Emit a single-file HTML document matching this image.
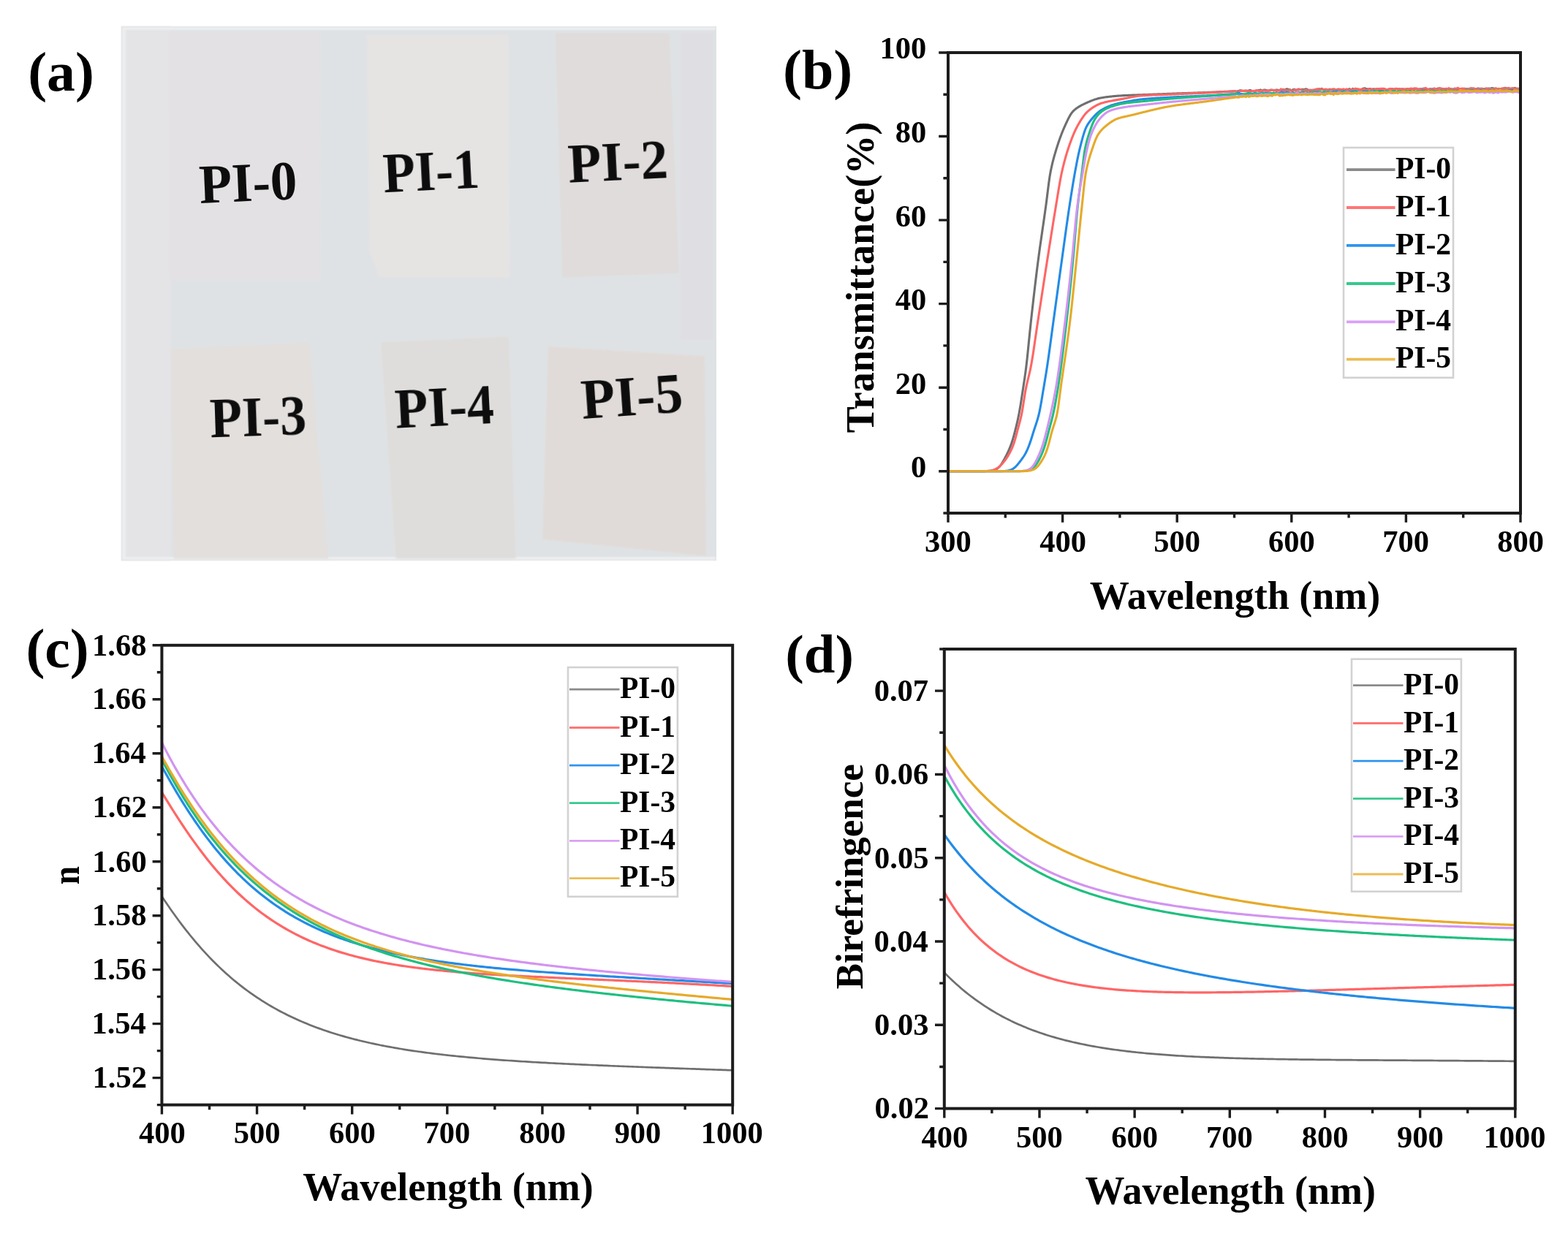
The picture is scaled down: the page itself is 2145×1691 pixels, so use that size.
<!DOCTYPE html><html><head><meta charset="utf-8"><title>PI films figure</title><style>html,body{margin:0;padding:0;background:#fff;}svg{display:block;}</style></head><body>
<svg width="2145" height="1691" viewBox="0 0 2145 1691">
<rect width="2145" height="1691" fill="#fff"/>
<defs><filter id="blur1" x="-5%" y="-5%" width="110%" height="110%"><feGaussianBlur stdDeviation="1.2"/></filter><filter id="blurT" x="-5%" y="-5%" width="110%" height="110%"><feGaussianBlur stdDeviation="0.6"/></filter></defs>
<rect x="166" y="36" width="814" height="731" fill="#dfe2e4"/>
<g filter="url(#blur1)">
<rect x="166" y="36" width="68" height="731" fill="#e4e3e6"/>
<rect x="167" y="37" width="812" height="4" fill="#eceef0"/>
<rect x="167" y="37" width="5" height="729" fill="#eceef0"/>
<rect x="167" y="762" width="812" height="4" fill="#eceef0"/>
<rect x="930" y="45" width="46" height="420" fill="#dfdfe3"/>
<polygon points="230.5,43.6 437.3,43.6 438,383 231,383" fill="#e3e1e3"/>
<polygon points="501.9,47.4 695.4,47.4 697,379.5 519,379.5 506,345" fill="#e6e3e3"/>
<polygon points="760,45.5 915.5,45.5 928.8,373.8 769.4,379.5" fill="#dfdcdb"/>
<polygon points="233.5,477.8 423,468.3 449,764.3 238,764.3" fill="#e2dfdd"/>
<polygon points="520.8,468.3 696,460.7 705.5,764.3 541.7,764.3" fill="#dfdddb"/>
<polygon points="750,474 964,487.3 966,760.5 742,737.8" fill="#e0dbd8"/>
</g>
<g filter="url(#blurT)" fill="#0b0b0b">
<text transform="translate(274.5,277.9) rotate(-2.5) scale(0.965,1)" x="-1.14" y="0" font-size="75.8" font-family="'Liberation Serif','Times New Roman',serif" font-weight="bold">PI-0</text>
<text transform="translate(526.3,263.2) rotate(-2.9) scale(0.93,1)" x="-1.16" y="0" font-size="77.5" font-family="'Liberation Serif','Times New Roman',serif" font-weight="bold">PI-1</text>
<text transform="translate(779.3,249.7) rotate(-2.8) scale(0.97,1)" x="-1.16" y="0" font-size="77.0" font-family="'Liberation Serif','Times New Roman',serif" font-weight="bold">PI-2</text>
<text transform="translate(289,598.3) rotate(-1.9) scale(0.93,1)" x="-1.16" y="0" font-size="77.4" font-family="'Liberation Serif','Times New Roman',serif" font-weight="bold">PI-3</text>
<text transform="translate(542.7,585.6) rotate(-2.9) scale(0.955,1)" x="-1.16" y="0" font-size="77.4" font-family="'Liberation Serif','Times New Roman',serif" font-weight="bold">PI-4</text>
<text transform="translate(797.9,572.9) rotate(-4.0) scale(0.98,1)" x="-1.16" y="0" font-size="77.4" font-family="'Liberation Serif','Times New Roman',serif" font-weight="bold">PI-5</text>
</g>
<text transform="translate(38.2,123.61) scale(1.0085,1)" x="0" y="0" font-size="77.11" font-family="'Liberation Serif','Times New Roman',serif" font-weight="bold">(a)</text>
<path d="M1297,644.73 L1300.6,644.73 L1301.54,644.73 L1302.6,644.73 L1303.76,644.73 L1305.01,644.73 L1306.33,644.73 L1307.7,644.73 L1309.12,644.73 L1310.57,644.73 L1312.04,644.73 L1313.52,644.73 L1315.01,644.73 L1316.51,644.73 L1318,644.73 L1319.5,644.73 L1321,644.73 L1322.5,644.73 L1324,644.73 L1325.5,644.73 L1327,644.73 L1328.5,644.73 L1330,644.73 L1331.5,644.73 L1333,644.72 L1334.5,644.72 L1336,644.72 L1337.5,644.71 L1339,644.71 L1340.5,644.7 L1342,644.69 L1343.5,644.67 L1345,644.65 L1346.49,644.63 L1347.99,644.59 L1349.48,644.55 L1350.97,644.48 L1352.45,644.39 L1353.91,644.27 L1355.36,644.11 L1356.78,643.89 L1358.18,643.61 L1359.54,643.25 L1360.85,642.81 L1362.11,642.26 L1363.32,641.62 L1364.46,640.88 L1365.55,640.03 L1366.57,639.09 L1367.54,638.07 L1368.45,636.98 L1369.32,635.83 L1370.15,634.63 L1370.95,633.4 L1371.72,632.13 L1372.47,630.85 L1373.2,629.55 L1373.92,628.24 L1374.63,626.92 L1375.33,625.6 L1376.03,624.27 L1376.71,622.93 L1377.38,621.59 L1378.03,620.25 L1378.68,618.9 L1379.31,617.54 L1379.93,616.17 L1380.53,614.8 L1381.11,613.42 L1381.67,612.03 L1382.22,610.64 L1382.75,609.24 L1383.27,607.83 L1383.77,606.42 L1384.25,605 L1384.71,603.58 L1385.16,602.15 L1385.59,600.71 L1386.02,599.28 L1386.43,597.84 L1386.83,596.39 L1387.23,594.94 L1387.61,593.5 L1387.99,592.05 L1388.37,590.59 L1388.74,589.14 L1389.11,587.69 L1389.48,586.23 L1389.84,584.78 L1390.2,583.32 L1390.55,581.86 L1390.9,580.41 L1391.25,578.95 L1391.59,577.48 L1391.92,576.02 L1392.24,574.56 L1392.56,573.09 L1392.87,571.63 L1393.17,570.16 L1393.47,568.69 L1393.76,567.22 L1394.04,565.74 L1394.32,564.27 L1394.59,562.79 L1394.85,561.32 L1395.11,559.84 L1395.36,558.36 L1395.61,556.88 L1395.86,555.4 L1396.1,553.92 L1396.34,552.44 L1396.57,550.96 L1396.81,549.48 L1397.04,548 L1397.27,546.52 L1397.5,545.03 L1397.73,543.55 L1397.96,542.07 L1398.19,540.59 L1398.41,539.1 L1398.64,537.62 L1398.87,536.14 L1399.09,534.65 L1399.32,533.17 L1399.55,531.69 L1399.77,530.21 L1400,528.72 L1400.23,527.24 L1400.45,525.76 L1400.68,524.27 L1400.9,522.79 L1401.13,521.31 L1401.35,519.82 L1401.57,518.34 L1401.79,516.86 L1402,515.37 L1402.21,513.89 L1402.42,512.4 L1402.63,510.92 L1402.83,509.43 L1403.03,507.94 L1403.23,506.46 L1403.42,504.97 L1403.61,503.48 L1403.8,501.99 L1403.98,500.5 L1404.16,499.02 L1404.33,497.53 L1404.5,496.04 L1404.67,494.55 L1404.84,493.05 L1405.01,491.56 L1405.17,490.07 L1405.33,488.58 L1405.49,487.09 L1405.65,485.6 L1405.8,484.11 L1405.96,482.61 L1406.11,481.12 L1406.26,479.63 L1406.41,478.14 L1406.56,476.65 L1406.72,475.15 L1406.86,473.66 L1407.01,472.17 L1407.16,470.68 L1407.31,469.18 L1407.46,467.69 L1407.61,466.2 L1407.76,464.7 L1407.91,463.21 L1408.06,461.72 L1408.21,460.23 L1408.36,458.73 L1408.51,457.24 L1408.66,455.75 L1408.81,454.26 L1408.96,452.77 L1409.11,451.27 L1409.27,449.78 L1409.43,448.29 L1409.58,446.8 L1409.74,445.31 L1409.9,443.81 L1410.06,442.32 L1410.22,440.83 L1410.38,439.34 L1410.55,437.85 L1410.71,436.36 L1410.88,434.87 L1411.04,433.38 L1411.21,431.89 L1411.37,430.39 L1411.54,428.9 L1411.71,427.41 L1411.87,425.92 L1412.04,424.43 L1412.21,422.94 L1412.38,421.45 L1412.55,419.96 L1412.71,418.47 L1412.88,416.98 L1413.05,415.49 L1413.22,414 L1413.39,412.51 L1413.56,411.02 L1413.73,409.53 L1413.9,408.04 L1414.07,406.55 L1414.25,405.06 L1414.42,403.57 L1414.59,402.08 L1414.76,400.59 L1414.94,399.1 L1415.11,397.61 L1415.29,396.12 L1415.46,394.63 L1415.64,393.14 L1415.81,391.65 L1415.99,390.16 L1416.17,388.67 L1416.34,387.18 L1416.52,385.69 L1416.7,384.2 L1416.88,382.71 L1417.06,381.22 L1417.24,379.73 L1417.42,378.24 L1417.6,376.76 L1417.79,375.27 L1417.97,373.78 L1418.16,372.29 L1418.34,370.8 L1418.53,369.31 L1418.71,367.82 L1418.9,366.34 L1419.09,364.85 L1419.28,363.36 L1419.47,361.87 L1419.66,360.38 L1419.86,358.9 L1420.05,357.41 L1420.24,355.92 L1420.44,354.44 L1420.64,352.95 L1420.84,351.46 L1421.04,349.98 L1421.24,348.49 L1421.44,347 L1421.64,345.52 L1421.85,344.03 L1422.05,342.54 L1422.26,341.06 L1422.46,339.57 L1422.67,338.09 L1422.88,336.6 L1423.09,335.12 L1423.3,333.63 L1423.51,332.15 L1423.72,330.66 L1423.94,329.18 L1424.15,327.69 L1424.36,326.21 L1424.58,324.72 L1424.79,323.24 L1425.01,321.75 L1425.23,320.27 L1425.44,318.79 L1425.66,317.3 L1425.87,315.82 L1426.09,314.33 L1426.31,312.85 L1426.52,311.36 L1426.74,309.88 L1426.96,308.39 L1427.17,306.91 L1427.39,305.43 L1427.6,303.94 L1427.82,302.46 L1428.03,300.97 L1428.25,299.49 L1428.46,298 L1428.67,296.52 L1428.89,295.03 L1429.1,293.55 L1429.31,292.06 L1429.52,290.58 L1429.73,289.09 L1429.93,287.61 L1430.14,286.12 L1430.35,284.64 L1430.55,283.15 L1430.75,281.66 L1430.95,280.18 L1431.15,278.69 L1431.35,277.2 L1431.54,275.72 L1431.73,274.23 L1431.92,272.74 L1432.11,271.25 L1432.3,269.76 L1432.48,268.28 L1432.67,266.79 L1432.85,265.3 L1433.04,263.81 L1433.22,262.32 L1433.4,260.83 L1433.59,259.34 L1433.77,257.85 L1433.96,256.37 L1434.15,254.88 L1434.34,253.39 L1434.53,251.9 L1434.73,250.42 L1434.93,248.93 L1435.14,247.44 L1435.35,245.96 L1435.56,244.48 L1435.79,242.99 L1436.02,241.51 L1436.26,240.03 L1436.51,238.55 L1436.78,237.08 L1437.05,235.6 L1437.33,234.13 L1437.62,232.66 L1437.92,231.19 L1438.23,229.72 L1438.55,228.26 L1438.88,226.79 L1439.21,225.33 L1439.56,223.87 L1439.91,222.41 L1440.27,220.96 L1440.64,219.5 L1441.02,218.05 L1441.4,216.6 L1441.8,215.16 L1442.2,213.71 L1442.61,212.27 L1443.03,210.83 L1443.45,209.39 L1443.88,207.95 L1444.31,206.51 L1444.75,205.08 L1445.19,203.65 L1445.63,202.21 L1446.08,200.78 L1446.54,199.35 L1447,197.93 L1447.47,196.5 L1447.94,195.08 L1448.42,193.66 L1448.91,192.24 L1449.41,190.82 L1449.91,189.41 L1450.42,188 L1450.94,186.59 L1451.46,185.19 L1452,183.78 L1452.54,182.39 L1453.09,180.99 L1453.66,179.6 L1454.23,178.22 L1454.81,176.84 L1455.41,175.46 L1456.01,174.09 L1456.63,172.72 L1457.24,171.35 L1457.86,169.98 L1458.49,168.62 L1459.12,167.26 L1459.75,165.9 L1460.39,164.54 L1461.05,163.19 L1461.71,161.85 L1462.4,160.52 L1463.11,159.2 L1463.84,157.89 L1464.62,156.61 L1465.44,155.36 L1466.32,154.15 L1467.27,153 L1468.28,151.9 L1469.35,150.87 L1470.48,149.88 L1471.64,148.94 L1472.84,148.04 L1474.06,147.18 L1475.32,146.36 L1476.59,145.57 L1477.89,144.83 L1479.21,144.11 L1480.55,143.43 L1481.89,142.77 L1483.24,142.12 L1484.61,141.49 L1485.97,140.87 L1487.34,140.26 L1488.71,139.66 L1490.09,139.06 L1491.47,138.48 L1492.86,137.91 L1494.26,137.37 L1495.66,136.84 L1497.07,136.33 L1498.49,135.86 L1499.92,135.41 L1501.37,135 L1502.82,134.62 L1504.28,134.28 L1505.74,133.98 L1507.22,133.72 L1508.7,133.47 L1510.18,133.25 L1511.67,133.03 L1513.15,132.83 L1514.64,132.63 L1516.13,132.45 L1517.62,132.27 L1519.11,132.1 L1520.6,131.94 L1522.09,131.79 L1523.58,131.65 L1525.08,131.51 L1526.57,131.38 L1528.07,131.26 L1529.56,131.14 L1531.06,131.03 L1532.56,130.93 L1534.05,130.83 L1535.55,130.74 L1537.05,130.66 L1538.54,130.58 L1540.04,130.51 L1541.54,130.44 L1543.04,130.38 L1544.54,130.32 L1546.04,130.26 L1547.54,130.21 L1549.04,130.16 L1550.54,130.11 L1552.03,130.06 L1553.53,130.01 L1555.03,129.97 L1556.53,129.92 L1558.03,129.87 L1559.53,129.81 L1561.03,129.76 L1562.53,129.71 L1564.03,129.65 L1565.53,129.59 L1567.03,129.54 L1568.52,129.48 L1570.02,129.43 L1571.52,129.37 L1573.02,129.31 L1574.52,129.26 L1576.02,129.2 L1577.52,129.14 L1579.02,129.09 L1580.52,129.03 L1582.01,128.97 L1583.51,128.92 L1585.01,128.86 L1586.51,128.8 L1588.01,128.75 L1589.51,128.69 L1591.01,128.63 L1592.51,128.58 L1594.01,128.52 L1595.51,128.47 L1597,128.41 L1598.5,128.36 L1600,128.3 L1601.5,128.25 L1603,128.19 L1604.5,128.14 L1606,128.08 L1607.5,128.03 L1609,127.98 L1610.5,127.92 L1611.99,127.87 L1613.49,127.82 L1614.99,127.76 L1616.49,127.71 L1617.99,127.66 L1619.49,127.61 L1620.99,127.55 L1622.49,127.5 L1623.99,127.45 L1625.49,127.4 L1626.99,127.34 L1628.48,127.29 L1629.98,127.24 L1631.48,127.18 L1632.98,127.13 L1634.48,127.08 L1635.98,127.02 L1637.48,126.97 L1638.98,126.91 L1640.48,126.86 L1641.98,126.8 L1643.47,126.75 L1644.97,126.69 L1646.47,126.63 L1647.97,126.58 L1649.47,126.52 L1650.97,126.46 L1652.47,126.4 L1653.97,126.34 L1655.46,126.27 L1656.96,126.21 L1658.46,126.14 L1659.96,126.08 L1661.46,126.01 L1662.96,125.94 L1664.46,125.87 L1665.95,125.8 L1667.45,125.73 L1668.95,125.66 L1670.45,125.59 L1671.95,125.52 L1673.45,125.45 L1674.94,125.38 L1676.44,125.31 L1677.94,125.24 L1679.44,125.18 L1680.94,125.11 L1682.44,125.04 L1683.94,124.98 L1685.43,124.92 L1686.93,124.86 L1688.43,124.8 L1689.93,124.74 L1691.43,125.35 L1692.93,124.84 L1694.43,124.63 L1695.93,123.7 L1697.43,123.84 L1698.93,124.26 L1700.42,124.18 L1701.92,124.26 L1703.42,124.1 L1704.92,123.98 L1706.42,124.21 L1707.92,123.97 L1709.42,123.62 L1710.92,123.66 L1712.42,124.62 L1713.92,124.58 L1715.42,124.8 L1716.92,124.76 L1718.42,123.98 L1719.92,123.74 L1721.42,123.6 L1722.92,123.38 L1724.42,122.9 L1725.92,124.01 L1727.42,123.73 L1728.92,123.06 L1730.42,123 L1731.92,123.41 L1733.42,124.03 L1734.92,124.33 L1736.42,123.74 L1737.92,123.14 L1739.42,123.02 L1740.92,123.29 L1742.41,123.87 L1743.91,123.49 L1745.41,123.16 L1746.91,123.03 L1748.41,123.25 L1749.91,123.66 L1751.41,124.16 L1752.91,124.02 L1754.41,122.54 L1755.91,122.8 L1757.41,122.81 L1758.91,122.49 L1760.41,121.74 L1761.91,122.39 L1763.41,122.56 L1764.91,122.83 L1766.41,123.77 L1767.91,123.18 L1769.41,122.52 L1770.91,122.39 L1772.41,123.39 L1773.91,122.91 L1775.41,122.32 L1776.91,122.06 L1778.41,122.55 L1779.91,122.53 L1781.41,122.42 L1782.91,122.45 L1784.41,122.84 L1785.91,121.79 L1787.41,122.02 L1788.91,122.78 L1790.41,123.34 L1791.91,123.25 L1793.41,123.28 L1794.91,123.34 L1796.41,123.32 L1797.91,123.47 L1799.41,122.72 L1800.91,122.22 L1802.41,123.08 L1803.91,121.85 L1805.41,121.8 L1806.91,121.96 L1808.41,121.36 L1809.91,122.67 L1811.41,123.19 L1812.91,123.03 L1814.41,122.33 L1815.91,123.2 L1817.41,122.75 L1818.91,122.13 L1820.41,122.49 L1821.91,122.48 L1823.41,122.1 L1824.91,121.95 L1826.41,122.62 L1827.91,123.28 L1829.41,122.61 L1830.91,122 L1832.41,122.86 L1833.91,122.37 L1835.41,122.78 L1836.91,123.16 L1838.41,122.57 L1839.91,122.65 L1841.41,122.66 L1842.91,122.58 L1844.41,122.4 L1845.91,121.65 L1847.41,122.23 L1848.91,122.64 L1850.41,121.39 L1851.91,122.11 L1853.41,122.46 L1854.91,122.34 L1856.41,121.68 L1857.91,122.12 L1859.41,122.57 L1860.91,122.69 L1862.41,122.15 L1863.91,121.75 L1865.41,121.01 L1866.91,120.68 L1868.41,121.55 L1869.91,121.72 L1871.41,121.79 L1872.91,121.74 L1874.41,121.53 L1875.91,122.13 L1877.41,122.04 L1878.91,121.81 L1880.41,122.02 L1881.91,122.37 L1883.41,122.02 L1884.91,121.63 L1886.41,121.88 L1887.91,122.98 L1889.41,122.96 L1890.91,122.24 L1892.41,121.26 L1893.91,121.8 L1895.41,122.17 L1896.91,122.45 L1898.41,122.75 L1899.91,122.25 L1901.41,121.88 L1902.91,121.64 L1904.41,121.54 L1905.91,122.15 L1907.41,122.25 L1908.91,122.02 L1910.41,121.64 L1911.91,121.79 L1913.41,121.76 L1914.91,121.86 L1916.41,122.36 L1917.91,121.72 L1919.41,121.86 L1920.91,122.26 L1922.41,122.41 L1923.91,122.24 L1925.41,121.79 L1926.91,121.71 L1928.41,122.69 L1929.91,121.77 L1931.41,121.79 L1932.91,121.94 L1934.41,121.4 L1935.91,120.95 L1937.41,121.39 L1938.91,121.98 L1940.41,122 L1941.91,121.83 L1943.41,121.88 L1944.91,121.84 L1946.41,121.42 L1947.91,121.37 L1949.41,121.52 L1950.91,122 L1952.41,122.93 L1953.91,122.43 L1955.41,121.86 L1956.91,121.62 L1958.41,122.1 L1959.91,121.62 L1961.41,121.47 L1962.91,121.67 L1964.41,122.25 L1965.91,121.62 L1967.41,121.06 L1968.91,120.83 L1970.41,121.17 L1971.91,121.61 L1973.41,121.77 L1974.91,121.94 L1976.41,122.44 L1977.91,121.55 L1979.41,121.68 L1980.91,122.07 L1982.41,121.92 L1983.91,121.66 L1985.41,121.86 L1986.91,122.1 L1988.41,121.94 L1989.91,121.32 L1991.41,121.7 L1992.91,121.93 L1994.41,120.89 L1995.91,121.46 L1997.41,121.63 L1998.91,121.67 L2000.41,121.85 L2001.91,121.33 L2003.41,121.36 L2004.91,121.54 L2006.41,121.49 L2007.91,122 L2009.41,121.62 L2010.91,121.21 L2012.41,121.6 L2013.91,121.44 L2015.41,121.07 L2016.91,121.35 L2018.41,123.14 L2019.9,121.89 L2021.4,121.05 L2022.9,121.05 L2024.4,122.35 L2025.9,121.23 L2027.4,121.29 L2028.9,121.79 L2030.4,122 L2031.9,121.32 L2033.4,121.15 L2034.9,121.19 L2036.4,121.14 L2037.9,121.32 L2039.4,120.92 L2040.9,120.53 L2042.4,120.7 L2043.9,121.18 L2045.4,121.7 L2046.9,121.98 L2048.4,121.8 L2049.9,122.28 L2051.4,122.13 L2052.9,121.64 L2054.4,121.09 L2055.9,121.26 L2057.4,120.74 L2058.9,120.32 L2060.4,120.8 L2061.9,120.76 L2063.4,121.14 L2064.9,121.57 L2066.4,121.74 L2067.9,121.19 L2069.4,120.99 L2070.9,120.84 L2072.4,120.4 L2073.9,121.03 L2075.37,121.35 L2076.77,121.49 L2077.99,121.57 L2078.91,121.57" fill="none" stroke="#6f6f6f" stroke-width="3.1" stroke-linejoin="round"/>
<path d="M1297,644.73 L1300.6,644.73 L1301.54,644.73 L1302.6,644.73 L1303.76,644.73 L1305.01,644.73 L1306.33,644.73 L1307.7,644.73 L1309.12,644.73 L1310.57,644.73 L1312.04,644.73 L1313.52,644.73 L1315.01,644.73 L1316.51,644.73 L1318,644.73 L1319.5,644.73 L1321,644.73 L1322.5,644.73 L1324,644.73 L1325.5,644.73 L1327,644.73 L1328.5,644.73 L1330,644.73 L1331.5,644.73 L1333,644.72 L1334.5,644.72 L1336,644.72 L1337.5,644.72 L1339,644.71 L1340.5,644.7 L1342,644.68 L1343.5,644.66 L1344.99,644.62 L1346.49,644.58 L1347.98,644.52 L1349.47,644.44 L1350.95,644.34 L1352.43,644.2 L1353.89,644.02 L1355.33,643.8 L1356.76,643.51 L1358.15,643.16 L1359.52,642.74 L1360.85,642.24 L1362.14,641.65 L1363.39,640.98 L1364.59,640.22 L1365.76,639.39 L1366.89,638.5 L1367.98,637.54 L1369.04,636.53 L1370.07,635.47 L1371.07,634.39 L1372.05,633.27 L1373,632.12 L1373.93,630.96 L1374.83,629.77 L1375.72,628.57 L1376.58,627.34 L1377.41,626.11 L1378.22,624.85 L1379.01,623.58 L1379.77,622.3 L1380.51,621 L1381.23,619.69 L1381.93,618.36 L1382.6,617.03 L1383.24,615.68 L1383.87,614.32 L1384.47,612.95 L1385.05,611.57 L1385.61,610.19 L1386.14,608.79 L1386.65,607.38 L1387.14,605.97 L1387.6,604.55 L1388.05,603.12 L1388.48,601.68 L1388.9,600.25 L1389.3,598.8 L1389.69,597.36 L1390.08,595.91 L1390.46,594.46 L1390.84,593.01 L1391.21,591.56 L1391.59,590.1 L1391.98,588.65 L1392.36,587.21 L1392.75,585.76 L1393.15,584.31 L1393.54,582.86 L1393.94,581.42 L1394.33,579.97 L1394.72,578.52 L1395.1,577.07 L1395.47,575.62 L1395.84,574.17 L1396.19,572.71 L1396.54,571.25 L1396.87,569.79 L1397.18,568.32 L1397.49,566.86 L1397.78,565.39 L1398.06,563.91 L1398.33,562.44 L1398.59,560.96 L1398.84,559.49 L1399.09,558.01 L1399.33,556.53 L1399.56,555.04 L1399.8,553.56 L1400.03,552.08 L1400.25,550.6 L1400.48,549.12 L1400.71,547.63 L1400.94,546.15 L1401.17,544.67 L1401.4,543.19 L1401.64,541.71 L1401.88,540.23 L1402.12,538.75 L1402.38,537.27 L1402.64,535.79 L1402.9,534.32 L1403.18,532.84 L1403.47,531.37 L1403.76,529.9 L1404.07,528.43 L1404.38,526.97 L1404.71,525.5 L1405.04,524.04 L1405.39,522.58 L1405.74,521.13 L1406.09,519.67 L1406.45,518.21 L1406.8,516.76 L1407.16,515.3 L1407.52,513.84 L1407.87,512.38 L1408.21,510.92 L1408.55,509.46 L1408.88,508 L1409.2,506.54 L1409.51,505.07 L1409.81,503.6 L1410.11,502.13 L1410.39,500.66 L1410.67,499.18 L1410.94,497.71 L1411.21,496.23 L1411.47,494.76 L1411.72,493.28 L1411.97,491.8 L1412.21,490.32 L1412.45,488.84 L1412.69,487.36 L1412.93,485.88 L1413.16,484.39 L1413.39,482.91 L1413.61,481.43 L1413.84,479.95 L1414.06,478.46 L1414.28,476.98 L1414.5,475.5 L1414.72,474.01 L1414.94,472.53 L1415.16,471.04 L1415.37,469.56 L1415.59,468.08 L1415.8,466.59 L1416.02,465.11 L1416.23,463.62 L1416.45,462.14 L1416.66,460.65 L1416.88,459.17 L1417.09,457.68 L1417.31,456.2 L1417.52,454.71 L1417.74,453.23 L1417.96,451.75 L1418.17,450.26 L1418.39,448.78 L1418.61,447.29 L1418.83,445.81 L1419.06,444.33 L1419.28,442.84 L1419.5,441.36 L1419.73,439.88 L1419.95,438.39 L1420.18,436.91 L1420.41,435.43 L1420.63,433.95 L1420.86,432.46 L1421.09,430.98 L1421.31,429.5 L1421.54,428.02 L1421.77,426.53 L1421.99,425.05 L1422.22,423.57 L1422.45,422.08 L1422.68,420.6 L1422.9,419.12 L1423.13,417.64 L1423.36,416.15 L1423.58,414.67 L1423.81,413.19 L1424.04,411.7 L1424.26,410.22 L1424.49,408.74 L1424.72,407.26 L1424.94,405.77 L1425.17,404.29 L1425.4,402.81 L1425.62,401.33 L1425.85,399.84 L1426.08,398.36 L1426.3,396.88 L1426.53,395.39 L1426.76,393.91 L1426.98,392.43 L1427.21,390.95 L1427.44,389.46 L1427.67,387.98 L1427.89,386.5 L1428.12,385.02 L1428.35,383.53 L1428.58,382.05 L1428.81,380.57 L1429.04,379.09 L1429.26,377.6 L1429.49,376.12 L1429.72,374.64 L1429.95,373.16 L1430.18,371.67 L1430.41,370.19 L1430.64,368.71 L1430.87,367.23 L1431.1,365.75 L1431.34,364.26 L1431.57,362.78 L1431.8,361.3 L1432.03,359.82 L1432.26,358.34 L1432.49,356.85 L1432.73,355.37 L1432.96,353.89 L1433.19,352.41 L1433.42,350.93 L1433.66,349.44 L1433.89,347.96 L1434.12,346.48 L1434.36,345 L1434.59,343.52 L1434.82,342.04 L1435.05,340.55 L1435.29,339.07 L1435.52,337.59 L1435.75,336.11 L1435.99,334.63 L1436.22,333.14 L1436.46,331.66 L1436.69,330.18 L1436.93,328.7 L1437.16,327.22 L1437.39,325.74 L1437.63,324.26 L1437.86,322.77 L1438.1,321.29 L1438.34,319.81 L1438.57,318.33 L1438.81,316.85 L1439.04,315.37 L1439.28,313.89 L1439.52,312.41 L1439.76,310.92 L1439.99,309.44 L1440.23,307.96 L1440.47,306.48 L1440.71,305 L1440.95,303.52 L1441.19,302.04 L1441.43,300.56 L1441.67,299.08 L1441.91,297.6 L1442.15,296.12 L1442.39,294.64 L1442.63,293.16 L1442.88,291.68 L1443.12,290.19 L1443.36,288.71 L1443.6,287.23 L1443.85,285.75 L1444.09,284.27 L1444.34,282.79 L1444.58,281.31 L1444.82,279.83 L1445.07,278.35 L1445.31,276.87 L1445.55,275.39 L1445.79,273.91 L1446.03,272.43 L1446.27,270.95 L1446.51,269.47 L1446.76,267.99 L1447,266.51 L1447.24,265.03 L1447.48,263.55 L1447.72,262.07 L1447.96,260.59 L1448.21,259.11 L1448.45,257.63 L1448.7,256.15 L1448.95,254.67 L1449.2,253.19 L1449.46,251.71 L1449.72,250.24 L1449.98,248.76 L1450.25,247.28 L1450.52,245.81 L1450.79,244.33 L1451.08,242.86 L1451.37,241.39 L1451.66,239.92 L1451.96,238.45 L1452.27,236.98 L1452.59,235.52 L1452.92,234.05 L1453.25,232.59 L1453.58,231.13 L1453.92,229.67 L1454.27,228.21 L1454.63,226.75 L1454.99,225.3 L1455.35,223.84 L1455.72,222.39 L1456.1,220.94 L1456.49,219.49 L1456.88,218.04 L1457.28,216.59 L1457.69,215.15 L1458.1,213.71 L1458.52,212.27 L1458.95,210.83 L1459.39,209.4 L1459.83,207.96 L1460.28,206.53 L1460.75,205.11 L1461.21,203.68 L1461.69,202.26 L1462.17,200.84 L1462.65,199.42 L1463.14,198 L1463.64,196.59 L1464.14,195.17 L1464.65,193.76 L1465.17,192.35 L1465.69,190.95 L1466.22,189.55 L1466.77,188.15 L1467.32,186.75 L1467.88,185.36 L1468.45,183.97 L1469.03,182.59 L1469.63,181.22 L1470.24,179.85 L1470.87,178.49 L1471.52,177.13 L1472.18,175.79 L1472.87,174.45 L1473.57,173.13 L1474.28,171.81 L1475.02,170.5 L1475.76,169.2 L1476.51,167.9 L1477.27,166.61 L1478.05,165.33 L1478.84,164.05 L1479.65,162.79 L1480.48,161.54 L1481.32,160.3 L1482.19,159.08 L1483.09,157.88 L1484.02,156.71 L1484.98,155.56 L1485.99,154.45 L1487.03,153.38 L1488.12,152.35 L1489.25,151.37 L1490.41,150.41 L1491.59,149.49 L1492.79,148.6 L1494.01,147.73 L1495.25,146.89 L1496.52,146.08 L1497.8,145.31 L1499.11,144.58 L1500.43,143.88 L1501.78,143.23 L1503.15,142.62 L1504.54,142.06 L1505.95,141.55 L1507.37,141.08 L1508.8,140.64 L1510.25,140.24 L1511.7,139.85 L1513.15,139.49 L1514.61,139.15 L1516.07,138.82 L1517.54,138.51 L1519.01,138.22 L1520.49,137.93 L1521.96,137.66 L1523.44,137.4 L1524.91,137.14 L1526.39,136.89 L1527.87,136.64 L1529.35,136.4 L1530.83,136.15 L1532.31,135.9 L1533.79,135.65 L1535.27,135.39 L1536.74,135.12 L1538.22,134.84 L1539.69,134.56 L1541.16,134.26 L1542.63,133.96 L1544.1,133.66 L1545.57,133.35 L1547.04,133.05 L1548.51,132.75 L1549.98,132.47 L1551.45,132.19 L1552.93,131.94 L1554.41,131.7 L1555.9,131.48 L1557.38,131.3 L1558.87,131.14 L1560.37,131 L1561.86,130.88 L1563.36,130.77 L1564.85,130.67 L1566.35,130.58 L1567.85,130.49 L1569.35,130.41 L1570.84,130.34 L1572.34,130.26 L1573.84,130.2 L1575.34,130.13 L1576.84,130.07 L1578.34,130.01 L1579.84,129.95 L1581.34,129.89 L1582.83,129.84 L1584.33,129.79 L1585.83,129.73 L1587.33,129.68 L1588.83,129.63 L1590.33,129.58 L1591.83,129.52 L1593.33,129.47 L1594.83,129.41 L1596.33,129.35 L1597.82,129.29 L1599.32,129.23 L1600.82,129.16 L1602.32,129.1 L1603.82,129.03 L1605.32,128.97 L1606.82,128.9 L1608.31,128.83 L1609.81,128.77 L1611.31,128.7 L1612.81,128.64 L1614.31,128.57 L1615.81,128.51 L1617.31,128.44 L1618.8,128.38 L1620.3,128.31 L1621.8,128.25 L1623.3,128.18 L1624.8,128.12 L1626.3,128.05 L1627.8,127.99 L1629.29,127.92 L1630.79,127.86 L1632.29,127.79 L1633.79,127.73 L1635.29,127.66 L1636.79,127.59 L1638.29,127.53 L1639.78,127.46 L1641.28,127.39 L1642.78,127.33 L1644.28,127.26 L1645.78,127.19 L1647.28,127.12 L1648.78,127.06 L1650.27,126.99 L1651.77,126.92 L1653.27,126.84 L1654.77,126.77 L1656.27,126.7 L1657.76,126.62 L1659.26,126.54 L1660.76,126.46 L1662.26,126.38 L1663.76,126.31 L1665.25,126.23 L1666.75,126.14 L1668.25,126.06 L1669.75,125.98 L1671.25,125.9 L1672.74,125.82 L1674.24,125.74 L1675.74,125.66 L1677.24,125.59 L1678.74,125.51 L1680.23,125.43 L1681.73,125.36 L1683.23,125.28 L1684.73,125.21 L1686.23,125.14 L1687.72,125.07 L1689.22,125.01 L1690.72,124.89 L1692.22,126.07 L1693.72,125.66 L1695.22,125.09 L1696.72,124.59 L1698.22,124.34 L1699.72,124.39 L1701.21,124.51 L1702.71,124.59 L1704.21,124.47 L1705.71,124.65 L1707.21,124.77 L1708.71,124.9 L1710.21,125.13 L1711.71,124.99 L1713.21,124.55 L1714.71,124.21 L1716.21,124.39 L1717.71,124.01 L1719.21,123.8 L1720.71,124.07 L1722.21,125.16 L1723.71,124.06 L1725.21,124.41 L1726.71,124.76 L1728.21,123.68 L1729.71,123.92 L1731.21,124.23 L1732.71,124.29 L1734.21,123.78 L1735.7,123.91 L1737.2,123.75 L1738.7,123.49 L1740.2,123.36 L1741.7,123.47 L1743.2,123.35 L1744.7,123.52 L1746.2,124.52 L1747.7,123.68 L1749.2,123.95 L1750.7,123.83 L1752.2,121.82 L1753.7,123.01 L1755.2,123.55 L1756.7,123.56 L1758.2,123.15 L1759.7,123.75 L1761.2,123.8 L1762.7,123.5 L1764.2,123.07 L1765.7,123.36 L1767.2,124.16 L1768.7,124.46 L1770.2,123.28 L1771.7,123.28 L1773.2,123.04 L1774.7,122.88 L1776.2,123.12 L1777.7,122.45 L1779.2,122.55 L1780.7,123.25 L1782.2,124.42 L1783.7,123.77 L1785.2,123.41 L1786.7,123.33 L1788.2,123.52 L1789.7,123.85 L1791.2,123.56 L1792.7,123.37 L1794.2,124.02 L1795.7,123.55 L1797.2,123.11 L1798.7,123.05 L1800.2,123.73 L1801.7,121.88 L1803.2,121.78 L1804.7,122.43 L1806.2,122.79 L1807.7,122.24 L1809.2,122.28 L1810.7,122.42 L1812.2,122.18 L1813.7,122.16 L1815.2,123.16 L1816.7,123.84 L1818.2,122.89 L1819.7,122.57 L1821.2,122.87 L1822.7,123.04 L1824.2,122.33 L1825.7,122.82 L1827.2,122.82 L1828.7,122.84 L1830.2,123.41 L1831.7,122.03 L1833.2,122.22 L1834.69,122.77 L1836.19,122.47 L1837.69,121.88 L1839.19,122.35 L1840.69,122.72 L1842.19,121.84 L1843.69,122.95 L1845.19,122.99 L1846.69,122.67 L1848.19,122.75 L1849.69,122.46 L1851.19,122.61 L1852.69,122.44 L1854.19,121.18 L1855.69,122.05 L1857.19,122.12 L1858.69,122.04 L1860.19,122.44 L1861.69,122.29 L1863.19,122.43 L1864.69,122.41 L1866.19,121.75 L1867.69,122.94 L1869.19,123.48 L1870.69,123.24 L1872.19,122.1 L1873.69,122.18 L1875.19,122.29 L1876.69,122.52 L1878.19,122.96 L1879.69,123.24 L1881.19,122.39 L1882.69,121.54 L1884.19,121.8 L1885.69,121.6 L1887.19,121.51 L1888.69,121.41 L1890.19,121.16 L1891.69,122.06 L1893.19,121.89 L1894.69,121.83 L1896.19,123.02 L1897.69,122.75 L1899.19,122.07 L1900.69,121.48 L1902.19,121.47 L1903.69,121.65 L1905.19,122.31 L1906.69,122.57 L1908.19,121.55 L1909.69,121.25 L1911.19,121.58 L1912.69,122.07 L1914.19,122.25 L1915.69,121.78 L1917.19,122.3 L1918.69,122.76 L1920.19,122.13 L1921.69,122.22 L1923.19,121.85 L1924.69,121.57 L1926.19,121.93 L1927.69,121.87 L1929.19,121.21 L1930.69,120.95 L1932.19,122.09 L1933.69,121.14 L1935.19,121.35 L1936.69,121.66 L1938.19,121 L1939.69,122.56 L1941.19,122.57 L1942.69,122.13 L1944.19,122.36 L1945.69,122.38 L1947.19,121.71 L1948.69,120.88 L1950.19,120.44 L1951.69,121.31 L1953.19,121.96 L1954.69,122.2 L1956.19,121.83 L1957.69,122.14 L1959.19,122.28 L1960.69,121.95 L1962.19,120.85 L1963.69,121.64 L1965.19,122.41 L1966.69,122.52 L1968.19,121.37 L1969.69,120.71 L1971.19,121.02 L1972.69,121.52 L1974.19,121.41 L1975.69,121.8 L1977.19,121.53 L1978.69,121.28 L1980.19,121.71 L1981.69,120.67 L1983.19,121.24 L1984.69,122.27 L1986.19,122.59 L1987.69,122.46 L1989.19,121.56 L1990.69,120.99 L1992.19,121.81 L1993.69,120.32 L1995.19,120.8 L1996.69,121.73 L1998.19,121.57 L1999.69,121.14 L2001.19,121.4 L2002.69,121.77 L2004.19,121.67 L2005.69,122.03 L2007.19,121.91 L2008.69,121.68 L2010.19,121.72 L2011.69,120.74 L2013.19,120.64 L2014.69,120.98 L2016.19,121.28 L2017.69,121.63 L2019.19,121.65 L2020.69,121.78 L2022.19,122.46 L2023.69,121.39 L2025.19,121.22 L2026.69,121.48 L2028.19,121.7 L2029.69,121.48 L2031.19,121.62 L2032.69,121.68 L2034.19,121.2 L2035.69,122.09 L2037.19,121.86 L2038.69,121.56 L2040.19,122.2 L2041.69,121.68 L2043.19,121.96 L2044.69,121.99 L2046.19,120.68 L2047.69,121.54 L2049.19,121.54 L2050.69,121.36 L2052.19,121.65 L2053.69,122.09 L2055.19,121.53 L2056.69,120.8 L2058.19,120.72 L2059.69,120.86 L2061.19,121.28 L2062.69,121.34 L2064.19,120.37 L2065.69,121.26 L2067.19,121.15 L2068.69,120.75 L2070.19,120.82 L2071.69,121.16 L2073.19,121.5 L2074.67,121.58 L2076.1,121.12 L2077.39,121.18 L2078.43,121.2 L2078.7,121.2" fill="none" stroke="#ff6666" stroke-width="3.1" stroke-linejoin="round"/>
<path d="M1297,644.73 L1300.6,644.73 L1301.54,644.73 L1302.6,644.73 L1303.76,644.73 L1305.01,644.73 L1306.33,644.73 L1307.7,644.73 L1309.12,644.73 L1310.57,644.73 L1312.04,644.73 L1313.52,644.73 L1315.01,644.73 L1316.51,644.73 L1318,644.73 L1319.5,644.73 L1321,644.73 L1322.5,644.73 L1324,644.73 L1325.5,644.73 L1327,644.73 L1328.5,644.73 L1330,644.73 L1331.5,644.73 L1333,644.73 L1334.5,644.73 L1336,644.73 L1337.5,644.73 L1339,644.73 L1340.5,644.73 L1342,644.73 L1343.5,644.73 L1345,644.73 L1346.5,644.73 L1348,644.73 L1349.5,644.73 L1351,644.73 L1352.5,644.73 L1354,644.73 L1355.5,644.73 L1357,644.73 L1358.5,644.72 L1360,644.72 L1361.5,644.72 L1363,644.71 L1364.5,644.7 L1366,644.69 L1367.5,644.67 L1368.99,644.64 L1370.49,644.6 L1371.98,644.54 L1373.46,644.46 L1374.94,644.36 L1376.4,644.21 L1377.84,644.02 L1379.25,643.77 L1380.64,643.46 L1381.98,643.07 L1383.28,642.59 L1384.53,642.01 L1385.72,641.34 L1386.87,640.58 L1387.96,639.72 L1389,638.79 L1390.01,637.79 L1390.99,636.74 L1391.94,635.64 L1392.88,634.52 L1393.81,633.37 L1394.73,632.21 L1395.65,631.04 L1396.56,629.86 L1397.45,628.67 L1398.33,627.46 L1399.19,626.25 L1400.02,625.01 L1400.83,623.76 L1401.61,622.49 L1402.35,621.21 L1403.07,619.9 L1403.75,618.57 L1404.41,617.23 L1405.04,615.88 L1405.65,614.52 L1406.23,613.14 L1406.8,611.75 L1407.35,610.36 L1407.88,608.96 L1408.4,607.56 L1408.91,606.15 L1409.4,604.73 L1409.88,603.31 L1410.35,601.89 L1410.8,600.46 L1411.26,599.03 L1411.7,597.6 L1412.14,596.17 L1412.59,594.73 L1413.03,593.3 L1413.47,591.87 L1413.92,590.44 L1414.38,589.01 L1414.84,587.58 L1415.3,586.16 L1415.77,584.73 L1416.25,583.31 L1416.72,581.89 L1417.19,580.47 L1417.66,579.04 L1418.13,577.62 L1418.58,576.19 L1419.02,574.76 L1419.45,573.32 L1419.86,571.88 L1420.25,570.44 L1420.63,568.99 L1421,567.53 L1421.35,566.08 L1421.68,564.62 L1422,563.15 L1422.31,561.69 L1422.61,560.22 L1422.89,558.75 L1423.17,557.27 L1423.45,555.8 L1423.71,554.32 L1423.97,552.85 L1424.23,551.37 L1424.49,549.89 L1424.74,548.41 L1424.99,546.93 L1425.23,545.45 L1425.48,543.97 L1425.73,542.49 L1425.97,541.01 L1426.22,539.53 L1426.46,538.05 L1426.71,536.57 L1426.96,535.09 L1427.2,533.62 L1427.45,532.14 L1427.7,530.66 L1427.95,529.18 L1428.2,527.7 L1428.45,526.22 L1428.7,524.74 L1428.95,523.26 L1429.2,521.78 L1429.45,520.3 L1429.7,518.82 L1429.94,517.34 L1430.19,515.86 L1430.43,514.38 L1430.67,512.9 L1430.91,511.42 L1431.15,509.94 L1431.39,508.46 L1431.62,506.98 L1431.85,505.5 L1432.08,504.02 L1432.31,502.53 L1432.53,501.05 L1432.76,499.57 L1432.98,498.08 L1433.2,496.6 L1433.42,495.11 L1433.63,493.63 L1433.85,492.15 L1434.06,490.66 L1434.27,489.18 L1434.48,487.69 L1434.69,486.21 L1434.9,484.72 L1435.11,483.24 L1435.32,481.75 L1435.52,480.26 L1435.73,478.78 L1435.93,477.29 L1436.14,475.81 L1436.34,474.32 L1436.54,472.83 L1436.75,471.35 L1436.95,469.86 L1437.15,468.37 L1437.35,466.89 L1437.55,465.4 L1437.75,463.92 L1437.95,462.43 L1438.15,460.94 L1438.36,459.46 L1438.56,457.97 L1438.76,456.48 L1438.96,455 L1439.16,453.51 L1439.36,452.02 L1439.56,450.54 L1439.76,449.05 L1439.97,447.56 L1440.17,446.08 L1440.37,444.59 L1440.58,443.11 L1440.78,441.62 L1440.98,440.13 L1441.19,438.65 L1441.39,437.16 L1441.6,435.68 L1441.8,434.19 L1442.01,432.7 L1442.21,431.22 L1442.41,429.73 L1442.62,428.25 L1442.82,426.76 L1443.03,425.27 L1443.23,423.79 L1443.44,422.3 L1443.64,420.82 L1443.84,419.33 L1444.05,417.84 L1444.25,416.36 L1444.45,414.87 L1444.66,413.38 L1444.86,411.9 L1445.06,410.41 L1445.27,408.93 L1445.47,407.44 L1445.68,405.95 L1445.88,404.47 L1446.08,402.98 L1446.29,401.5 L1446.49,400.01 L1446.69,398.52 L1446.9,397.04 L1447.1,395.55 L1447.3,394.07 L1447.51,392.58 L1447.71,391.09 L1447.91,389.61 L1448.12,388.12 L1448.32,386.63 L1448.53,385.15 L1448.73,383.66 L1448.93,382.18 L1449.14,380.69 L1449.34,379.2 L1449.55,377.72 L1449.75,376.23 L1449.96,374.75 L1450.16,373.26 L1450.37,371.77 L1450.57,370.29 L1450.78,368.8 L1450.99,367.32 L1451.19,365.83 L1451.4,364.35 L1451.6,362.86 L1451.81,361.37 L1452.02,359.89 L1452.22,358.4 L1452.43,356.92 L1452.63,355.43 L1452.84,353.95 L1453.04,352.46 L1453.25,350.97 L1453.46,349.49 L1453.66,348 L1453.87,346.52 L1454.07,345.03 L1454.28,343.54 L1454.48,342.06 L1454.69,340.57 L1454.89,339.09 L1455.09,337.6 L1455.3,336.11 L1455.5,334.63 L1455.71,333.14 L1455.91,331.66 L1456.12,330.17 L1456.32,328.68 L1456.53,327.2 L1456.73,325.71 L1456.94,324.23 L1457.15,322.74 L1457.35,321.26 L1457.56,319.77 L1457.77,318.28 L1457.97,316.8 L1458.18,315.31 L1458.39,313.83 L1458.6,312.34 L1458.81,310.86 L1459.02,309.37 L1459.23,307.89 L1459.44,306.4 L1459.65,304.92 L1459.86,303.43 L1460.07,301.95 L1460.28,300.46 L1460.5,298.98 L1460.71,297.49 L1460.93,296.01 L1461.14,294.52 L1461.36,293.04 L1461.58,291.55 L1461.8,290.07 L1462.02,288.59 L1462.24,287.1 L1462.46,285.62 L1462.68,284.14 L1462.91,282.65 L1463.13,281.17 L1463.36,279.69 L1463.58,278.2 L1463.81,276.72 L1464.04,275.24 L1464.27,273.76 L1464.5,272.27 L1464.73,270.79 L1464.96,269.31 L1465.19,267.83 L1465.42,266.35 L1465.66,264.86 L1465.89,263.38 L1466.13,261.9 L1466.36,260.42 L1466.6,258.94 L1466.84,257.46 L1467.08,255.98 L1467.32,254.5 L1467.57,253.02 L1467.81,251.54 L1468.06,250.06 L1468.31,248.58 L1468.56,247.1 L1468.81,245.62 L1469.07,244.14 L1469.32,242.67 L1469.58,241.19 L1469.84,239.71 L1470.11,238.23 L1470.37,236.76 L1470.64,235.28 L1470.91,233.81 L1471.18,232.33 L1471.45,230.86 L1471.73,229.38 L1472,227.91 L1472.28,226.43 L1472.56,224.96 L1472.84,223.49 L1473.12,222.01 L1473.41,220.54 L1473.7,219.07 L1473.99,217.6 L1474.29,216.13 L1474.6,214.66 L1474.9,213.19 L1475.22,211.73 L1475.54,210.26 L1475.87,208.8 L1476.21,207.34 L1476.55,205.88 L1476.9,204.42 L1477.26,202.96 L1477.62,201.5 L1477.98,200.05 L1478.35,198.59 L1478.72,197.14 L1479.09,195.69 L1479.46,194.23 L1479.85,192.78 L1480.23,191.33 L1480.62,189.89 L1481.02,188.44 L1481.43,187 L1481.85,185.56 L1482.28,184.12 L1482.72,182.69 L1483.18,181.26 L1483.66,179.84 L1484.16,178.43 L1484.69,177.02 L1485.26,175.64 L1485.87,174.27 L1486.53,172.93 L1487.23,171.61 L1487.99,170.31 L1488.79,169.04 L1489.63,167.81 L1490.51,166.59 L1491.42,165.4 L1492.36,164.24 L1493.31,163.08 L1494.28,161.93 L1495.26,160.8 L1496.25,159.67 L1497.26,158.56 L1498.28,157.47 L1499.33,156.4 L1500.41,155.36 L1501.52,154.35 L1502.67,153.4 L1503.86,152.49 L1505.09,151.63 L1506.34,150.82 L1507.62,150.03 L1508.92,149.28 L1510.23,148.56 L1511.56,147.87 L1512.91,147.2 L1514.26,146.57 L1515.64,145.96 L1517.02,145.39 L1518.42,144.84 L1519.82,144.33 L1521.24,143.84 L1522.67,143.39 L1524.11,142.95 L1525.55,142.55 L1527,142.16 L1528.45,141.79 L1529.91,141.43 L1531.37,141.09 L1532.83,140.77 L1534.3,140.46 L1535.77,140.15 L1537.24,139.86 L1538.71,139.57 L1540.19,139.29 L1541.66,139.02 L1543.13,138.74 L1544.61,138.47 L1546.09,138.2 L1547.56,137.93 L1549.04,137.66 L1550.51,137.4 L1551.99,137.15 L1553.47,136.91 L1554.95,136.68 L1556.44,136.46 L1557.93,136.27 L1559.41,136.09 L1560.91,135.92 L1562.4,135.77 L1563.89,135.62 L1565.38,135.49 L1566.88,135.35 L1568.37,135.23 L1569.87,135.1 L1571.36,134.98 L1572.86,134.87 L1574.35,134.76 L1575.85,134.65 L1577.35,134.54 L1578.84,134.44 L1580.34,134.34 L1581.84,134.25 L1583.33,134.15 L1584.83,134.06 L1586.33,133.97 L1587.83,133.88 L1589.32,133.8 L1590.82,133.71 L1592.32,133.63 L1593.82,133.54 L1595.31,133.46 L1596.81,133.38 L1598.31,133.29 L1599.81,133.21 L1601.3,133.13 L1602.8,133.05 L1604.3,132.97 L1605.8,132.89 L1607.3,132.82 L1608.79,132.74 L1610.29,132.67 L1611.79,132.6 L1613.29,132.53 L1614.79,132.46 L1616.29,132.39 L1617.78,132.32 L1619.28,132.26 L1620.78,132.19 L1622.28,132.13 L1623.78,132.06 L1625.28,132 L1626.78,131.94 L1628.27,131.87 L1629.77,131.81 L1631.27,131.74 L1632.77,131.68 L1634.27,131.62 L1635.77,131.55 L1637.27,131.49 L1638.77,131.42 L1640.26,131.35 L1641.76,131.29 L1643.26,131.22 L1644.76,131.15 L1646.26,131.08 L1647.76,131.01 L1649.25,130.93 L1650.75,130.86 L1652.25,130.78 L1653.75,130.7 L1655.25,130.62 L1656.74,130.54 L1658.24,130.45 L1659.74,130.36 L1661.24,130.27 L1662.73,130.18 L1664.23,130.09 L1665.73,130 L1667.22,129.91 L1668.72,129.81 L1670.22,129.72 L1671.72,129.63 L1673.21,129.54 L1674.71,129.44 L1676.21,129.35 L1677.7,129.26 L1679.2,129.17 L1680.7,129.09 L1682.2,129 L1683.69,128.92 L1685.19,128.84 L1686.69,128.76 L1688.19,128.68 L1689.69,128.61 L1691.19,128.45 L1692.68,127.95 L1694.18,126.81 L1695.68,127.76 L1697.18,128.19 L1698.68,128.45 L1700.18,128.86 L1701.68,129.24 L1703.18,128.92 L1704.68,128.38 L1706.18,128.08 L1707.68,127.57 L1709.17,127.69 L1710.67,128.07 L1712.17,128.35 L1713.67,128.53 L1715.17,127.93 L1716.67,127.42 L1718.17,127.89 L1719.67,128.12 L1721.17,128.49 L1722.67,128.53 L1724.17,127.78 L1725.67,127.39 L1727.17,127.2 L1728.67,127.18 L1730.17,127.3 L1731.67,127.14 L1733.17,127.51 L1734.67,127.96 L1736.17,128.05 L1737.67,127.87 L1739.17,127.93 L1740.67,127.8 L1742.17,127.03 L1743.67,127.38 L1745.17,127.25 L1746.67,127.06 L1748.17,127.23 L1749.67,127.74 L1751.17,127.51 L1752.67,126.84 L1754.17,125.98 L1755.67,126.68 L1757.17,126.76 L1758.67,126.48 L1760.17,126.09 L1761.67,126.39 L1763.17,126.99 L1764.67,127.6 L1766.16,127.9 L1767.66,126.89 L1769.16,126.99 L1770.66,127.43 L1772.16,127.48 L1773.66,126.41 L1775.16,126.36 L1776.66,126.67 L1778.16,126.64 L1779.66,126.71 L1781.16,126.19 L1782.66,125.82 L1784.16,126.35 L1785.66,126.96 L1787.16,127.2 L1788.66,127.32 L1790.16,127.55 L1791.66,126.55 L1793.16,126.86 L1794.66,127.32 L1796.16,126.75 L1797.66,125.82 L1799.16,126.13 L1800.66,126.57 L1802.16,126.05 L1803.66,126.41 L1805.16,126.33 L1806.66,126.32 L1808.16,126.89 L1809.66,126.44 L1811.16,126.11 L1812.66,126.12 L1814.16,126.66 L1815.66,126.32 L1817.16,125.99 L1818.66,126.02 L1820.16,126.76 L1821.66,125.99 L1823.16,125.65 L1824.66,125.57 L1826.16,125.6 L1827.66,125.17 L1829.16,125.28 L1830.66,125.9 L1832.16,126.97 L1833.66,125.71 L1835.16,125.55 L1836.66,125.64 L1838.16,125.12 L1839.66,125.33 L1841.16,126.03 L1842.66,126.56 L1844.16,126.26 L1845.66,125.57 L1847.16,125.51 L1848.66,125.55 L1850.16,125.16 L1851.66,125.17 L1853.16,125.12 L1854.66,125.07 L1856.16,125.06 L1857.66,125.6 L1859.16,125.85 L1860.66,125.9 L1862.15,125.84 L1863.65,125.53 L1865.15,125.06 L1866.65,124.88 L1868.15,125.45 L1869.65,125.05 L1871.15,125.45 L1872.65,125.92 L1874.15,125.76 L1875.65,125.84 L1877.15,125.52 L1878.65,124.96 L1880.15,124.29 L1881.65,125.52 L1883.15,126.01 L1884.65,125.67 L1886.15,124.43 L1887.65,125.15 L1889.15,125.7 L1890.65,125.66 L1892.15,124.62 L1893.65,125.89 L1895.15,125.67 L1896.65,124.91 L1898.15,124.57 L1899.65,125.66 L1901.15,125.69 L1902.65,125.21 L1904.15,124.77 L1905.65,125.45 L1907.15,124.81 L1908.65,124.52 L1910.15,126.2 L1911.65,125 L1913.15,124.93 L1914.65,125.14 L1916.15,124.82 L1917.65,125.18 L1919.15,125.43 L1920.65,125.3 L1922.15,124.52 L1923.65,125.23 L1925.15,125.13 L1926.65,124.74 L1928.15,124.55 L1929.65,124.74 L1931.15,124.57 L1932.65,124.35 L1934.15,124.43 L1935.65,125.21 L1937.15,125.13 L1938.65,124.98 L1940.15,125.55 L1941.65,125.22 L1943.15,124.66 L1944.65,124.08 L1946.15,123.68 L1947.65,124.21 L1949.15,124.66 L1950.65,124.9 L1952.15,124.77 L1953.65,124.38 L1955.15,124.8 L1956.65,124.93 L1958.15,123.67 L1959.65,123.88 L1961.15,124.36 L1962.65,125.07 L1964.15,125.99 L1965.65,125.18 L1967.15,124.47 L1968.65,124.28 L1970.15,124.98 L1971.65,125.01 L1973.15,125.09 L1974.65,124.96 L1976.15,124.34 L1977.65,124.15 L1979.15,124.36 L1980.65,124.66 L1982.15,124.79 L1983.65,125.31 L1985.15,125.62 L1986.65,125.33 L1988.15,124.05 L1989.65,124.13 L1991.15,124.29 L1992.65,124.39 L1994.15,124.3 L1995.65,124.61 L1997.15,124.71 L1998.65,124.67 L2000.15,124.55 L2001.65,125.03 L2003.15,124.73 L2004.65,124.14 L2006.15,123.72 L2007.65,123.48 L2009.15,123.55 L2010.65,123.7 L2012.15,123.68 L2013.65,123.29 L2015.15,123.92 L2016.65,124.6 L2018.15,124.37 L2019.65,124.09 L2021.15,123.84 L2022.65,123.59 L2024.15,123.27 L2025.65,123.55 L2027.15,124.47 L2028.65,124.68 L2030.15,122.84 L2031.65,123.89 L2033.15,124.41 L2034.65,124.49 L2036.15,124.21 L2037.65,123.99 L2039.15,124.24 L2040.65,124.27 L2042.15,123.42 L2043.65,124.15 L2045.15,124.65 L2046.65,124.53 L2048.15,123.41 L2049.65,123.5 L2051.15,123.81 L2052.65,124.21 L2054.15,124.58 L2055.65,124.73 L2057.15,124.57 L2058.65,124.16 L2060.15,123.54 L2061.65,123.33 L2063.15,123.66 L2064.65,124.08 L2066.15,124.14 L2067.65,123.45 L2069.15,123.57 L2070.65,123.95 L2072.15,124.06 L2073.64,124.37 L2075.11,123.85 L2076.51,123.46 L2077.73,124.15 L2078.65,124.14" fill="none" stroke="#238be6" stroke-width="3.1" stroke-linejoin="round"/>
<path d="M1297,644.73 L1300.6,644.73 L1301.54,644.73 L1302.6,644.73 L1303.76,644.73 L1305.01,644.73 L1306.33,644.73 L1307.7,644.73 L1309.12,644.73 L1310.57,644.73 L1312.04,644.73 L1313.52,644.73 L1315.01,644.73 L1316.51,644.73 L1318,644.73 L1319.5,644.73 L1321,644.73 L1322.5,644.73 L1324,644.73 L1325.5,644.73 L1327,644.73 L1328.5,644.73 L1330,644.73 L1331.5,644.73 L1333,644.73 L1334.5,644.73 L1336,644.73 L1337.5,644.73 L1339,644.73 L1340.5,644.73 L1342,644.73 L1343.5,644.73 L1345,644.73 L1346.5,644.73 L1348,644.73 L1349.5,644.73 L1351,644.73 L1352.5,644.73 L1354,644.73 L1355.5,644.73 L1357,644.73 L1358.5,644.73 L1360,644.73 L1361.5,644.73 L1363,644.73 L1364.5,644.73 L1366,644.73 L1367.5,644.73 L1369,644.73 L1370.5,644.73 L1372,644.73 L1373.5,644.73 L1375,644.73 L1376.5,644.73 L1378,644.73 L1379.5,644.73 L1381,644.73 L1382.5,644.73 L1384,644.72 L1385.5,644.72 L1387,644.72 L1388.5,644.71 L1390,644.71 L1391.5,644.69 L1393,644.68 L1394.49,644.65 L1395.99,644.62 L1397.48,644.57 L1398.97,644.5 L1400.45,644.41 L1401.91,644.29 L1403.36,644.12 L1404.78,643.9 L1406.18,643.62 L1407.53,643.27 L1408.83,642.83 L1410.08,642.29 L1411.27,641.65 L1412.4,640.92 L1413.47,640.08 L1414.47,639.15 L1415.42,638.13 L1416.32,637.04 L1417.18,635.9 L1418,634.7 L1418.79,633.47 L1419.56,632.21 L1420.31,630.93 L1421.04,629.63 L1421.75,628.32 L1422.44,626.99 L1423.1,625.65 L1423.75,624.3 L1424.38,622.95 L1424.98,621.58 L1425.56,620.2 L1426.13,618.81 L1426.67,617.42 L1427.19,616.02 L1427.7,614.61 L1428.19,613.19 L1428.67,611.77 L1429.13,610.35 L1429.58,608.92 L1430.02,607.48 L1430.44,606.05 L1430.85,604.61 L1431.25,603.16 L1431.64,601.71 L1432.02,600.26 L1432.4,598.81 L1432.77,597.36 L1433.13,595.9 L1433.5,594.45 L1433.87,593 L1434.23,591.54 L1434.61,590.09 L1434.98,588.64 L1435.36,587.19 L1435.75,585.74 L1436.14,584.29 L1436.53,582.84 L1436.92,581.39 L1437.31,579.95 L1437.7,578.5 L1438.09,577.05 L1438.47,575.6 L1438.85,574.15 L1439.22,572.7 L1439.58,571.24 L1439.93,569.78 L1440.28,568.32 L1440.61,566.86 L1440.94,565.4 L1441.26,563.93 L1441.57,562.47 L1441.88,561 L1442.18,559.53 L1442.47,558.06 L1442.76,556.59 L1443.04,555.11 L1443.32,553.64 L1443.6,552.17 L1443.87,550.69 L1444.14,549.22 L1444.4,547.74 L1444.67,546.26 L1444.92,544.79 L1445.18,543.31 L1445.43,541.83 L1445.68,540.35 L1445.93,538.87 L1446.18,537.39 L1446.42,535.91 L1446.66,534.43 L1446.9,532.95 L1447.14,531.47 L1447.38,529.99 L1447.61,528.51 L1447.84,527.02 L1448.07,525.54 L1448.29,524.06 L1448.52,522.57 L1448.74,521.09 L1448.96,519.61 L1449.17,518.12 L1449.39,516.64 L1449.6,515.15 L1449.81,513.67 L1450.02,512.18 L1450.23,510.7 L1450.44,509.21 L1450.64,507.73 L1450.84,506.24 L1451.04,504.75 L1451.24,503.27 L1451.44,501.78 L1451.64,500.29 L1451.83,498.81 L1452.03,497.32 L1452.22,495.83 L1452.42,494.34 L1452.61,492.86 L1452.8,491.37 L1452.99,489.88 L1453.18,488.39 L1453.36,486.9 L1453.55,485.42 L1453.74,483.93 L1453.92,482.44 L1454.11,480.95 L1454.29,479.46 L1454.47,477.97 L1454.66,476.48 L1454.84,474.99 L1455.02,473.51 L1455.2,472.02 L1455.38,470.53 L1455.56,469.04 L1455.74,467.55 L1455.92,466.06 L1456.1,464.57 L1456.28,463.08 L1456.45,461.59 L1456.63,460.1 L1456.81,458.61 L1456.98,457.12 L1457.16,455.63 L1457.34,454.14 L1457.51,452.65 L1457.69,451.16 L1457.86,449.68 L1458.04,448.19 L1458.21,446.7 L1458.39,445.21 L1458.56,443.72 L1458.74,442.23 L1458.91,440.74 L1459.08,439.25 L1459.26,437.76 L1459.43,436.27 L1459.6,434.78 L1459.77,433.29 L1459.94,431.8 L1460.11,430.31 L1460.28,428.81 L1460.45,427.32 L1460.62,425.83 L1460.79,424.34 L1460.96,422.85 L1461.12,421.36 L1461.29,419.87 L1461.46,418.38 L1461.62,416.89 L1461.78,415.4 L1461.95,413.91 L1462.11,412.42 L1462.27,410.93 L1462.44,409.43 L1462.6,407.94 L1462.76,406.45 L1462.92,404.96 L1463.08,403.47 L1463.24,401.98 L1463.4,400.49 L1463.55,398.99 L1463.71,397.5 L1463.87,396.01 L1464.02,394.52 L1464.18,393.03 L1464.34,391.53 L1464.49,390.04 L1464.64,388.55 L1464.8,387.06 L1464.95,385.57 L1465.1,384.07 L1465.26,382.58 L1465.41,381.09 L1465.56,379.6 L1465.71,378.1 L1465.86,376.61 L1466.01,375.12 L1466.16,373.63 L1466.31,372.13 L1466.45,370.64 L1466.6,369.15 L1466.75,367.66 L1466.89,366.16 L1467.04,364.67 L1467.18,363.18 L1467.33,361.68 L1467.47,360.19 L1467.61,358.7 L1467.75,357.2 L1467.89,355.71 L1468.03,354.22 L1468.16,352.72 L1468.3,351.23 L1468.43,349.74 L1468.56,348.24 L1468.69,346.75 L1468.82,345.25 L1468.95,343.76 L1469.08,342.26 L1469.21,340.77 L1469.33,339.27 L1469.46,337.78 L1469.58,336.28 L1469.71,334.79 L1469.83,333.3 L1469.96,331.8 L1470.08,330.31 L1470.2,328.81 L1470.33,327.32 L1470.45,325.82 L1470.57,324.33 L1470.69,322.83 L1470.82,321.34 L1470.94,319.84 L1471.06,318.35 L1471.19,316.85 L1471.31,315.36 L1471.43,313.86 L1471.56,312.37 L1471.68,310.87 L1471.81,309.38 L1471.93,307.88 L1472.06,306.39 L1472.19,304.89 L1472.32,303.4 L1472.44,301.9 L1472.57,300.41 L1472.71,298.92 L1472.84,297.42 L1472.97,295.93 L1473.11,294.43 L1473.25,292.94 L1473.39,291.45 L1473.53,289.95 L1473.67,288.46 L1473.82,286.97 L1473.97,285.47 L1474.12,283.98 L1474.27,282.49 L1474.43,281 L1474.59,279.51 L1474.75,278.02 L1474.91,276.52 L1475.08,275.03 L1475.25,273.54 L1475.42,272.05 L1475.6,270.56 L1475.77,269.07 L1475.95,267.59 L1476.13,266.1 L1476.32,264.61 L1476.5,263.12 L1476.69,261.63 L1476.88,260.14 L1477.07,258.66 L1477.26,257.17 L1477.46,255.68 L1477.65,254.19 L1477.85,252.71 L1478.04,251.22 L1478.24,249.73 L1478.44,248.24 L1478.63,246.76 L1478.83,245.27 L1479.02,243.78 L1479.22,242.3 L1479.41,240.81 L1479.6,239.32 L1479.79,237.83 L1479.98,236.34 L1480.16,234.86 L1480.35,233.37 L1480.53,231.88 L1480.71,230.39 L1480.88,228.9 L1481.06,227.41 L1481.24,225.92 L1481.41,224.43 L1481.59,222.94 L1481.77,221.45 L1481.94,219.96 L1482.13,218.47 L1482.31,216.98 L1482.5,215.5 L1482.69,214.01 L1482.89,212.52 L1483.1,211.04 L1483.32,209.55 L1483.55,208.07 L1483.79,206.59 L1484.05,205.12 L1484.33,203.64 L1484.62,202.17 L1484.93,200.7 L1485.25,199.24 L1485.59,197.78 L1485.94,196.32 L1486.3,194.86 L1486.68,193.41 L1487.07,191.96 L1487.48,190.52 L1487.9,189.08 L1488.33,187.64 L1488.77,186.21 L1489.23,184.78 L1489.69,183.35 L1490.15,181.93 L1490.62,180.5 L1491.1,179.08 L1491.58,177.66 L1492.07,176.24 L1492.58,174.83 L1493.09,173.42 L1493.62,172.02 L1494.17,170.62 L1494.74,169.24 L1495.33,167.86 L1495.96,166.5 L1496.64,165.16 L1497.35,163.85 L1498.12,162.57 L1498.94,161.31 L1499.8,160.08 L1500.7,158.89 L1501.64,157.72 L1502.62,156.59 L1503.65,155.5 L1504.72,154.46 L1505.84,153.48 L1507.02,152.55 L1508.23,151.68 L1509.49,150.87 L1510.78,150.11 L1512.09,149.39 L1513.43,148.72 L1514.79,148.08 L1516.16,147.49 L1517.55,146.93 L1518.96,146.41 L1520.37,145.9 L1521.79,145.43 L1523.22,144.97 L1524.65,144.52 L1526.09,144.1 L1527.53,143.69 L1528.98,143.3 L1530.44,142.93 L1531.89,142.59 L1533.36,142.26 L1534.83,141.96 L1536.3,141.68 L1537.78,141.43 L1539.26,141.2 L1540.75,140.99 L1542.23,140.79 L1543.72,140.61 L1545.21,140.44 L1546.7,140.27 L1548.19,140.12 L1549.69,139.97 L1551.18,139.83 L1552.67,139.69 L1554.17,139.55 L1555.66,139.41 L1557.15,139.27 L1558.65,139.13 L1560.14,138.98 L1561.63,138.83 L1563.12,138.68 L1564.62,138.53 L1566.11,138.38 L1567.6,138.24 L1569.1,138.09 L1570.59,137.94 L1572.08,137.79 L1573.57,137.64 L1575.07,137.49 L1576.56,137.35 L1578.05,137.2 L1579.54,137.06 L1581.04,136.91 L1582.53,136.77 L1584.02,136.63 L1585.52,136.49 L1587.01,136.35 L1588.5,136.21 L1590,136.08 L1591.49,135.94 L1592.99,135.81 L1594.48,135.68 L1595.98,135.55 L1597.47,135.42 L1598.96,135.29 L1600.46,135.16 L1601.95,135.04 L1603.45,134.92 L1604.94,134.79 L1606.44,134.67 L1607.93,134.55 L1609.43,134.43 L1610.92,134.31 L1612.42,134.19 L1613.91,134.08 L1615.41,133.96 L1616.91,133.85 L1618.4,133.73 L1619.9,133.62 L1621.39,133.5 L1622.89,133.39 L1624.38,133.28 L1625.88,133.17 L1627.38,133.06 L1628.87,132.95 L1630.37,132.84 L1631.86,132.74 L1633.36,132.63 L1634.86,132.53 L1636.35,132.42 L1637.85,132.32 L1639.35,132.21 L1640.84,132.11 L1642.34,132.01 L1643.84,131.91 L1645.33,131.81 L1646.83,131.71 L1648.33,131.61 L1649.82,131.51 L1651.32,131.41 L1652.82,131.31 L1654.31,131.22 L1655.81,131.12 L1657.31,131.02 L1658.8,130.92 L1660.3,130.82 L1661.8,130.72 L1663.29,130.62 L1664.79,130.52 L1666.29,130.42 L1667.78,130.32 L1669.28,130.22 L1670.78,130.12 L1672.27,130.03 L1673.77,129.93 L1675.27,129.84 L1676.77,129.75 L1678.26,129.66 L1679.76,129.57 L1681.26,129.48 L1682.76,129.4 L1684.25,129.31 L1685.75,129.23 L1687.25,129.15 L1688.75,129.08 L1690.24,128.3 L1691.74,128.57 L1693.24,128.72 L1694.74,129 L1696.24,129.65 L1697.74,130.4 L1699.24,129.7 L1700.74,128.77 L1702.24,128.83 L1703.73,129.01 L1705.23,128.33 L1706.73,127.89 L1708.23,128.8 L1709.73,127.85 L1711.23,128.37 L1712.73,129.16 L1714.23,129.04 L1715.73,128.58 L1717.23,128 L1718.73,127.94 L1720.23,129.02 L1721.73,128.35 L1723.23,128.06 L1724.73,128.05 L1726.23,128.23 L1727.73,127.16 L1729.23,127.43 L1730.73,128.12 L1732.22,128.34 L1733.72,128.02 L1735.22,127.83 L1736.72,127.57 L1738.22,127.05 L1739.72,127.74 L1741.22,127.82 L1742.72,127.62 L1744.22,127.51 L1745.72,127.22 L1747.22,127.53 L1748.72,127.99 L1750.22,128.14 L1751.72,127.72 L1753.22,127.72 L1754.72,127.9 L1756.22,128.07 L1757.72,128.16 L1759.22,127.76 L1760.72,127.26 L1762.22,127.03 L1763.72,126.91 L1765.22,126.98 L1766.72,127.16 L1768.22,127.37 L1769.72,127.52 L1771.22,127.14 L1772.72,126.79 L1774.22,127.02 L1775.72,126.48 L1777.22,126.96 L1778.72,127.36 L1780.22,126.59 L1781.72,126.9 L1783.22,126.66 L1784.72,126.37 L1786.21,126.54 L1787.71,126.34 L1789.21,126.97 L1790.71,127.46 L1792.21,126.83 L1793.71,126.57 L1795.21,126.23 L1796.71,126.02 L1798.21,126.15 L1799.71,126.65 L1801.21,127.14 L1802.71,126.98 L1804.21,125.56 L1805.71,125.77 L1807.21,126.05 L1808.71,126.18 L1810.21,125.96 L1811.71,125.47 L1813.21,125.8 L1814.71,126.39 L1816.21,126.7 L1817.71,125.63 L1819.21,125.8 L1820.71,126.43 L1822.21,126.75 L1823.71,126.74 L1825.21,126.3 L1826.71,126.27 L1828.21,127.48 L1829.71,126.68 L1831.21,125.99 L1832.71,125.83 L1834.21,126.62 L1835.71,125.66 L1837.21,125.93 L1838.71,126.19 L1840.21,125.21 L1841.71,126.11 L1843.21,125.99 L1844.71,125.82 L1846.21,126.58 L1847.71,126.39 L1849.21,126.23 L1850.71,126.06 L1852.21,125.87 L1853.71,126.32 L1855.21,125.59 L1856.71,125.05 L1858.21,126.04 L1859.71,126.02 L1861.21,126.04 L1862.71,126.11 L1864.21,126.22 L1865.71,127.5 L1867.21,126.84 L1868.71,125.85 L1870.21,126.15 L1871.71,125.84 L1873.21,126.16 L1874.71,126.03 L1876.21,124.4 L1877.71,126.06 L1879.21,125.89 L1880.71,124.92 L1882.21,124.2 L1883.71,124.72 L1885.21,125.16 L1886.71,125.47 L1888.21,125.62 L1889.71,125.5 L1891.21,125.71 L1892.71,125.83 L1894.21,125.43 L1895.71,125.4 L1897.21,124.76 L1898.71,124.52 L1900.21,125.69 L1901.71,125.91 L1903.21,125.55 L1904.71,124.89 L1906.21,124.22 L1907.71,124.45 L1909.21,125.42 L1910.71,125.97 L1912.21,124.93 L1913.71,124.89 L1915.21,124.82 L1916.71,124.98 L1918.21,125.65 L1919.71,125.06 L1921.21,124.77 L1922.71,124.58 L1924.21,124.28 L1925.71,124.9 L1927.21,125.43 L1928.71,125.57 L1930.21,125.04 L1931.71,125.49 L1933.21,125.42 L1934.71,125.19 L1936.21,125.17 L1937.71,125.17 L1939.21,125.12 L1940.71,125.21 L1942.21,125.65 L1943.71,125.39 L1945.21,124.98 L1946.71,124.75 L1948.21,125.06 L1949.71,124.95 L1951.21,125.08 L1952.7,125.19 L1954.2,125.04 L1955.7,125.13 L1957.2,124.59 L1958.7,124.29 L1960.2,125.11 L1961.7,125.52 L1963.2,124.85 L1964.7,124.48 L1966.2,125.8 L1967.7,125.2 L1969.2,124.84 L1970.7,124.44 L1972.2,123.71 L1973.7,125 L1975.2,124.8 L1976.7,124.24 L1978.2,124.44 L1979.7,124.9 L1981.2,124.58 L1982.7,124.1 L1984.2,124.11 L1985.7,124.03 L1987.2,124.3 L1988.7,124.71 L1990.2,125.02 L1991.7,124.92 L1993.2,124.89 L1994.7,124.76 L1996.2,124.42 L1997.7,124.63 L1999.2,124.44 L2000.7,124.58 L2002.2,125.79 L2003.7,124.96 L2005.2,124.04 L2006.7,123.52 L2008.2,123.91 L2009.7,125.1 L2011.2,124.6 L2012.7,123.84 L2014.2,124.25 L2015.7,124.62 L2017.2,124.29 L2018.7,124.16 L2020.2,125.12 L2021.7,125.39 L2023.2,124.72 L2024.7,124.25 L2026.2,125.13 L2027.7,124.21 L2029.2,123.87 L2030.7,124.01 L2032.2,124.56 L2033.7,124.55 L2035.2,124.29 L2036.7,124.25 L2038.2,124.89 L2039.7,123.84 L2041.2,123.67 L2042.7,123.82 L2044.2,123.71 L2045.7,124.53 L2047.2,124.81 L2048.7,124.79 L2050.2,124.73 L2051.7,123.84 L2053.2,123.96 L2054.7,124.43 L2056.2,124.57 L2057.7,123.63 L2059.2,123.55 L2060.7,124.01 L2062.2,124.66 L2063.7,124.68 L2065.2,124.55 L2066.7,124.45 L2068.2,124.57 L2069.7,124.47 L2071.2,124.38 L2072.7,124.28 L2074.19,124.16 L2075.65,123.81 L2077,123.88 L2078.13,124.06 L2078.71,124.06" fill="none" stroke="#1fbf80" stroke-width="3.1" stroke-linejoin="round"/>
<path d="M1297,644.73 L1300.6,644.73 L1301.54,644.73 L1302.6,644.73 L1303.76,644.73 L1305.01,644.73 L1306.33,644.73 L1307.7,644.73 L1309.12,644.73 L1310.57,644.73 L1312.04,644.73 L1313.52,644.73 L1315.01,644.73 L1316.51,644.73 L1318,644.73 L1319.5,644.73 L1321,644.73 L1322.5,644.73 L1324,644.73 L1325.5,644.73 L1327,644.73 L1328.5,644.73 L1330,644.73 L1331.5,644.73 L1333,644.73 L1334.5,644.73 L1336,644.73 L1337.5,644.73 L1339,644.73 L1340.5,644.73 L1342,644.73 L1343.5,644.73 L1345,644.73 L1346.5,644.73 L1348,644.73 L1349.5,644.73 L1351,644.73 L1352.5,644.73 L1354,644.73 L1355.5,644.73 L1357,644.73 L1358.5,644.73 L1360,644.73 L1361.5,644.73 L1363,644.73 L1364.5,644.73 L1366,644.73 L1367.5,644.73 L1369,644.73 L1370.5,644.73 L1372,644.73 L1373.5,644.73 L1375,644.73 L1376.5,644.73 L1378,644.73 L1379.5,644.73 L1381,644.73 L1382.5,644.73 L1384,644.72 L1385.5,644.72 L1387,644.72 L1388.5,644.71 L1390,644.7 L1391.5,644.68 L1392.99,644.65 L1394.48,644.61 L1395.97,644.56 L1397.45,644.48 L1398.92,644.37 L1400.37,644.22 L1401.8,644.03 L1403.19,643.77 L1404.55,643.43 L1405.86,643.01 L1407.1,642.5 L1408.29,641.88 L1409.41,641.16 L1410.46,640.34 L1411.45,639.41 L1412.37,638.4 L1413.24,637.31 L1414.07,636.15 L1414.85,634.95 L1415.61,633.7 L1416.34,632.42 L1417.05,631.12 L1417.75,629.81 L1418.43,628.48 L1419.09,627.14 L1419.74,625.79 L1420.37,624.44 L1420.99,623.07 L1421.59,621.7 L1422.17,620.32 L1422.74,618.94 L1423.29,617.54 L1423.83,616.15 L1424.35,614.74 L1424.86,613.33 L1425.35,611.92 L1425.83,610.5 L1426.3,609.07 L1426.76,607.65 L1427.2,606.21 L1427.63,604.78 L1428.05,603.34 L1428.46,601.9 L1428.86,600.45 L1429.25,599 L1429.63,597.56 L1430.01,596.1 L1430.38,594.65 L1430.75,593.2 L1431.12,591.74 L1431.48,590.29 L1431.84,588.83 L1432.21,587.38 L1432.56,585.92 L1432.92,584.46 L1433.28,583.01 L1433.64,581.55 L1433.99,580.09 L1434.34,578.63 L1434.69,577.17 L1435.04,575.72 L1435.38,574.26 L1435.72,572.8 L1436.06,571.33 L1436.4,569.87 L1436.73,568.41 L1437.07,566.95 L1437.4,565.48 L1437.72,564.02 L1438.05,562.56 L1438.37,561.09 L1438.7,559.63 L1439.01,558.16 L1439.33,556.7 L1439.65,555.23 L1439.96,553.76 L1440.27,552.29 L1440.58,550.83 L1440.88,549.36 L1441.18,547.89 L1441.48,546.42 L1441.77,544.95 L1442.06,543.48 L1442.35,542 L1442.63,540.53 L1442.92,539.06 L1443.19,537.58 L1443.47,536.11 L1443.74,534.63 L1444,533.16 L1444.27,531.68 L1444.52,530.2 L1444.78,528.72 L1445.03,527.25 L1445.28,525.77 L1445.53,524.29 L1445.77,522.81 L1446.01,521.33 L1446.25,519.85 L1446.48,518.36 L1446.72,516.88 L1446.95,515.4 L1447.17,513.92 L1447.4,512.43 L1447.62,510.95 L1447.84,509.47 L1448.06,507.98 L1448.28,506.5 L1448.49,505.02 L1448.71,503.53 L1448.92,502.05 L1449.13,500.56 L1449.34,499.08 L1449.55,497.59 L1449.75,496.1 L1449.96,494.62 L1450.16,493.13 L1450.37,491.65 L1450.57,490.16 L1450.77,488.67 L1450.97,487.19 L1451.17,485.7 L1451.37,484.21 L1451.56,482.73 L1451.76,481.24 L1451.96,479.75 L1452.15,478.26 L1452.34,476.78 L1452.54,475.29 L1452.73,473.8 L1452.92,472.31 L1453.11,470.83 L1453.31,469.34 L1453.5,467.85 L1453.69,466.36 L1453.88,464.88 L1454.07,463.39 L1454.25,461.9 L1454.44,460.41 L1454.63,458.92 L1454.82,457.43 L1455.01,455.95 L1455.19,454.46 L1455.38,452.97 L1455.57,451.48 L1455.75,449.99 L1455.94,448.5 L1456.12,447.02 L1456.31,445.53 L1456.49,444.04 L1456.68,442.55 L1456.86,441.06 L1457.05,439.57 L1457.23,438.08 L1457.41,436.6 L1457.59,435.11 L1457.78,433.62 L1457.96,432.13 L1458.13,430.64 L1458.31,429.15 L1458.49,427.66 L1458.67,426.17 L1458.85,424.68 L1459.02,423.19 L1459.2,421.7 L1459.37,420.21 L1459.54,418.72 L1459.72,417.23 L1459.89,415.74 L1460.06,414.25 L1460.23,412.76 L1460.4,411.27 L1460.57,409.78 L1460.74,408.29 L1460.91,406.8 L1461.07,405.31 L1461.24,403.82 L1461.41,402.33 L1461.58,400.84 L1461.74,399.35 L1461.91,397.86 L1462.07,396.36 L1462.24,394.87 L1462.4,393.38 L1462.56,391.89 L1462.73,390.4 L1462.89,388.91 L1463.05,387.42 L1463.22,385.93 L1463.38,384.44 L1463.54,382.94 L1463.7,381.45 L1463.86,379.96 L1464.02,378.47 L1464.18,376.98 L1464.34,375.49 L1464.5,374 L1464.66,372.51 L1464.82,371.01 L1464.98,369.52 L1465.14,368.03 L1465.3,366.54 L1465.46,365.05 L1465.62,363.56 L1465.77,362.06 L1465.93,360.57 L1466.08,359.08 L1466.24,357.59 L1466.39,356.1 L1466.54,354.6 L1466.69,353.11 L1466.84,351.62 L1466.99,350.13 L1467.14,348.63 L1467.28,347.14 L1467.43,345.65 L1467.57,344.15 L1467.72,342.66 L1467.86,341.17 L1468,339.67 L1468.14,338.18 L1468.28,336.69 L1468.42,335.19 L1468.56,333.7 L1468.7,332.21 L1468.84,330.71 L1468.97,329.22 L1469.11,327.73 L1469.25,326.23 L1469.39,324.74 L1469.53,323.25 L1469.67,321.75 L1469.81,320.26 L1469.95,318.77 L1470.09,317.27 L1470.23,315.78 L1470.37,314.28 L1470.51,312.79 L1470.65,311.3 L1470.79,309.81 L1470.94,308.31 L1471.08,306.82 L1471.23,305.33 L1471.38,303.83 L1471.53,302.34 L1471.68,300.85 L1471.83,299.36 L1471.98,297.86 L1472.14,296.37 L1472.3,294.88 L1472.46,293.39 L1472.62,291.9 L1472.79,290.41 L1472.96,288.92 L1473.13,287.43 L1473.31,285.94 L1473.49,284.45 L1473.67,282.96 L1473.86,281.47 L1474.05,279.99 L1474.25,278.5 L1474.45,277.01 L1474.65,275.53 L1474.86,274.04 L1475.08,272.56 L1475.29,271.07 L1475.51,269.59 L1475.74,268.11 L1475.96,266.62 L1476.2,265.14 L1476.43,263.66 L1476.67,262.18 L1476.91,260.7 L1477.15,259.22 L1477.4,257.74 L1477.65,256.26 L1477.9,254.78 L1478.16,253.3 L1478.41,251.82 L1478.67,250.35 L1478.93,248.87 L1479.19,247.39 L1479.45,245.91 L1479.71,244.44 L1479.97,242.96 L1480.23,241.48 L1480.49,240.01 L1480.74,238.53 L1481,237.05 L1481.26,235.57 L1481.51,234.09 L1481.76,232.61 L1482.02,231.14 L1482.27,229.66 L1482.52,228.18 L1482.77,226.7 L1483.03,225.22 L1483.28,223.74 L1483.54,222.27 L1483.79,220.79 L1484.06,219.31 L1484.32,217.83 L1484.59,216.36 L1484.86,214.88 L1485.13,213.41 L1485.42,211.94 L1485.71,210.46 L1486.01,208.99 L1486.31,207.53 L1486.63,206.06 L1486.96,204.6 L1487.29,203.13 L1487.63,201.67 L1487.98,200.21 L1488.33,198.76 L1488.69,197.3 L1489.06,195.85 L1489.44,194.4 L1489.83,192.95 L1490.24,191.5 L1490.66,190.06 L1491.1,188.63 L1491.56,187.2 L1492.05,185.79 L1492.56,184.38 L1493.1,182.98 L1493.67,181.59 L1494.25,180.21 L1494.85,178.84 L1495.47,177.47 L1496.11,176.11 L1496.77,174.76 L1497.44,173.43 L1498.14,172.1 L1498.87,170.79 L1499.62,169.49 L1500.4,168.21 L1501.21,166.95 L1502.06,165.72 L1502.95,164.51 L1503.87,163.33 L1504.83,162.18 L1505.82,161.06 L1506.84,159.95 L1507.88,158.88 L1508.95,157.83 L1510.04,156.81 L1511.18,155.83 L1512.35,154.91 L1513.57,154.04 L1514.84,153.25 L1516.15,152.54 L1517.5,151.9 L1518.88,151.33 L1520.28,150.81 L1521.7,150.32 L1523.13,149.87 L1524.57,149.45 L1526.02,149.06 L1527.47,148.69 L1528.93,148.34 L1530.39,148.02 L1531.86,147.72 L1533.33,147.43 L1534.81,147.16 L1536.29,146.9 L1537.77,146.66 L1539.25,146.42 L1540.73,146.2 L1542.22,145.99 L1543.7,145.8 L1545.19,145.61 L1546.68,145.44 L1548.17,145.27 L1549.66,145.1 L1551.15,144.94 L1552.65,144.79 L1554.14,144.63 L1555.63,144.47 L1557.12,144.31 L1558.61,144.15 L1560.1,143.98 L1561.59,143.82 L1563.08,143.65 L1564.57,143.48 L1566.06,143.3 L1567.55,143.13 L1569.04,142.96 L1570.53,142.79 L1572.02,142.62 L1573.52,142.45 L1575.01,142.28 L1576.5,142.11 L1577.99,141.95 L1579.48,141.78 L1580.97,141.61 L1582.46,141.45 L1583.95,141.28 L1585.44,141.12 L1586.93,140.96 L1588.42,140.8 L1589.91,140.64 L1591.41,140.48 L1592.9,140.32 L1594.39,140.17 L1595.88,140.01 L1597.37,139.86 L1598.87,139.71 L1600.36,139.57 L1601.85,139.42 L1603.35,139.28 L1604.84,139.13 L1606.33,138.99 L1607.83,138.85 L1609.32,138.71 L1610.81,138.57 L1612.31,138.44 L1613.8,138.3 L1615.29,138.17 L1616.79,138.03 L1618.28,137.9 L1619.78,137.77 L1621.27,137.64 L1622.77,137.51 L1624.26,137.38 L1625.75,137.25 L1627.25,137.12 L1628.74,136.99 L1630.24,136.86 L1631.73,136.73 L1633.23,136.61 L1634.72,136.48 L1636.22,136.36 L1637.71,136.23 L1639.21,136.1 L1640.7,135.98 L1642.2,135.85 L1643.69,135.73 L1645.18,135.6 L1646.68,135.48 L1648.17,135.35 L1649.67,135.23 L1651.16,135.1 L1652.66,134.97 L1654.15,134.84 L1655.65,134.72 L1657.14,134.58 L1658.64,134.45 L1660.13,134.32 L1661.62,134.19 L1663.12,134.06 L1664.61,133.92 L1666.11,133.79 L1667.6,133.66 L1669.09,133.53 L1670.59,133.4 L1672.08,133.27 L1673.58,133.14 L1675.07,133.01 L1676.57,132.88 L1678.06,132.76 L1679.56,132.63 L1681.05,132.51 L1682.55,132.39 L1684.04,132.27 L1685.54,132.16 L1687.03,132.05 L1688.53,131.94 L1690.03,131.59 L1691.52,132.71 L1693.02,132.4 L1694.52,131.64 L1696.01,131.43 L1697.51,131.24 L1699.01,131.15 L1700.51,131.08 L1702,130.93 L1703.5,131.22 L1705,131.09 L1706.5,130.97 L1708,131.27 L1709.49,130.52 L1710.99,130.54 L1712.49,130.86 L1713.99,131.02 L1715.49,130.04 L1716.99,130.06 L1718.48,130.41 L1719.98,130.37 L1721.48,130.05 L1722.98,129.85 L1724.48,129.54 L1725.98,128.86 L1727.48,130.15 L1728.97,129.91 L1730.47,129.18 L1731.97,128.99 L1733.47,129.78 L1734.97,129.26 L1736.47,128.88 L1737.97,130.08 L1739.47,129.79 L1740.97,129.71 L1742.46,129.59 L1743.96,129.2 L1745.46,128.67 L1746.96,128.27 L1748.46,128.52 L1749.96,129.97 L1751.46,129.06 L1752.96,128.71 L1754.46,128.97 L1755.96,129.87 L1757.46,128.83 L1758.96,128.57 L1760.46,128.65 L1761.96,128.6 L1763.45,128.61 L1764.95,128.31 L1766.45,128.07 L1767.95,128.25 L1769.45,129.04 L1770.95,129.12 L1772.45,128.36 L1773.95,126.64 L1775.45,127.06 L1776.95,127.86 L1778.45,128.44 L1779.95,128.2 L1781.45,128.05 L1782.95,128.4 L1784.45,128.36 L1785.95,127.06 L1787.45,128.37 L1788.95,128.46 L1790.45,128.17 L1791.95,128.32 L1793.45,128.16 L1794.95,128.26 L1796.44,128.24 L1797.94,127.72 L1799.44,127.56 L1800.94,127.88 L1802.44,128.16 L1803.94,127.86 L1805.44,127.19 L1806.94,127.73 L1808.44,128.46 L1809.94,128.37 L1811.44,128.45 L1812.94,128.06 L1814.44,127.67 L1815.94,127.77 L1817.44,127.42 L1818.94,127.11 L1820.44,127.07 L1821.94,127.52 L1823.44,127.55 L1824.94,127.29 L1826.44,127.4 L1827.94,128.5 L1829.44,126.93 L1830.94,126.64 L1832.44,126.89 L1833.94,126.93 L1835.44,127.8 L1836.94,127.62 L1838.44,127.13 L1839.94,127.08 L1841.44,126.81 L1842.94,126.75 L1844.44,126.69 L1845.94,126.43 L1847.44,127.46 L1848.94,127.68 L1850.44,127.6 L1851.94,127.76 L1853.44,127 L1854.94,127.69 L1856.44,128.11 L1857.94,126.52 L1859.44,126.03 L1860.94,126.38 L1862.44,126.96 L1863.94,127.15 L1865.44,127.41 L1866.94,126.96 L1868.44,126.66 L1869.94,127.37 L1871.44,127.86 L1872.94,127.25 L1874.44,126.49 L1875.94,126.53 L1877.44,126.08 L1878.94,126.51 L1880.44,127.18 L1881.94,127.44 L1883.44,127.39 L1884.94,127.39 L1886.44,127.48 L1887.94,127.74 L1889.44,127.14 L1890.94,127.19 L1892.44,127.14 L1893.94,126.27 L1895.44,126.33 L1896.94,126.66 L1898.44,126.8 L1899.94,126.31 L1901.44,126.92 L1902.94,127.36 L1904.44,127.45 L1905.94,127 L1907.44,126.48 L1908.94,126.29 L1910.44,126.6 L1911.94,127.54 L1913.44,126.55 L1914.94,126.48 L1916.44,126.69 L1917.94,126.52 L1919.44,126.65 L1920.94,127 L1922.44,127.06 L1923.94,126.31 L1925.44,125.91 L1926.94,126.63 L1928.44,127.3 L1929.94,126.73 L1931.44,126.95 L1932.94,126.79 L1934.44,126.68 L1935.94,127.03 L1937.44,127.24 L1938.94,127.33 L1940.44,127.11 L1941.94,126.36 L1943.44,126.32 L1944.94,126.52 L1946.44,126.71 L1947.94,126.61 L1949.44,126.77 L1950.94,126.43 L1952.44,125.8 L1953.94,125.06 L1955.44,126.3 L1956.94,126.81 L1958.44,126.88 L1959.94,126.81 L1961.44,127.26 L1962.94,127.16 L1964.44,126.72 L1965.94,126.15 L1967.44,126.76 L1968.94,126.64 L1970.44,126.51 L1971.94,127.11 L1973.44,126.64 L1974.94,126.54 L1976.44,126.57 L1977.94,126.46 L1979.44,126.37 L1980.94,125.87 L1982.44,125.63 L1983.94,126.32 L1985.44,125.27 L1986.94,125.74 L1988.44,126.64 L1989.94,126.85 L1991.44,127.32 L1992.94,126.97 L1994.44,126.29 L1995.94,125.79 L1997.44,125.39 L1998.94,126.31 L2000.44,126.86 L2001.94,125.33 L2003.44,126.37 L2004.94,125.75 L2006.44,125.12 L2007.94,126.13 L2009.44,126.45 L2010.94,126.44 L2012.44,126.27 L2013.94,126.1 L2015.44,125.74 L2016.94,125.59 L2018.44,125.84 L2019.94,126.7 L2021.44,126.43 L2022.94,126.16 L2024.44,126.03 L2025.94,126.19 L2027.44,125.67 L2028.94,126.08 L2030.44,126.69 L2031.94,126.79 L2033.44,125.86 L2034.94,125.81 L2036.44,126.21 L2037.94,126.63 L2039.44,125.86 L2040.94,126.4 L2042.44,127.12 L2043.94,126.88 L2045.44,126.07 L2046.94,126.17 L2048.44,126.64 L2049.94,126.94 L2051.44,125.62 L2052.94,125.74 L2054.44,126.18 L2055.94,125.83 L2057.44,125.79 L2058.94,126.05 L2060.44,126.14 L2061.94,125.6 L2063.44,125.18 L2064.94,125.02 L2066.44,125.22 L2067.94,125.84 L2069.44,126.13 L2070.94,126.02 L2072.43,125.8 L2073.93,125.74 L2075.4,125.78 L2076.8,126.19 L2078.02,126.47 L2078.94,126.12" fill="none" stroke="#d294f0" stroke-width="3.1" stroke-linejoin="round"/>
<path d="M1297,644.73 L1300.6,644.73 L1301.54,644.73 L1302.6,644.73 L1303.76,644.73 L1305.01,644.73 L1306.33,644.73 L1307.7,644.73 L1309.12,644.73 L1310.57,644.73 L1312.04,644.73 L1313.52,644.73 L1315.01,644.73 L1316.51,644.73 L1318,644.73 L1319.5,644.73 L1321,644.73 L1322.5,644.73 L1324,644.73 L1325.5,644.73 L1327,644.73 L1328.5,644.73 L1330,644.73 L1331.5,644.73 L1333,644.73 L1334.5,644.73 L1336,644.73 L1337.5,644.73 L1339,644.73 L1340.5,644.73 L1342,644.73 L1343.5,644.73 L1345,644.73 L1346.5,644.73 L1348,644.73 L1349.5,644.73 L1351,644.73 L1352.5,644.73 L1354,644.73 L1355.5,644.73 L1357,644.73 L1358.5,644.73 L1360,644.73 L1361.5,644.73 L1363,644.73 L1364.5,644.73 L1366,644.73 L1367.5,644.73 L1369,644.73 L1370.5,644.73 L1372,644.73 L1373.5,644.73 L1375,644.73 L1376.5,644.73 L1378,644.73 L1379.5,644.73 L1381,644.73 L1382.5,644.73 L1384,644.73 L1385.5,644.73 L1387,644.73 L1388.5,644.72 L1390,644.72 L1391.5,644.72 L1393,644.71 L1394.5,644.71 L1396,644.69 L1397.5,644.67 L1398.99,644.65 L1400.49,644.61 L1401.98,644.55 L1403.46,644.48 L1404.93,644.37 L1406.39,644.23 L1407.83,644.05 L1409.25,643.8 L1410.62,643.49 L1411.96,643.1 L1413.25,642.62 L1414.48,642.04 L1415.66,641.37 L1416.77,640.59 L1417.83,639.72 L1418.84,638.77 L1419.8,637.74 L1420.72,636.65 L1421.61,635.51 L1422.47,634.33 L1423.32,633.12 L1424.14,631.89 L1424.94,630.64 L1425.72,629.38 L1426.48,628.1 L1427.21,626.8 L1427.92,625.49 L1428.59,624.16 L1429.23,622.82 L1429.84,621.46 L1430.42,620.08 L1430.97,618.7 L1431.49,617.3 L1431.99,615.89 L1432.47,614.47 L1432.93,613.05 L1433.38,611.62 L1433.8,610.18 L1434.22,608.74 L1434.63,607.3 L1435.02,605.85 L1435.41,604.4 L1435.78,602.95 L1436.15,601.5 L1436.52,600.05 L1436.89,598.59 L1437.25,597.14 L1437.62,595.68 L1437.99,594.23 L1438.37,592.78 L1438.76,591.34 L1439.16,589.89 L1439.58,588.46 L1440.01,587.02 L1440.45,585.59 L1440.9,584.16 L1441.36,582.74 L1441.83,581.31 L1442.3,579.89 L1442.76,578.46 L1443.21,577.04 L1443.65,575.61 L1444.07,574.17 L1444.48,572.73 L1444.86,571.29 L1445.22,569.84 L1445.56,568.38 L1445.88,566.92 L1446.18,565.45 L1446.46,563.98 L1446.72,562.5 L1446.97,561.03 L1447.2,559.55 L1447.43,558.07 L1447.64,556.58 L1447.85,555.1 L1448.06,553.61 L1448.26,552.12 L1448.45,550.64 L1448.65,549.15 L1448.84,547.66 L1449.03,546.17 L1449.21,544.69 L1449.4,543.2 L1449.59,541.71 L1449.78,540.22 L1449.97,538.73 L1450.16,537.25 L1450.36,535.76 L1450.55,534.27 L1450.75,532.79 L1450.95,531.3 L1451.15,529.81 L1451.36,528.33 L1451.56,526.84 L1451.77,525.35 L1451.98,523.87 L1452.19,522.38 L1452.4,520.9 L1452.61,519.41 L1452.83,517.93 L1453.04,516.45 L1453.26,514.96 L1453.47,513.48 L1453.69,511.99 L1453.9,510.51 L1454.12,509.02 L1454.34,507.54 L1454.56,506.06 L1454.77,504.57 L1454.99,503.09 L1455.21,501.6 L1455.43,500.12 L1455.64,498.63 L1455.86,497.15 L1456.08,495.67 L1456.3,494.18 L1456.51,492.7 L1456.73,491.21 L1456.95,489.73 L1457.16,488.24 L1457.38,486.76 L1457.59,485.28 L1457.81,483.79 L1458.02,482.31 L1458.23,480.82 L1458.45,479.34 L1458.66,477.85 L1458.87,476.37 L1459.08,474.88 L1459.29,473.4 L1459.5,471.91 L1459.7,470.43 L1459.91,468.94 L1460.11,467.45 L1460.32,465.97 L1460.52,464.48 L1460.72,462.99 L1460.92,461.51 L1461.12,460.02 L1461.32,458.53 L1461.52,457.05 L1461.71,455.56 L1461.91,454.07 L1462.1,452.59 L1462.29,451.1 L1462.48,449.61 L1462.67,448.12 L1462.86,446.63 L1463.05,445.15 L1463.23,443.66 L1463.42,442.17 L1463.6,440.68 L1463.78,439.19 L1463.96,437.7 L1464.14,436.21 L1464.31,434.72 L1464.49,433.23 L1464.66,431.74 L1464.83,430.25 L1465.01,428.76 L1465.17,427.27 L1465.34,425.78 L1465.51,424.29 L1465.68,422.8 L1465.84,421.31 L1466,419.82 L1466.17,418.33 L1466.33,416.84 L1466.49,415.34 L1466.65,413.85 L1466.81,412.36 L1466.97,410.87 L1467.12,409.38 L1467.28,407.89 L1467.44,406.39 L1467.59,404.9 L1467.75,403.41 L1467.91,401.92 L1468.06,400.43 L1468.21,398.93 L1468.37,397.44 L1468.52,395.95 L1468.68,394.46 L1468.83,392.97 L1468.98,391.47 L1469.13,389.98 L1469.29,388.49 L1469.44,387 L1469.59,385.51 L1469.74,384.01 L1469.9,382.52 L1470.05,381.03 L1470.2,379.54 L1470.35,378.04 L1470.5,376.55 L1470.66,375.06 L1470.81,373.57 L1470.96,372.08 L1471.11,370.58 L1471.27,369.09 L1471.42,367.6 L1471.57,366.11 L1471.73,364.61 L1471.88,363.12 L1472.03,361.63 L1472.18,360.14 L1472.34,358.65 L1472.49,357.15 L1472.64,355.66 L1472.8,354.17 L1472.95,352.68 L1473.1,351.18 L1473.25,349.69 L1473.4,348.2 L1473.55,346.71 L1473.7,345.21 L1473.85,343.72 L1474,342.23 L1474.15,340.74 L1474.3,339.24 L1474.45,337.75 L1474.6,336.26 L1474.75,334.77 L1474.89,333.27 L1475.04,331.78 L1475.19,330.29 L1475.34,328.8 L1475.49,327.3 L1475.63,325.81 L1475.78,324.32 L1475.93,322.83 L1476.08,321.33 L1476.23,319.84 L1476.37,318.35 L1476.52,316.85 L1476.67,315.36 L1476.82,313.87 L1476.97,312.38 L1477.12,310.88 L1477.27,309.39 L1477.42,307.9 L1477.57,306.41 L1477.72,304.91 L1477.87,303.42 L1478.02,301.93 L1478.17,300.44 L1478.32,298.94 L1478.48,297.45 L1478.63,295.96 L1478.78,294.47 L1478.94,292.98 L1479.09,291.48 L1479.25,289.99 L1479.4,288.5 L1479.56,287.01 L1479.72,285.52 L1479.87,284.02 L1480.03,282.53 L1480.19,281.04 L1480.34,279.55 L1480.5,278.06 L1480.65,276.57 L1480.81,275.07 L1480.97,273.58 L1481.12,272.09 L1481.27,270.6 L1481.43,269.11 L1481.58,267.61 L1481.74,266.12 L1481.89,264.63 L1482.04,263.14 L1482.2,261.65 L1482.35,260.15 L1482.51,258.66 L1482.67,257.17 L1482.83,255.68 L1482.99,254.19 L1483.16,252.7 L1483.33,251.21 L1483.51,249.72 L1483.69,248.23 L1483.87,246.74 L1484.06,245.25 L1484.26,243.77 L1484.47,242.28 L1484.69,240.8 L1484.92,239.32 L1485.16,237.84 L1485.42,236.36 L1485.69,234.89 L1485.97,233.41 L1486.27,231.94 L1486.57,230.48 L1486.89,229.01 L1487.22,227.55 L1487.55,226.09 L1487.9,224.63 L1488.27,223.17 L1488.64,221.72 L1489.03,220.27 L1489.42,218.82 L1489.83,217.38 L1490.26,215.94 L1490.69,214.51 L1491.13,213.07 L1491.59,211.64 L1492.05,210.22 L1492.51,208.79 L1492.98,207.37 L1493.46,205.94 L1493.93,204.52 L1494.41,203.1 L1494.89,201.68 L1495.37,200.26 L1495.86,198.84 L1496.35,197.42 L1496.86,196.01 L1497.37,194.6 L1497.9,193.2 L1498.45,191.8 L1499.02,190.42 L1499.61,189.04 L1500.24,187.68 L1500.91,186.34 L1501.63,185.03 L1502.41,183.75 L1503.23,182.5 L1504.1,181.28 L1505.02,180.1 L1505.98,178.95 L1506.98,177.83 L1508.01,176.75 L1509.08,175.7 L1510.17,174.68 L1511.29,173.68 L1512.43,172.7 L1513.58,171.74 L1514.74,170.79 L1515.92,169.86 L1517.11,168.95 L1518.31,168.05 L1519.54,167.19 L1520.78,166.35 L1522.05,165.56 L1523.34,164.8 L1524.66,164.1 L1526.01,163.45 L1527.38,162.86 L1528.78,162.32 L1530.2,161.83 L1531.63,161.38 L1533.07,160.97 L1534.51,160.58 L1535.97,160.22 L1537.43,159.87 L1538.89,159.54 L1540.36,159.22 L1541.82,158.91 L1543.29,158.59 L1544.76,158.27 L1546.22,157.94 L1547.68,157.6 L1549.14,157.25 L1550.59,156.89 L1552.05,156.52 L1553.5,156.14 L1554.95,155.77 L1556.41,155.4 L1557.86,155.04 L1559.32,154.67 L1560.77,154.31 L1562.23,153.96 L1563.69,153.6 L1565.14,153.24 L1566.6,152.89 L1568.06,152.53 L1569.51,152.17 L1570.97,151.82 L1572.43,151.46 L1573.89,151.11 L1575.34,150.75 L1576.8,150.4 L1578.26,150.05 L1579.72,149.71 L1581.18,149.37 L1582.64,149.03 L1584.11,148.7 L1585.57,148.37 L1587.04,148.05 L1588.5,147.73 L1589.97,147.42 L1591.44,147.12 L1592.91,146.82 L1594.38,146.53 L1595.85,146.25 L1597.33,145.98 L1598.81,145.72 L1600.28,145.46 L1601.76,145.21 L1603.24,144.97 L1604.72,144.74 L1606.21,144.5 L1607.69,144.28 L1609.17,144.06 L1610.66,143.84 L1612.14,143.62 L1613.63,143.41 L1615.11,143.21 L1616.6,143.01 L1618.08,142.81 L1619.57,142.61 L1621.06,142.41 L1622.55,142.22 L1624.03,142.03 L1625.52,141.85 L1627.01,141.66 L1628.5,141.47 L1629.99,141.29 L1631.48,141.11 L1632.97,140.92 L1634.45,140.74 L1635.94,140.56 L1637.43,140.38 L1638.92,140.19 L1640.41,140.01 L1641.9,139.83 L1643.39,139.64 L1644.88,139.45 L1646.36,139.27 L1647.85,139.08 L1649.34,138.88 L1650.83,138.69 L1652.31,138.49 L1653.8,138.28 L1655.28,138.07 L1656.77,137.86 L1658.25,137.65 L1659.74,137.43 L1661.22,137.21 L1662.71,136.99 L1664.19,136.77 L1665.67,136.55 L1667.16,136.33 L1668.64,136.11 L1670.12,135.89 L1671.61,135.67 L1673.09,135.45 L1674.58,135.23 L1676.06,135.02 L1677.55,134.81 L1679.03,134.61 L1680.52,134.41 L1682.01,134.21 L1683.49,134.02 L1684.98,133.84 L1686.47,133.66 L1687.96,133.49 L1689.45,133.32 L1690.94,132.79 L1692.44,132.84 L1693.93,133.38 L1695.43,132.94 L1696.92,132.31 L1698.42,132.28 L1699.91,132.34 L1701.41,131.99 L1702.91,131.88 L1704.4,132.68 L1705.9,131.21 L1707.4,131.75 L1708.9,132.48 L1710.4,131.56 L1711.89,131.11 L1713.39,131.38 L1714.89,131.47 L1716.39,130.5 L1717.89,131.44 L1719.39,131.79 L1720.88,131.59 L1722.38,130.92 L1723.88,130.94 L1725.38,131.31 L1726.88,131.41 L1728.38,130.63 L1729.88,130.88 L1731.38,131.03 L1732.87,131.25 L1734.37,131.75 L1735.87,130.77 L1737.37,130.57 L1738.87,130.84 L1740.37,131.29 L1741.87,129.58 L1743.37,129.66 L1744.87,130.06 L1746.37,129.27 L1747.87,129.26 L1749.37,130.36 L1750.87,131.19 L1752.36,130.36 L1753.86,130.89 L1755.36,130.51 L1756.86,130.07 L1758.36,130.37 L1759.86,129.89 L1761.36,129.67 L1762.86,129.66 L1764.36,129.83 L1765.86,129.87 L1767.36,130.28 L1768.86,130.4 L1770.36,129.58 L1771.86,129.8 L1773.36,129.66 L1774.85,129.49 L1776.35,129.63 L1777.85,128.93 L1779.35,129.4 L1780.85,129.84 L1782.35,129.08 L1783.85,129.29 L1785.35,129.26 L1786.85,129.33 L1788.35,129.83 L1789.85,129.59 L1791.35,129.33 L1792.85,129.17 L1794.35,129.21 L1795.85,129.25 L1797.35,129.36 L1798.85,129.41 L1800.35,129.27 L1801.85,129.58 L1803.35,129.76 L1804.85,129.68 L1806.35,129.19 L1807.85,128.28 L1809.35,128.88 L1810.84,129.83 L1812.34,129.97 L1813.84,128.81 L1815.34,128.38 L1816.84,128.08 L1818.34,127.3 L1819.84,128.55 L1821.34,128.4 L1822.84,128.25 L1824.34,129.49 L1825.84,127.52 L1827.34,127.6 L1828.84,128.42 L1830.34,128.65 L1831.84,128.13 L1833.34,127.81 L1834.84,127.81 L1836.34,128.24 L1837.84,127.86 L1839.34,127.76 L1840.84,127.82 L1842.34,127.92 L1843.83,127.65 L1845.33,127.63 L1846.83,127.84 L1848.33,128.26 L1849.83,127.69 L1851.33,127.65 L1852.83,127.64 L1854.33,127.19 L1855.83,127.9 L1857.33,127.45 L1858.83,127.09 L1860.33,128.06 L1861.83,126.24 L1863.33,126.24 L1864.83,126.73 L1866.33,126.39 L1867.83,127.53 L1869.33,127.66 L1870.83,127.16 L1872.33,126.41 L1873.83,126.71 L1875.33,127.36 L1876.82,127.69 L1878.32,127.02 L1879.82,127.26 L1881.32,126.7 L1882.82,126.05 L1884.32,126.01 L1885.82,126.91 L1887.32,127.71 L1888.82,127.77 L1890.32,126.46 L1891.82,126.94 L1893.32,126.61 L1894.82,126.45 L1896.32,127.41 L1897.82,126.61 L1899.32,126.33 L1900.82,126.09 L1902.32,125.4 L1903.82,126.04 L1905.32,126.41 L1906.82,126.74 L1908.32,127.25 L1909.82,126.07 L1911.32,126.31 L1912.82,126.73 L1914.32,126.11 L1915.82,126.1 L1917.32,125.88 L1918.82,125.55 L1920.32,125.18 L1921.82,125.37 L1923.32,126.27 L1924.82,126.67 L1926.31,125.37 L1927.81,125.69 L1929.31,126.24 L1930.81,126.19 L1932.31,124.71 L1933.81,125.84 L1935.31,125.91 L1936.81,125.7 L1938.31,125.99 L1939.81,126.27 L1941.31,126.04 L1942.81,125.7 L1944.31,125.65 L1945.81,126.05 L1947.31,126.13 L1948.81,125.88 L1950.31,125.24 L1951.81,125.46 L1953.31,125.17 L1954.81,125.19 L1956.31,126.35 L1957.81,125.21 L1959.31,125.23 L1960.81,125.86 L1962.31,126.53 L1963.81,126.09 L1965.31,125.6 L1966.81,125.18 L1968.31,124.96 L1969.81,124.99 L1971.31,125.44 L1972.81,125.8 L1974.31,125.52 L1975.81,125.34 L1977.31,126.06 L1978.81,126.3 L1980.31,124.73 L1981.81,124.87 L1983.31,124.94 L1984.81,125.04 L1986.31,125.29 L1987.81,125.31 L1989.31,125.13 L1990.81,125.08 L1992.31,125.52 L1993.81,125.41 L1995.31,125.11 L1996.81,124.52 L1998.31,123.53 L1999.81,124.97 L2001.31,124.91 L2002.81,124.41 L2004.31,124.53 L2005.81,124.74 L2007.31,124.47 L2008.81,124.18 L2010.31,124.36 L2011.81,124.73 L2013.31,124.72 L2014.81,124.67 L2016.31,124.95 L2017.81,124.4 L2019.31,124.4 L2020.8,124.44 L2022.3,124.05 L2023.8,124.38 L2025.3,124.65 L2026.8,124.73 L2028.3,124.47 L2029.8,123.92 L2031.3,124.1 L2032.8,124.51 L2034.3,124.64 L2035.8,125.07 L2037.3,124.85 L2038.8,124.43 L2040.3,124.25 L2041.8,123.89 L2043.3,124.71 L2044.8,125.21 L2046.3,123.87 L2047.8,123.77 L2049.3,124.03 L2050.8,124.05 L2052.3,123.29 L2053.8,124.58 L2055.3,124.73 L2056.8,124.5 L2058.3,124.62 L2059.8,123.95 L2061.3,123.86 L2062.8,124.19 L2064.3,124.79 L2065.8,124.8 L2067.3,125.38 L2068.8,125.68 L2070.3,124.89 L2071.8,123.53 L2073.3,123.67 L2074.78,124.18 L2076.21,123.97 L2077.5,124.62 L2078.54,124.83 L2078.81,124.83" fill="none" stroke="#e6aa2a" stroke-width="3.1" stroke-linejoin="round"/>
<rect x="1297" y="72" width="783" height="630" fill="none" stroke="#1c1c1c" stroke-width="4.0"/>
<path d="M1297,702V714.8M1453.6,702V714.8M1610.2,702V714.8M1766.8,702V714.8M1923.4,702V714.8M2080,702V714.8M1375.3,702V708.6M1531.9,702V708.6M1688.5,702V708.6M1845.1,702V708.6M2001.7,702V708.6M1297,644.73H1284.2M1297,530.18H1284.2M1297,415.64H1284.2M1297,301.09H1284.2M1297,186.55H1284.2M1297,72H1284.2M1297,702H1290.4M1297,587.45H1290.4M1297,472.91H1290.4M1297,358.36H1290.4M1297,243.82H1290.4M1297,129.27H1290.4" stroke="#1c1c1c" stroke-width="3.40" fill="none"/>
<text x="1245.95" y="653.15" font-size="42.5" font-family="'Liberation Serif','Times New Roman',serif" font-weight="bold">0</text>
<text x="1224.7" y="538.6" font-size="42.5" font-family="'Liberation Serif','Times New Roman',serif" font-weight="bold">20</text>
<text x="1224.7" y="424.06" font-size="42.5" font-family="'Liberation Serif','Times New Roman',serif" font-weight="bold">40</text>
<text x="1224.7" y="309.51" font-size="42.5" font-family="'Liberation Serif','Times New Roman',serif" font-weight="bold">60</text>
<text x="1224.7" y="194.96" font-size="42.5" font-family="'Liberation Serif','Times New Roman',serif" font-weight="bold">80</text>
<text x="1203.45" y="80.42" font-size="42.5" font-family="'Liberation Serif','Times New Roman',serif" font-weight="bold">100</text>
<text x="1265.12" y="755.26" font-size="42.5" font-family="'Liberation Serif','Times New Roman',serif" font-weight="bold">300</text>
<text x="1422.26" y="755.26" font-size="42.5" font-family="'Liberation Serif','Times New Roman',serif" font-weight="bold">400</text>
<text x="1578.33" y="755.26" font-size="42.5" font-family="'Liberation Serif','Times New Roman',serif" font-weight="bold">500</text>
<text x="1735.03" y="755.26" font-size="42.5" font-family="'Liberation Serif','Times New Roman',serif" font-weight="bold">600</text>
<text x="1891.21" y="755.26" font-size="42.5" font-family="'Liberation Serif','Times New Roman',serif" font-weight="bold">700</text>
<text x="2048.23" y="755.26" font-size="42.5" font-family="'Liberation Serif','Times New Roman',serif" font-weight="bold">800</text>
<text transform="translate(1070.99,120.55) scale(1.0200,1)" x="0" y="0" font-size="76.44" font-family="'Liberation Serif','Times New Roman',serif" font-weight="bold">(b)</text>
<text transform="translate(1194.76,592.31) rotate(-90) scale(1.0018,1)" x="0" y="0" font-size="54" font-family="'Liberation Serif','Times New Roman',serif" font-weight="bold">Transmittance(%)</text>
<text x="1490.69" y="833.19" font-size="54" font-family="'Liberation Serif','Times New Roman',serif" font-weight="bold">Wavelength (nm)</text>
<rect x="1838" y="202" width="150" height="314.7" fill="#fff" stroke="#d2d2d2" stroke-width="2.6"/>
<path d="M1842,232.2H1908.5" stroke="#8a8a8a" stroke-width="3.8"/>
<text x="1908.88" y="244.29" font-size="41.5" font-family="'Liberation Serif','Times New Roman',serif" font-weight="bold">PI-0</text>
<path d="M1842,284H1908.5" stroke="#ff7676" stroke-width="3.8"/>
<text x="1908.88" y="296.09" font-size="41.5" font-family="'Liberation Serif','Times New Roman',serif" font-weight="bold">PI-1</text>
<path d="M1842,335.8H1908.5" stroke="#2f93ee" stroke-width="3.8"/>
<text x="1908.88" y="348" font-size="41.5" font-family="'Liberation Serif','Times New Roman',serif" font-weight="bold">PI-2</text>
<path d="M1842,388H1908.5" stroke="#35c98d" stroke-width="3.8"/>
<text x="1908.88" y="399.99" font-size="41.5" font-family="'Liberation Serif','Times New Roman',serif" font-weight="bold">PI-3</text>
<path d="M1842,440.3H1908.5" stroke="#d9a0f5" stroke-width="3.8"/>
<text x="1908.88" y="452.39" font-size="41.5" font-family="'Liberation Serif','Times New Roman',serif" font-weight="bold">PI-4</text>
<path d="M1842,491.6H1908.5" stroke="#ecbc55" stroke-width="3.8"/>
<text x="1908.88" y="503.48" font-size="41.5" font-family="'Liberation Serif','Times New Roman',serif" font-weight="bold">PI-5</text>
<path d="M221.4,1226.25 L224.65,1231.15 L227.91,1235.98 L231.16,1240.73 L234.41,1245.41 L237.67,1250.01 L240.92,1254.53 L244.17,1258.98 L247.43,1263.34 L250.68,1267.62 L253.93,1271.83 L257.19,1275.96 L260.44,1280.01 L263.69,1283.97 L266.95,1287.87 L270.2,1291.68 L273.45,1295.42 L276.71,1299.08 L279.96,1302.66 L283.21,1306.17 L286.47,1309.61 L289.72,1312.98 L292.97,1316.27 L296.23,1319.49 L299.48,1322.65 L302.73,1325.73 L305.99,1328.75 L309.24,1331.7 L312.49,1334.59 L315.75,1337.41 L319,1340.17 L322.25,1342.87 L325.51,1345.51 L328.76,1348.09 L332.01,1350.61 L335.27,1353.07 L338.52,1355.48 L341.77,1357.83 L345.03,1360.13 L348.28,1362.38 L351.53,1364.58 L354.79,1366.72 L358.04,1368.82 L361.29,1370.86 L364.55,1372.87 L367.8,1374.82 L371.05,1376.73 L374.31,1378.6 L377.56,1380.42 L380.81,1382.2 L384.07,1383.94 L387.32,1385.64 L390.57,1387.3 L393.83,1388.92 L397.08,1390.5 L400.33,1392.05 L403.59,1393.56 L406.84,1395.03 L410.09,1396.47 L413.35,1397.88 L416.6,1399.26 L419.85,1400.6 L423.11,1401.91 L426.36,1403.2 L429.61,1404.45 L432.87,1405.67 L436.12,1406.87 L439.37,1408.04 L442.63,1409.18 L445.88,1410.29 L449.13,1411.38 L452.39,1412.45 L455.64,1413.49 L458.89,1414.5 L462.15,1415.49 L465.4,1416.46 L468.65,1417.41 L471.91,1418.34 L475.16,1419.24 L478.41,1420.13 L481.67,1420.99 L484.92,1421.83 L488.17,1422.66 L491.43,1423.47 L494.68,1424.26 L497.93,1425.03 L501.19,1425.78 L504.44,1426.52 L507.69,1427.24 L510.95,1427.94 L514.2,1428.63 L517.45,1429.3 L520.71,1429.96 L523.96,1430.61 L527.21,1431.24 L530.47,1431.85 L533.72,1432.45 L536.97,1433.04 L540.23,1433.62 L543.48,1434.18 L546.73,1434.73 L549.99,1435.27 L553.24,1435.8 L556.49,1436.32 L559.75,1436.82 L563,1437.32 L566.25,1437.8 L569.51,1438.28 L572.76,1438.74 L576.01,1439.2 L579.27,1439.64 L582.52,1440.08 L585.77,1440.5 L589.03,1440.92 L592.28,1441.33 L595.53,1441.73 L598.79,1442.12 L602.04,1442.51 L605.29,1442.89 L608.55,1443.26 L611.8,1443.62 L615.05,1443.97 L618.31,1444.32 L621.56,1444.66 L624.81,1445 L628.07,1445.33 L631.32,1445.65 L634.57,1445.96 L637.83,1446.27 L641.08,1446.58 L644.33,1446.87 L647.59,1447.17 L650.84,1447.45 L654.09,1447.74 L657.35,1448.01 L660.6,1448.29 L663.85,1448.55 L667.11,1448.81 L670.36,1449.07 L673.61,1449.32 L676.87,1449.57 L680.12,1449.82 L683.37,1450.06 L686.63,1450.29 L689.88,1450.53 L693.13,1450.76 L696.39,1450.98 L699.64,1451.2 L702.89,1451.42 L706.15,1451.63 L709.4,1451.84 L712.65,1452.05 L715.91,1452.26 L719.16,1452.46 L722.41,1452.66 L725.67,1452.85 L728.92,1453.04 L732.17,1453.23 L735.43,1453.42 L738.68,1453.6 L741.93,1453.79 L745.19,1453.97 L748.44,1454.14 L751.69,1454.32 L754.95,1454.49 L758.2,1454.66 L761.45,1454.83 L764.71,1455 L767.96,1455.16 L771.21,1455.32 L774.47,1455.48 L777.72,1455.64 L780.97,1455.8 L784.23,1455.95 L787.48,1456.1 L790.73,1456.26 L793.99,1456.41 L797.24,1456.55 L800.49,1456.7 L803.75,1456.85 L807,1456.99 L810.25,1457.13 L813.51,1457.27 L816.76,1457.41 L820.01,1457.55 L823.27,1457.69 L826.52,1457.83 L829.77,1457.96 L833.03,1458.1 L836.28,1458.23 L839.53,1458.36 L842.79,1458.49 L846.04,1458.62 L849.29,1458.75 L852.55,1458.88 L855.8,1459.01 L859.05,1459.14 L862.31,1459.26 L865.56,1459.39 L868.81,1459.51 L872.07,1459.64 L875.32,1459.76 L878.57,1459.88 L881.83,1460 L885.08,1460.13 L888.33,1460.25 L891.59,1460.37 L894.84,1460.49 L898.09,1460.61 L901.35,1460.72 L904.6,1460.84 L907.85,1460.96 L911.11,1461.08 L914.36,1461.2 L917.61,1461.31 L920.87,1461.43 L924.12,1461.54 L927.37,1461.66 L930.63,1461.78 L933.88,1461.89 L937.13,1462.01 L940.39,1462.12 L943.64,1462.23 L946.89,1462.35 L950.15,1462.46 L953.4,1462.58 L956.65,1462.69 L959.91,1462.8 L963.16,1462.92 L966.41,1463.03 L969.67,1463.14 L972.92,1463.26 L976.17,1463.37 L979.43,1463.48 L982.68,1463.59 L985.93,1463.71 L989.19,1463.82 L992.44,1463.93 L995.69,1464.04 L998.95,1464.16 L1002.2,1464.27" fill="none" stroke="#6f6f6f" stroke-width="2.7" stroke-linejoin="round"/>
<path d="M221.4,1084.04 L224.65,1089.35 L227.91,1094.64 L231.16,1099.89 L234.41,1105.09 L237.67,1110.24 L240.92,1115.33 L244.17,1120.37 L247.43,1125.34 L250.68,1130.25 L253.93,1135.09 L257.19,1139.85 L260.44,1144.54 L263.69,1149.15 L266.95,1153.69 L270.2,1158.15 L273.45,1162.53 L276.71,1166.83 L279.96,1171.05 L283.21,1175.18 L286.47,1179.24 L289.72,1183.22 L292.97,1187.11 L296.23,1190.92 L299.48,1194.66 L302.73,1198.31 L305.99,1201.89 L309.24,1205.39 L312.49,1208.81 L315.75,1212.15 L319,1215.42 L322.25,1218.62 L325.51,1221.74 L328.76,1224.79 L332.01,1227.77 L335.27,1230.67 L338.52,1233.51 L341.77,1236.28 L345.03,1238.99 L348.28,1241.62 L351.53,1244.2 L354.79,1246.71 L358.04,1249.16 L361.29,1251.54 L364.55,1253.87 L367.8,1256.14 L371.05,1258.36 L374.31,1260.51 L377.56,1262.61 L380.81,1264.66 L384.07,1266.66 L387.32,1268.6 L390.57,1270.5 L393.83,1272.35 L397.08,1274.14 L400.33,1275.9 L403.59,1277.6 L406.84,1279.26 L410.09,1280.88 L413.35,1282.45 L416.6,1283.99 L419.85,1285.48 L423.11,1286.93 L426.36,1288.35 L429.61,1289.72 L432.87,1291.06 L436.12,1292.37 L439.37,1293.64 L442.63,1294.87 L445.88,1296.07 L449.13,1297.24 L452.39,1298.38 L455.64,1299.49 L458.89,1300.56 L462.15,1301.61 L465.4,1302.63 L468.65,1303.62 L471.91,1304.59 L475.16,1305.53 L478.41,1306.44 L481.67,1307.33 L484.92,1308.19 L488.17,1309.04 L491.43,1309.85 L494.68,1310.65 L497.93,1311.42 L501.19,1312.18 L504.44,1312.91 L507.69,1313.62 L510.95,1314.31 L514.2,1314.99 L517.45,1315.64 L520.71,1316.28 L523.96,1316.9 L527.21,1317.5 L530.47,1318.09 L533.72,1318.66 L536.97,1319.22 L540.23,1319.76 L543.48,1320.29 L546.73,1320.8 L549.99,1321.3 L553.24,1321.78 L556.49,1322.26 L559.75,1322.72 L563,1323.16 L566.25,1323.6 L569.51,1324.02 L572.76,1324.44 L576.01,1324.84 L579.27,1325.23 L582.52,1325.61 L585.77,1325.99 L589.03,1326.35 L592.28,1326.7 L595.53,1327.05 L598.79,1327.38 L602.04,1327.71 L605.29,1328.03 L608.55,1328.34 L611.8,1328.65 L615.05,1328.94 L618.31,1329.23 L621.56,1329.52 L624.81,1329.79 L628.07,1330.06 L631.32,1330.33 L634.57,1330.58 L637.83,1330.84 L641.08,1331.08 L644.33,1331.32 L647.59,1331.56 L650.84,1331.79 L654.09,1332.02 L657.35,1332.24 L660.6,1332.46 L663.85,1332.67 L667.11,1332.88 L670.36,1333.08 L673.61,1333.29 L676.87,1333.48 L680.12,1333.68 L683.37,1333.87 L686.63,1334.06 L689.88,1334.24 L693.13,1334.42 L696.39,1334.6 L699.64,1334.78 L702.89,1334.95 L706.15,1335.12 L709.4,1335.29 L712.65,1335.46 L715.91,1335.62 L719.16,1335.78 L722.41,1335.94 L725.67,1336.1 L728.92,1336.26 L732.17,1336.42 L735.43,1336.57 L738.68,1336.72 L741.93,1336.87 L745.19,1337.02 L748.44,1337.17 L751.69,1337.32 L754.95,1337.47 L758.2,1337.62 L761.45,1337.76 L764.71,1337.9 L767.96,1338.05 L771.21,1338.19 L774.47,1338.33 L777.72,1338.48 L780.97,1338.62 L784.23,1338.76 L787.48,1338.9 L790.73,1339.04 L793.99,1339.18 L797.24,1339.32 L800.49,1339.46 L803.75,1339.6 L807,1339.74 L810.25,1339.88 L813.51,1340.03 L816.76,1340.17 L820.01,1340.31 L823.27,1340.45 L826.52,1340.59 L829.77,1340.73 L833.03,1340.87 L836.28,1341.02 L839.53,1341.16 L842.79,1341.3 L846.04,1341.45 L849.29,1341.59 L852.55,1341.74 L855.8,1341.88 L859.05,1342.03 L862.31,1342.18 L865.56,1342.33 L868.81,1342.47 L872.07,1342.62 L875.32,1342.77 L878.57,1342.92 L881.83,1343.08 L885.08,1343.23 L888.33,1343.38 L891.59,1343.54 L894.84,1343.69 L898.09,1343.85 L901.35,1344.01 L904.6,1344.17 L907.85,1344.33 L911.11,1344.49 L914.36,1344.65 L917.61,1344.81 L920.87,1344.97 L924.12,1345.14 L927.37,1345.3 L930.63,1345.47 L933.88,1345.64 L937.13,1345.81 L940.39,1345.98 L943.64,1346.15 L946.89,1346.32 L950.15,1346.5 L953.4,1346.67 L956.65,1346.85 L959.91,1347.03 L963.16,1347.21 L966.41,1347.39 L969.67,1347.57 L972.92,1347.75 L976.17,1347.93 L979.43,1348.12 L982.68,1348.31 L985.93,1348.49 L989.19,1348.68 L992.44,1348.87 L995.69,1349.07 L998.95,1349.26 L1002.2,1349.45" fill="none" stroke="#ff6666" stroke-width="3.2" stroke-linejoin="round"/>
<path d="M221.4,1048.55 L224.65,1054.45 L227.91,1060.29 L231.16,1066.04 L234.41,1071.72 L237.67,1077.32 L240.92,1082.83 L244.17,1088.26 L247.43,1093.6 L250.68,1098.85 L253.93,1104.01 L257.19,1109.08 L260.44,1114.06 L263.69,1118.95 L266.95,1123.75 L270.2,1128.46 L273.45,1133.07 L276.71,1137.6 L279.96,1142.04 L283.21,1146.39 L286.47,1150.65 L289.72,1154.82 L292.97,1158.91 L296.23,1162.91 L299.48,1166.83 L302.73,1170.66 L305.99,1174.41 L309.24,1178.08 L312.49,1181.67 L315.75,1185.18 L319,1188.62 L322.25,1191.98 L325.51,1195.26 L328.76,1198.47 L332.01,1201.61 L335.27,1204.68 L338.52,1207.68 L341.77,1210.61 L345.03,1213.47 L348.28,1216.27 L351.53,1219.01 L354.79,1221.68 L358.04,1224.29 L361.29,1226.84 L364.55,1229.33 L367.8,1231.76 L371.05,1234.14 L374.31,1236.46 L377.56,1238.72 L380.81,1240.94 L384.07,1243.1 L387.32,1245.21 L390.57,1247.28 L393.83,1249.29 L397.08,1251.26 L400.33,1253.18 L403.59,1255.05 L406.84,1256.89 L410.09,1258.68 L413.35,1260.42 L416.6,1262.13 L419.85,1263.79 L423.11,1265.42 L426.36,1267.01 L429.61,1268.56 L432.87,1270.08 L436.12,1271.56 L439.37,1273 L442.63,1274.41 L445.88,1275.79 L449.13,1277.14 L452.39,1278.45 L455.64,1279.74 L458.89,1280.99 L462.15,1282.22 L465.4,1283.41 L468.65,1284.58 L471.91,1285.72 L475.16,1286.84 L478.41,1287.93 L481.67,1289 L484.92,1290.04 L488.17,1291.05 L491.43,1292.05 L494.68,1293.02 L497.93,1293.97 L501.19,1294.89 L504.44,1295.8 L507.69,1296.69 L510.95,1297.55 L514.2,1298.4 L517.45,1299.23 L520.71,1300.03 L523.96,1300.83 L527.21,1301.6 L530.47,1302.36 L533.72,1303.1 L536.97,1303.82 L540.23,1304.53 L543.48,1305.22 L546.73,1305.9 L549.99,1306.56 L553.24,1307.21 L556.49,1307.85 L559.75,1308.47 L563,1309.08 L566.25,1309.67 L569.51,1310.25 L572.76,1310.83 L576.01,1311.38 L579.27,1311.93 L582.52,1312.47 L585.77,1312.99 L589.03,1313.51 L592.28,1314.01 L595.53,1314.51 L598.79,1314.99 L602.04,1315.47 L605.29,1315.94 L608.55,1316.39 L611.8,1316.84 L615.05,1317.28 L618.31,1317.71 L621.56,1318.14 L624.81,1318.55 L628.07,1318.96 L631.32,1319.36 L634.57,1319.75 L637.83,1320.14 L641.08,1320.52 L644.33,1320.89 L647.59,1321.26 L650.84,1321.62 L654.09,1321.97 L657.35,1322.32 L660.6,1322.66 L663.85,1323 L667.11,1323.33 L670.36,1323.66 L673.61,1323.98 L676.87,1324.3 L680.12,1324.61 L683.37,1324.91 L686.63,1325.22 L689.88,1325.51 L693.13,1325.81 L696.39,1326.1 L699.64,1326.38 L702.89,1326.66 L706.15,1326.94 L709.4,1327.21 L712.65,1327.48 L715.91,1327.75 L719.16,1328.01 L722.41,1328.27 L725.67,1328.53 L728.92,1328.78 L732.17,1329.03 L735.43,1329.28 L738.68,1329.53 L741.93,1329.77 L745.19,1330.01 L748.44,1330.25 L751.69,1330.48 L754.95,1330.72 L758.2,1330.95 L761.45,1331.18 L764.71,1331.4 L767.96,1331.63 L771.21,1331.85 L774.47,1332.07 L777.72,1332.29 L780.97,1332.51 L784.23,1332.72 L787.48,1332.93 L790.73,1333.15 L793.99,1333.36 L797.24,1333.57 L800.49,1333.77 L803.75,1333.98 L807,1334.19 L810.25,1334.39 L813.51,1334.59 L816.76,1334.79 L820.01,1335 L823.27,1335.2 L826.52,1335.39 L829.77,1335.59 L833.03,1335.79 L836.28,1335.98 L839.53,1336.18 L842.79,1336.37 L846.04,1336.57 L849.29,1336.76 L852.55,1336.95 L855.8,1337.15 L859.05,1337.34 L862.31,1337.53 L865.56,1337.72 L868.81,1337.91 L872.07,1338.1 L875.32,1338.29 L878.57,1338.48 L881.83,1338.67 L885.08,1338.85 L888.33,1339.04 L891.59,1339.23 L894.84,1339.42 L898.09,1339.6 L901.35,1339.79 L904.6,1339.98 L907.85,1340.16 L911.11,1340.35 L914.36,1340.54 L917.61,1340.73 L920.87,1340.91 L924.12,1341.1 L927.37,1341.29 L930.63,1341.47 L933.88,1341.66 L937.13,1341.85 L940.39,1342.03 L943.64,1342.22 L946.89,1342.41 L950.15,1342.59 L953.4,1342.78 L956.65,1342.97 L959.91,1343.16 L963.16,1343.35 L966.41,1343.53 L969.67,1343.72 L972.92,1343.91 L976.17,1344.1 L979.43,1344.29 L982.68,1344.48 L985.93,1344.67 L989.19,1344.86 L992.44,1345.05 L995.69,1345.24 L998.95,1345.43 L1002.2,1345.63" fill="none" stroke="#238be6" stroke-width="3.2" stroke-linejoin="round"/>
<path d="M221.4,1039.3 L224.65,1045.48 L227.91,1051.53 L231.16,1057.48 L234.41,1063.31 L237.67,1069.03 L240.92,1074.63 L244.17,1080.13 L247.43,1085.53 L250.68,1090.81 L253.93,1095.99 L257.19,1101.07 L260.44,1106.04 L263.69,1110.92 L266.95,1115.7 L270.2,1120.38 L273.45,1124.97 L276.71,1129.46 L279.96,1133.86 L283.21,1138.17 L286.47,1142.4 L289.72,1146.54 L292.97,1150.59 L296.23,1154.56 L299.48,1158.45 L302.73,1162.26 L305.99,1165.99 L309.24,1169.64 L312.49,1173.22 L315.75,1176.73 L319,1180.17 L322.25,1183.53 L325.51,1186.83 L328.76,1190.06 L332.01,1193.22 L335.27,1196.32 L338.52,1199.36 L341.77,1202.33 L345.03,1205.25 L348.28,1208.1 L351.53,1210.9 L354.79,1213.65 L358.04,1216.33 L361.29,1218.97 L364.55,1221.55 L367.8,1224.08 L371.05,1226.56 L374.31,1228.99 L377.56,1231.38 L380.81,1233.72 L384.07,1236.01 L387.32,1238.25 L390.57,1240.46 L393.83,1242.62 L397.08,1244.74 L400.33,1246.81 L403.59,1248.85 L406.84,1250.85 L410.09,1252.81 L413.35,1254.74 L416.6,1256.62 L419.85,1258.48 L423.11,1260.29 L426.36,1262.08 L429.61,1263.83 L432.87,1265.55 L436.12,1267.23 L439.37,1268.89 L442.63,1270.51 L445.88,1272.11 L449.13,1273.68 L452.39,1275.22 L455.64,1276.73 L458.89,1278.21 L462.15,1279.67 L465.4,1281.1 L468.65,1282.51 L471.91,1283.89 L475.16,1285.25 L478.41,1286.58 L481.67,1287.9 L484.92,1289.19 L488.17,1290.45 L491.43,1291.7 L494.68,1292.92 L497.93,1294.13 L501.19,1295.31 L504.44,1296.48 L507.69,1297.62 L510.95,1298.75 L514.2,1299.86 L517.45,1300.95 L520.71,1302.02 L523.96,1303.08 L527.21,1304.12 L530.47,1305.14 L533.72,1306.15 L536.97,1307.14 L540.23,1308.11 L543.48,1309.07 L546.73,1310.02 L549.99,1310.95 L553.24,1311.87 L556.49,1312.77 L559.75,1313.66 L563,1314.54 L566.25,1315.4 L569.51,1316.25 L572.76,1317.09 L576.01,1317.92 L579.27,1318.73 L582.52,1319.54 L585.77,1320.33 L589.03,1321.11 L592.28,1321.88 L595.53,1322.64 L598.79,1323.39 L602.04,1324.13 L605.29,1324.86 L608.55,1325.58 L611.8,1326.29 L615.05,1326.99 L618.31,1327.68 L621.56,1328.36 L624.81,1329.03 L628.07,1329.7 L631.32,1330.35 L634.57,1331 L637.83,1331.64 L641.08,1332.27 L644.33,1332.9 L647.59,1333.51 L650.84,1334.12 L654.09,1334.73 L657.35,1335.32 L660.6,1335.91 L663.85,1336.49 L667.11,1337.06 L670.36,1337.63 L673.61,1338.19 L676.87,1338.75 L680.12,1339.3 L683.37,1339.84 L686.63,1340.38 L689.88,1340.91 L693.13,1341.43 L696.39,1341.95 L699.64,1342.47 L702.89,1342.98 L706.15,1343.48 L709.4,1343.98 L712.65,1344.47 L715.91,1344.96 L719.16,1345.44 L722.41,1345.92 L725.67,1346.4 L728.92,1346.87 L732.17,1347.33 L735.43,1347.79 L738.68,1348.25 L741.93,1348.7 L745.19,1349.15 L748.44,1349.59 L751.69,1350.03 L754.95,1350.47 L758.2,1350.9 L761.45,1351.33 L764.71,1351.76 L767.96,1352.18 L771.21,1352.59 L774.47,1353.01 L777.72,1353.42 L780.97,1353.83 L784.23,1354.23 L787.48,1354.63 L790.73,1355.03 L793.99,1355.43 L797.24,1355.82 L800.49,1356.21 L803.75,1356.59 L807,1356.98 L810.25,1357.36 L813.51,1357.74 L816.76,1358.11 L820.01,1358.48 L823.27,1358.85 L826.52,1359.22 L829.77,1359.58 L833.03,1359.95 L836.28,1360.31 L839.53,1360.66 L842.79,1361.02 L846.04,1361.37 L849.29,1361.72 L852.55,1362.07 L855.8,1362.42 L859.05,1362.76 L862.31,1363.1 L865.56,1363.44 L868.81,1363.78 L872.07,1364.12 L875.32,1364.45 L878.57,1364.78 L881.83,1365.12 L885.08,1365.44 L888.33,1365.77 L891.59,1366.1 L894.84,1366.42 L898.09,1366.74 L901.35,1367.06 L904.6,1367.38 L907.85,1367.7 L911.11,1368.01 L914.36,1368.33 L917.61,1368.64 L920.87,1368.95 L924.12,1369.26 L927.37,1369.57 L930.63,1369.87 L933.88,1370.18 L937.13,1370.48 L940.39,1370.79 L943.64,1371.09 L946.89,1371.39 L950.15,1371.68 L953.4,1371.98 L956.65,1372.28 L959.91,1372.57 L963.16,1372.87 L966.41,1373.16 L969.67,1373.45 L972.92,1373.74 L976.17,1374.03 L979.43,1374.32 L982.68,1374.61 L985.93,1374.89 L989.19,1375.18 L992.44,1375.46 L995.69,1375.75 L998.95,1376.03 L1002.2,1376.31" fill="none" stroke="#1fbf80" stroke-width="3.2" stroke-linejoin="round"/>
<path d="M221.4,1015.95 L224.65,1022.35 L227.91,1028.62 L231.16,1034.76 L234.41,1040.76 L237.67,1046.65 L240.92,1052.4 L244.17,1058.04 L247.43,1063.55 L250.68,1068.95 L253.93,1074.23 L257.19,1079.39 L260.44,1084.45 L263.69,1089.39 L266.95,1094.23 L270.2,1098.97 L273.45,1103.6 L276.71,1108.13 L279.96,1112.56 L283.21,1116.9 L286.47,1121.14 L289.72,1125.3 L292.97,1129.36 L296.23,1133.33 L299.48,1137.22 L302.73,1141.02 L305.99,1144.74 L309.24,1148.38 L312.49,1151.95 L315.75,1155.43 L319,1158.84 L322.25,1162.18 L325.51,1165.45 L328.76,1168.64 L332.01,1171.77 L335.27,1174.83 L338.52,1177.83 L341.77,1180.77 L345.03,1183.64 L348.28,1186.45 L351.53,1189.2 L354.79,1191.9 L358.04,1194.53 L361.29,1197.12 L364.55,1199.65 L367.8,1202.12 L371.05,1204.55 L374.31,1206.92 L377.56,1209.25 L380.81,1211.53 L384.07,1213.76 L387.32,1215.95 L390.57,1218.1 L393.83,1220.19 L397.08,1222.25 L400.33,1224.27 L403.59,1226.25 L406.84,1228.18 L410.09,1230.08 L413.35,1231.94 L416.6,1233.77 L419.85,1235.55 L423.11,1237.31 L426.36,1239.03 L429.61,1240.71 L432.87,1242.37 L436.12,1243.99 L439.37,1245.58 L442.63,1247.14 L445.88,1248.67 L449.13,1250.17 L452.39,1251.65 L455.64,1253.09 L458.89,1254.51 L462.15,1255.9 L465.4,1257.27 L468.65,1258.61 L471.91,1259.93 L475.16,1261.22 L478.41,1262.49 L481.67,1263.74 L484.92,1264.97 L488.17,1266.17 L491.43,1267.35 L494.68,1268.51 L497.93,1269.65 L501.19,1270.77 L504.44,1271.87 L507.69,1272.95 L510.95,1274.02 L514.2,1275.06 L517.45,1276.09 L520.71,1277.1 L523.96,1278.09 L527.21,1279.07 L530.47,1280.03 L533.72,1280.97 L536.97,1281.9 L540.23,1282.81 L543.48,1283.71 L546.73,1284.59 L549.99,1285.46 L553.24,1286.32 L556.49,1287.16 L559.75,1287.99 L563,1288.8 L566.25,1289.61 L569.51,1290.4 L572.76,1291.17 L576.01,1291.94 L579.27,1292.69 L582.52,1293.44 L585.77,1294.17 L589.03,1294.89 L592.28,1295.6 L595.53,1296.3 L598.79,1296.99 L602.04,1297.67 L605.29,1298.34 L608.55,1299 L611.8,1299.65 L615.05,1300.29 L618.31,1300.92 L621.56,1301.55 L624.81,1302.16 L628.07,1302.77 L631.32,1303.37 L634.57,1303.96 L637.83,1304.54 L641.08,1305.12 L644.33,1305.68 L647.59,1306.24 L650.84,1306.79 L654.09,1307.34 L657.35,1307.88 L660.6,1308.41 L663.85,1308.93 L667.11,1309.45 L670.36,1309.96 L673.61,1310.47 L676.87,1310.97 L680.12,1311.46 L683.37,1311.95 L686.63,1312.43 L689.88,1312.9 L693.13,1313.37 L696.39,1313.84 L699.64,1314.3 L702.89,1314.75 L706.15,1315.2 L709.4,1315.65 L712.65,1316.08 L715.91,1316.52 L719.16,1316.95 L722.41,1317.37 L725.67,1317.79 L728.92,1318.21 L732.17,1318.62 L735.43,1319.03 L738.68,1319.43 L741.93,1319.83 L745.19,1320.22 L748.44,1320.61 L751.69,1321 L754.95,1321.38 L758.2,1321.76 L761.45,1322.14 L764.71,1322.51 L767.96,1322.88 L771.21,1323.25 L774.47,1323.61 L777.72,1323.97 L780.97,1324.32 L784.23,1324.67 L787.48,1325.02 L790.73,1325.37 L793.99,1325.71 L797.24,1326.05 L800.49,1326.39 L803.75,1326.72 L807,1327.05 L810.25,1327.38 L813.51,1327.71 L816.76,1328.03 L820.01,1328.35 L823.27,1328.67 L826.52,1328.99 L829.77,1329.3 L833.03,1329.61 L836.28,1329.92 L839.53,1330.23 L842.79,1330.53 L846.04,1330.83 L849.29,1331.13 L852.55,1331.43 L855.8,1331.73 L859.05,1332.02 L862.31,1332.31 L865.56,1332.6 L868.81,1332.89 L872.07,1333.18 L875.32,1333.46 L878.57,1333.74 L881.83,1334.02 L885.08,1334.3 L888.33,1334.58 L891.59,1334.85 L894.84,1335.13 L898.09,1335.4 L901.35,1335.67 L904.6,1335.94 L907.85,1336.2 L911.11,1336.47 L914.36,1336.73 L917.61,1337 L920.87,1337.26 L924.12,1337.52 L927.37,1337.78 L930.63,1338.03 L933.88,1338.29 L937.13,1338.54 L940.39,1338.8 L943.64,1339.05 L946.89,1339.3 L950.15,1339.55 L953.4,1339.8 L956.65,1340.04 L959.91,1340.29 L963.16,1340.54 L966.41,1340.78 L969.67,1341.02 L972.92,1341.26 L976.17,1341.5 L979.43,1341.74 L982.68,1341.98 L985.93,1342.22 L989.19,1342.46 L992.44,1342.69 L995.69,1342.93 L998.95,1343.16 L1002.2,1343.39" fill="none" stroke="#d294f0" stroke-width="3.2" stroke-linejoin="round"/>
<path d="M221.4,1034.87 L224.65,1040.73 L227.91,1046.53 L231.16,1052.24 L234.41,1057.87 L237.67,1063.43 L240.92,1068.9 L244.17,1074.28 L247.43,1079.58 L250.68,1084.79 L253.93,1089.92 L257.19,1094.96 L260.44,1099.91 L263.69,1104.78 L266.95,1109.56 L270.2,1114.25 L273.45,1118.86 L276.71,1123.38 L279.96,1127.82 L283.21,1132.18 L286.47,1136.45 L289.72,1140.65 L292.97,1144.76 L296.23,1148.79 L299.48,1152.74 L302.73,1156.62 L305.99,1160.42 L309.24,1164.14 L312.49,1167.79 L315.75,1171.37 L319,1174.88 L322.25,1178.31 L325.51,1181.68 L328.76,1184.98 L332.01,1188.21 L335.27,1191.37 L338.52,1194.47 L341.77,1197.51 L345.03,1200.49 L348.28,1203.4 L351.53,1206.26 L354.79,1209.06 L358.04,1211.8 L361.29,1214.48 L364.55,1217.11 L367.8,1219.69 L371.05,1222.21 L374.31,1224.68 L377.56,1227.1 L380.81,1229.48 L384.07,1231.8 L387.32,1234.08 L390.57,1236.31 L393.83,1238.49 L397.08,1240.63 L400.33,1242.73 L403.59,1244.79 L406.84,1246.8 L410.09,1248.77 L413.35,1250.71 L416.6,1252.6 L419.85,1254.46 L423.11,1256.28 L426.36,1258.06 L429.61,1259.81 L432.87,1261.53 L436.12,1263.21 L439.37,1264.86 L442.63,1266.47 L445.88,1268.06 L449.13,1269.61 L452.39,1271.13 L455.64,1272.63 L458.89,1274.09 L462.15,1275.53 L465.4,1276.94 L468.65,1278.32 L471.91,1279.68 L475.16,1281.01 L478.41,1282.32 L481.67,1283.6 L484.92,1284.86 L488.17,1286.1 L491.43,1287.31 L494.68,1288.5 L497.93,1289.67 L501.19,1290.82 L504.44,1291.94 L507.69,1293.05 L510.95,1294.14 L514.2,1295.2 L517.45,1296.25 L520.71,1297.28 L523.96,1298.3 L527.21,1299.29 L530.47,1300.27 L533.72,1301.23 L536.97,1302.17 L540.23,1303.1 L543.48,1304.02 L546.73,1304.91 L549.99,1305.8 L553.24,1306.67 L556.49,1307.52 L559.75,1308.36 L563,1309.19 L566.25,1310 L569.51,1310.8 L572.76,1311.59 L576.01,1312.37 L579.27,1313.13 L582.52,1313.88 L585.77,1314.62 L589.03,1315.35 L592.28,1316.07 L595.53,1316.78 L598.79,1317.48 L602.04,1318.17 L605.29,1318.84 L608.55,1319.51 L611.8,1320.17 L615.05,1320.82 L618.31,1321.46 L621.56,1322.09 L624.81,1322.71 L628.07,1323.32 L631.32,1323.93 L634.57,1324.53 L637.83,1325.12 L641.08,1325.7 L644.33,1326.27 L647.59,1326.84 L650.84,1327.4 L654.09,1327.95 L657.35,1328.5 L660.6,1329.04 L663.85,1329.57 L667.11,1330.1 L670.36,1330.62 L673.61,1331.14 L676.87,1331.64 L680.12,1332.15 L683.37,1332.64 L686.63,1333.14 L689.88,1333.62 L693.13,1334.1 L696.39,1334.58 L699.64,1335.05 L702.89,1335.52 L706.15,1335.98 L709.4,1336.43 L712.65,1336.89 L715.91,1337.33 L719.16,1337.78 L722.41,1338.22 L725.67,1338.65 L728.92,1339.08 L732.17,1339.51 L735.43,1339.93 L738.68,1340.35 L741.93,1340.77 L745.19,1341.18 L748.44,1341.59 L751.69,1342 L754.95,1342.4 L758.2,1342.8 L761.45,1343.19 L764.71,1343.59 L767.96,1343.98 L771.21,1344.36 L774.47,1344.75 L777.72,1345.13 L780.97,1345.51 L784.23,1345.88 L787.48,1346.25 L790.73,1346.62 L793.99,1346.99 L797.24,1347.36 L800.49,1347.72 L803.75,1348.08 L807,1348.44 L810.25,1348.8 L813.51,1349.15 L816.76,1349.51 L820.01,1349.86 L823.27,1350.2 L826.52,1350.55 L829.77,1350.9 L833.03,1351.24 L836.28,1351.58 L839.53,1351.92 L842.79,1352.26 L846.04,1352.59 L849.29,1352.93 L852.55,1353.26 L855.8,1353.59 L859.05,1353.92 L862.31,1354.25 L865.56,1354.58 L868.81,1354.9 L872.07,1355.23 L875.32,1355.55 L878.57,1355.87 L881.83,1356.2 L885.08,1356.52 L888.33,1356.83 L891.59,1357.15 L894.84,1357.47 L898.09,1357.78 L901.35,1358.1 L904.6,1358.41 L907.85,1358.72 L911.11,1359.03 L914.36,1359.34 L917.61,1359.65 L920.87,1359.96 L924.12,1360.27 L927.37,1360.58 L930.63,1360.88 L933.88,1361.19 L937.13,1361.49 L940.39,1361.8 L943.64,1362.1 L946.89,1362.4 L950.15,1362.71 L953.4,1363.01 L956.65,1363.31 L959.91,1363.61 L963.16,1363.91 L966.41,1364.21 L969.67,1364.51 L972.92,1364.81 L976.17,1365.1 L979.43,1365.4 L982.68,1365.7 L985.93,1365.99 L989.19,1366.29 L992.44,1366.58 L995.69,1366.88 L998.95,1367.17 L1002.2,1367.47" fill="none" stroke="#e6aa2a" stroke-width="3.2" stroke-linejoin="round"/>
<rect x="221.4" y="882.8" width="780.8" height="628.8" fill="none" stroke="#1c1c1c" stroke-width="4.0"/>
<path d="M221.4,1511.6V1524.4M351.53,1511.6V1524.4M481.67,1511.6V1524.4M611.8,1511.6V1524.4M741.93,1511.6V1524.4M872.07,1511.6V1524.4M1002.2,1511.6V1524.4M286.47,1511.6V1518.2M416.6,1511.6V1518.2M546.73,1511.6V1518.2M676.87,1511.6V1518.2M807,1511.6V1518.2M937.13,1511.6V1518.2M221.4,1474.61H208.6M221.4,1400.64H208.6M221.4,1326.66H208.6M221.4,1252.68H208.6M221.4,1178.71H208.6M221.4,1104.73H208.6M221.4,1030.75H208.6M221.4,956.78H208.6M221.4,882.8H208.6M221.4,1511.6H214.8M221.4,1437.62H214.8M221.4,1363.65H214.8M221.4,1289.67H214.8M221.4,1215.69H214.8M221.4,1141.72H214.8M221.4,1067.74H214.8M221.4,993.76H214.8M221.4,919.79H214.8" stroke="#1c1c1c" stroke-width="3.40" fill="none"/>
<text x="126.54" y="1488.32" font-size="42.5" font-family="'Liberation Serif','Times New Roman',serif" font-weight="bold">1.52</text>
<text x="125.47" y="1414.24" font-size="42.5" font-family="'Liberation Serif','Times New Roman',serif" font-weight="bold">1.54</text>
<text x="125.9" y="1340.37" font-size="42.5" font-family="'Liberation Serif','Times New Roman',serif" font-weight="bold">1.56</text>
<text x="126.11" y="1266.49" font-size="42.5" font-family="'Liberation Serif','Times New Roman',serif" font-weight="bold">1.58</text>
<text x="126.33" y="1192.52" font-size="42.5" font-family="'Liberation Serif','Times New Roman',serif" font-weight="bold">1.60</text>
<text x="126.54" y="1118.44" font-size="42.5" font-family="'Liberation Serif','Times New Roman',serif" font-weight="bold">1.62</text>
<text x="125.47" y="1044.46" font-size="42.5" font-family="'Liberation Serif','Times New Roman',serif" font-weight="bold">1.64</text>
<text x="125.9" y="970.48" font-size="42.5" font-family="'Liberation Serif','Times New Roman',serif" font-weight="bold">1.66</text>
<text x="126.11" y="896.61" font-size="42.5" font-family="'Liberation Serif','Times New Roman',serif" font-weight="bold">1.68</text>
<text x="190.06" y="1564.26" font-size="42.5" font-family="'Liberation Serif','Times New Roman',serif" font-weight="bold">400</text>
<text x="319.66" y="1564.26" font-size="42.5" font-family="'Liberation Serif','Times New Roman',serif" font-weight="bold">500</text>
<text x="449.9" y="1564.26" font-size="42.5" font-family="'Liberation Serif','Times New Roman',serif" font-weight="bold">600</text>
<text x="579.61" y="1564.26" font-size="42.5" font-family="'Liberation Serif','Times New Roman',serif" font-weight="bold">700</text>
<text x="710.16" y="1564.26" font-size="42.5" font-family="'Liberation Serif','Times New Roman',serif" font-weight="bold">800</text>
<text x="840.4" y="1564.26" font-size="42.5" font-family="'Liberation Serif','Times New Roman',serif" font-weight="bold">900</text>
<text x="958.85" y="1564.26" font-size="42.5" font-family="'Liberation Serif','Times New Roman',serif" font-weight="bold">1000</text>
<text transform="translate(35.4,913.12) scale(1.0155,1)" x="0" y="0" font-size="76.56" font-family="'Liberation Serif','Times New Roman',serif" font-weight="bold">(c)</text>
<text transform="translate(108.1,1210.13) rotate(-90) scale(0.8574,1)" x="0" y="0" font-size="52.77" font-family="'Liberation Serif','Times New Roman',serif" font-weight="bold">n</text>
<text x="414.19" y="1641.69" font-size="54" font-family="'Liberation Serif','Times New Roman',serif" font-weight="bold">Wavelength (nm)</text>
<rect x="777" y="913" width="149.9" height="313.7" fill="#fff" stroke="#d2d2d2" stroke-width="2.6"/>
<path d="M779,943.2H847.5" stroke="#8a8a8a" stroke-width="2.8"/>
<text x="847.88" y="955.29" font-size="41.5" font-family="'Liberation Serif','Times New Roman',serif" font-weight="bold">PI-0</text>
<path d="M779,995.5H847.5" stroke="#ff7676" stroke-width="2.8"/>
<text x="847.88" y="1007.59" font-size="41.5" font-family="'Liberation Serif','Times New Roman',serif" font-weight="bold">PI-1</text>
<path d="M779,1047.2H847.5" stroke="#2f93ee" stroke-width="2.8"/>
<text x="847.88" y="1059.4" font-size="41.5" font-family="'Liberation Serif','Times New Roman',serif" font-weight="bold">PI-2</text>
<path d="M779,1098.6H847.5" stroke="#35c98d" stroke-width="2.8"/>
<text x="847.88" y="1110.59" font-size="41.5" font-family="'Liberation Serif','Times New Roman',serif" font-weight="bold">PI-3</text>
<path d="M779,1150.3H847.5" stroke="#d9a0f5" stroke-width="2.8"/>
<text x="847.88" y="1162.39" font-size="41.5" font-family="'Liberation Serif','Times New Roman',serif" font-weight="bold">PI-4</text>
<path d="M779,1201.6H847.5" stroke="#ecbc55" stroke-width="2.8"/>
<text x="847.88" y="1213.48" font-size="41.5" font-family="'Liberation Serif','Times New Roman',serif" font-weight="bold">PI-5</text>
<path d="M1291.8,1330.65 L1295.05,1333.92 L1298.31,1337.11 L1301.56,1340.23 L1304.82,1343.26 L1308.07,1346.22 L1311.33,1349.11 L1314.58,1351.92 L1317.83,1354.66 L1321.09,1357.34 L1324.34,1359.94 L1327.6,1362.47 L1330.85,1364.94 L1334.1,1367.35 L1337.36,1369.69 L1340.61,1371.97 L1343.87,1374.19 L1347.12,1376.36 L1350.38,1378.46 L1353.63,1380.51 L1356.88,1382.5 L1360.14,1384.44 L1363.39,1386.33 L1366.65,1388.17 L1369.9,1389.95 L1373.15,1391.69 L1376.41,1393.38 L1379.66,1395.02 L1382.92,1396.62 L1386.17,1398.18 L1389.42,1399.69 L1392.68,1401.16 L1395.93,1402.59 L1399.19,1403.98 L1402.44,1405.34 L1405.7,1406.65 L1408.95,1407.93 L1412.2,1409.17 L1415.46,1410.38 L1418.71,1411.56 L1421.97,1412.7 L1425.22,1413.81 L1428.47,1414.89 L1431.73,1415.94 L1434.98,1416.95 L1438.24,1417.94 L1441.49,1418.91 L1444.75,1419.84 L1448,1420.75 L1451.25,1421.63 L1454.51,1422.49 L1457.76,1423.33 L1461.02,1424.14 L1464.27,1424.92 L1467.53,1425.69 L1470.78,1426.43 L1474.03,1427.15 L1477.29,1427.85 L1480.54,1428.53 L1483.8,1429.19 L1487.05,1429.84 L1490.3,1430.46 L1493.56,1431.07 L1496.81,1431.66 L1500.07,1432.23 L1503.32,1432.78 L1506.58,1433.32 L1509.83,1433.85 L1513.08,1434.35 L1516.34,1434.85 L1519.59,1435.33 L1522.85,1435.79 L1526.1,1436.24 L1529.35,1436.68 L1532.61,1437.11 L1535.86,1437.52 L1539.12,1437.92 L1542.37,1438.31 L1545.62,1438.69 L1548.88,1439.06 L1552.13,1439.41 L1555.39,1439.76 L1558.64,1440.09 L1561.9,1440.42 L1565.15,1440.74 L1568.4,1441.04 L1571.66,1441.34 L1574.91,1441.63 L1578.17,1441.91 L1581.42,1442.18 L1584.68,1442.44 L1587.93,1442.7 L1591.18,1442.95 L1594.44,1443.19 L1597.69,1443.42 L1600.95,1443.65 L1604.2,1443.87 L1607.45,1444.08 L1610.71,1444.29 L1613.96,1444.49 L1617.22,1444.68 L1620.47,1444.87 L1623.73,1445.05 L1626.98,1445.23 L1630.23,1445.4 L1633.49,1445.57 L1636.74,1445.73 L1640,1445.88 L1643.25,1446.03 L1646.5,1446.18 L1649.76,1446.32 L1653.01,1446.46 L1656.27,1446.59 L1659.52,1446.72 L1662.78,1446.85 L1666.03,1446.97 L1669.28,1447.09 L1672.54,1447.2 L1675.79,1447.31 L1679.05,1447.42 L1682.3,1447.53 L1685.55,1447.63 L1688.81,1447.73 L1692.06,1447.82 L1695.32,1447.91 L1698.57,1448 L1701.83,1448.09 L1705.08,1448.17 L1708.33,1448.25 L1711.59,1448.33 L1714.84,1448.41 L1718.1,1448.48 L1721.35,1448.55 L1724.6,1448.62 L1727.86,1448.69 L1731.11,1448.75 L1734.37,1448.82 L1737.62,1448.88 L1740.88,1448.94 L1744.13,1448.99 L1747.38,1449.05 L1750.64,1449.1 L1753.89,1449.16 L1757.15,1449.21 L1760.4,1449.26 L1763.65,1449.31 L1766.91,1449.35 L1770.16,1449.4 L1773.42,1449.44 L1776.67,1449.49 L1779.93,1449.53 L1783.18,1449.57 L1786.43,1449.61 L1789.69,1449.65 L1792.94,1449.68 L1796.2,1449.72 L1799.45,1449.76 L1802.7,1449.79 L1805.96,1449.83 L1809.21,1449.86 L1812.47,1449.89 L1815.72,1449.92 L1818.98,1449.95 L1822.23,1449.98 L1825.48,1450.01 L1828.74,1450.04 L1831.99,1450.07 L1835.25,1450.1 L1838.5,1450.12 L1841.75,1450.15 L1845.01,1450.18 L1848.26,1450.2 L1851.52,1450.23 L1854.77,1450.25 L1858.03,1450.28 L1861.28,1450.3 L1864.53,1450.33 L1867.79,1450.35 L1871.04,1450.37 L1874.3,1450.4 L1877.55,1450.42 L1880.8,1450.44 L1884.06,1450.46 L1887.31,1450.49 L1890.57,1450.51 L1893.82,1450.53 L1897.08,1450.55 L1900.33,1450.57 L1903.58,1450.59 L1906.84,1450.62 L1910.09,1450.64 L1913.35,1450.66 L1916.6,1450.68 L1919.85,1450.7 L1923.11,1450.72 L1926.36,1450.74 L1929.62,1450.77 L1932.87,1450.79 L1936.12,1450.81 L1939.38,1450.83 L1942.63,1450.85 L1945.89,1450.87 L1949.14,1450.89 L1952.4,1450.92 L1955.65,1450.94 L1958.9,1450.96 L1962.16,1450.98 L1965.41,1451 L1968.67,1451.03 L1971.92,1451.05 L1975.18,1451.07 L1978.43,1451.09 L1981.68,1451.12 L1984.94,1451.14 L1988.19,1451.16 L1991.45,1451.19 L1994.7,1451.21 L1997.95,1451.23 L2001.21,1451.26 L2004.46,1451.28 L2007.72,1451.31 L2010.97,1451.33 L2014.23,1451.36 L2017.48,1451.38 L2020.73,1451.41 L2023.99,1451.43 L2027.24,1451.46 L2030.5,1451.49 L2033.75,1451.51 L2037,1451.54 L2040.26,1451.57 L2043.51,1451.6 L2046.77,1451.62 L2050.02,1451.65 L2053.28,1451.68 L2056.53,1451.71 L2059.78,1451.74 L2063.04,1451.77 L2066.29,1451.8 L2069.55,1451.83 L2072.8,1451.86" fill="none" stroke="#6f6f6f" stroke-width="2.7" stroke-linejoin="round"/>
<path d="M1291.8,1220.6 L1295.05,1226.25 L1298.31,1231.66 L1301.56,1236.85 L1304.82,1241.82 L1308.07,1246.6 L1311.33,1251.17 L1314.58,1255.56 L1317.83,1259.77 L1321.09,1263.81 L1324.34,1267.69 L1327.6,1271.41 L1330.85,1274.98 L1334.1,1278.4 L1337.36,1281.69 L1340.61,1284.85 L1343.87,1287.89 L1347.12,1290.8 L1350.38,1293.59 L1353.63,1296.28 L1356.88,1298.86 L1360.14,1301.34 L1363.39,1303.72 L1366.65,1306.01 L1369.9,1308.2 L1373.15,1310.31 L1376.41,1312.34 L1379.66,1314.29 L1382.92,1316.16 L1386.17,1317.96 L1389.42,1319.69 L1392.68,1321.35 L1395.93,1322.95 L1399.19,1324.48 L1402.44,1325.96 L1405.7,1327.37 L1408.95,1328.73 L1412.2,1330.04 L1415.46,1331.3 L1418.71,1332.5 L1421.97,1333.66 L1425.22,1334.78 L1428.47,1335.85 L1431.73,1336.87 L1434.98,1337.86 L1438.24,1338.81 L1441.49,1339.72 L1444.75,1340.59 L1448,1341.43 L1451.25,1342.24 L1454.51,1343.01 L1457.76,1343.75 L1461.02,1344.46 L1464.27,1345.14 L1467.53,1345.8 L1470.78,1346.43 L1474.03,1347.03 L1477.29,1347.6 L1480.54,1348.16 L1483.8,1348.69 L1487.05,1349.19 L1490.3,1349.68 L1493.56,1350.14 L1496.81,1350.59 L1500.07,1351.01 L1503.32,1351.42 L1506.58,1351.8 L1509.83,1352.17 L1513.08,1352.53 L1516.34,1352.87 L1519.59,1353.19 L1522.85,1353.49 L1526.1,1353.79 L1529.35,1354.07 L1532.61,1354.33 L1535.86,1354.58 L1539.12,1354.82 L1542.37,1355.05 L1545.62,1355.26 L1548.88,1355.47 L1552.13,1355.66 L1555.39,1355.84 L1558.64,1356.01 L1561.9,1356.17 L1565.15,1356.33 L1568.4,1356.47 L1571.66,1356.6 L1574.91,1356.73 L1578.17,1356.85 L1581.42,1356.95 L1584.68,1357.06 L1587.93,1357.15 L1591.18,1357.24 L1594.44,1357.32 L1597.69,1357.39 L1600.95,1357.46 L1604.2,1357.52 L1607.45,1357.57 L1610.71,1357.62 L1613.96,1357.66 L1617.22,1357.7 L1620.47,1357.73 L1623.73,1357.76 L1626.98,1357.78 L1630.23,1357.8 L1633.49,1357.81 L1636.74,1357.82 L1640,1357.83 L1643.25,1357.83 L1646.5,1357.82 L1649.76,1357.82 L1653.01,1357.8 L1656.27,1357.79 L1659.52,1357.77 L1662.78,1357.75 L1666.03,1357.72 L1669.28,1357.7 L1672.54,1357.67 L1675.79,1357.63 L1679.05,1357.6 L1682.3,1357.56 L1685.55,1357.52 L1688.81,1357.47 L1692.06,1357.43 L1695.32,1357.38 L1698.57,1357.33 L1701.83,1357.27 L1705.08,1357.22 L1708.33,1357.16 L1711.59,1357.1 L1714.84,1357.04 L1718.1,1356.98 L1721.35,1356.91 L1724.6,1356.85 L1727.86,1356.78 L1731.11,1356.71 L1734.37,1356.64 L1737.62,1356.57 L1740.88,1356.5 L1744.13,1356.42 L1747.38,1356.35 L1750.64,1356.27 L1753.89,1356.19 L1757.15,1356.11 L1760.4,1356.03 L1763.65,1355.95 L1766.91,1355.87 L1770.16,1355.79 L1773.42,1355.71 L1776.67,1355.62 L1779.93,1355.54 L1783.18,1355.45 L1786.43,1355.36 L1789.69,1355.28 L1792.94,1355.19 L1796.2,1355.1 L1799.45,1355.01 L1802.7,1354.92 L1805.96,1354.83 L1809.21,1354.74 L1812.47,1354.65 L1815.72,1354.56 L1818.98,1354.47 L1822.23,1354.38 L1825.48,1354.28 L1828.74,1354.19 L1831.99,1354.1 L1835.25,1354 L1838.5,1353.91 L1841.75,1353.82 L1845.01,1353.72 L1848.26,1353.63 L1851.52,1353.53 L1854.77,1353.44 L1858.03,1353.34 L1861.28,1353.25 L1864.53,1353.15 L1867.79,1353.06 L1871.04,1352.96 L1874.3,1352.87 L1877.55,1352.77 L1880.8,1352.68 L1884.06,1352.58 L1887.31,1352.49 L1890.57,1352.39 L1893.82,1352.29 L1897.08,1352.2 L1900.33,1352.1 L1903.58,1352.01 L1906.84,1351.91 L1910.09,1351.82 L1913.35,1351.72 L1916.6,1351.63 L1919.85,1351.53 L1923.11,1351.44 L1926.36,1351.34 L1929.62,1351.25 L1932.87,1351.15 L1936.12,1351.06 L1939.38,1350.96 L1942.63,1350.87 L1945.89,1350.78 L1949.14,1350.68 L1952.4,1350.59 L1955.65,1350.5 L1958.9,1350.4 L1962.16,1350.31 L1965.41,1350.22 L1968.67,1350.12 L1971.92,1350.03 L1975.18,1349.94 L1978.43,1349.85 L1981.68,1349.75 L1984.94,1349.66 L1988.19,1349.57 L1991.45,1349.48 L1994.7,1349.39 L1997.95,1349.3 L2001.21,1349.21 L2004.46,1349.12 L2007.72,1349.03 L2010.97,1348.94 L2014.23,1348.85 L2017.48,1348.76 L2020.73,1348.67 L2023.99,1348.58 L2027.24,1348.49 L2030.5,1348.4 L2033.75,1348.32 L2037,1348.23 L2040.26,1348.14 L2043.51,1348.05 L2046.77,1347.97 L2050.02,1347.88 L2053.28,1347.79 L2056.53,1347.71 L2059.78,1347.62 L2063.04,1347.54 L2066.29,1347.45 L2069.55,1347.37 L2072.8,1347.28" fill="none" stroke="#ff6666" stroke-width="3.2" stroke-linejoin="round"/>
<path d="M1291.8,1141.72 L1295.05,1146.34 L1298.31,1150.84 L1301.56,1155.21 L1304.82,1159.46 L1308.07,1163.6 L1311.33,1167.63 L1314.58,1171.55 L1317.83,1175.38 L1321.09,1179.1 L1324.34,1182.73 L1327.6,1186.27 L1330.85,1189.71 L1334.1,1193.08 L1337.36,1196.36 L1340.61,1199.56 L1343.87,1202.68 L1347.12,1205.73 L1350.38,1208.71 L1353.63,1211.62 L1356.88,1214.45 L1360.14,1217.23 L1363.39,1219.94 L1366.65,1222.59 L1369.9,1225.18 L1373.15,1227.71 L1376.41,1230.19 L1379.66,1232.61 L1382.92,1234.98 L1386.17,1237.3 L1389.42,1239.57 L1392.68,1241.79 L1395.93,1243.96 L1399.19,1246.09 L1402.44,1248.18 L1405.7,1250.22 L1408.95,1252.22 L1412.2,1254.18 L1415.46,1256.1 L1418.71,1257.99 L1421.97,1259.83 L1425.22,1261.65 L1428.47,1263.42 L1431.73,1265.16 L1434.98,1266.87 L1438.24,1268.55 L1441.49,1270.19 L1444.75,1271.81 L1448,1273.39 L1451.25,1274.95 L1454.51,1276.48 L1457.76,1277.98 L1461.02,1279.45 L1464.27,1280.9 L1467.53,1282.32 L1470.78,1283.71 L1474.03,1285.08 L1477.29,1286.43 L1480.54,1287.76 L1483.8,1289.06 L1487.05,1290.34 L1490.3,1291.6 L1493.56,1292.84 L1496.81,1294.06 L1500.07,1295.25 L1503.32,1296.43 L1506.58,1297.59 L1509.83,1298.73 L1513.08,1299.85 L1516.34,1300.96 L1519.59,1302.05 L1522.85,1303.12 L1526.1,1304.17 L1529.35,1305.21 L1532.61,1306.23 L1535.86,1307.23 L1539.12,1308.22 L1542.37,1309.2 L1545.62,1310.16 L1548.88,1311.11 L1552.13,1312.04 L1555.39,1312.96 L1558.64,1313.86 L1561.9,1314.76 L1565.15,1315.64 L1568.4,1316.5 L1571.66,1317.36 L1574.91,1318.2 L1578.17,1319.03 L1581.42,1319.85 L1584.68,1320.66 L1587.93,1321.46 L1591.18,1322.24 L1594.44,1323.02 L1597.69,1323.78 L1600.95,1324.54 L1604.2,1325.28 L1607.45,1326.01 L1610.71,1326.74 L1613.96,1327.45 L1617.22,1328.16 L1620.47,1328.86 L1623.73,1329.55 L1626.98,1330.22 L1630.23,1330.89 L1633.49,1331.56 L1636.74,1332.21 L1640,1332.85 L1643.25,1333.49 L1646.5,1334.12 L1649.76,1334.74 L1653.01,1335.36 L1656.27,1335.96 L1659.52,1336.56 L1662.78,1337.15 L1666.03,1337.74 L1669.28,1338.32 L1672.54,1338.89 L1675.79,1339.45 L1679.05,1340.01 L1682.3,1340.56 L1685.55,1341.11 L1688.81,1341.64 L1692.06,1342.18 L1695.32,1342.7 L1698.57,1343.22 L1701.83,1343.74 L1705.08,1344.25 L1708.33,1344.75 L1711.59,1345.25 L1714.84,1345.74 L1718.1,1346.23 L1721.35,1346.71 L1724.6,1347.18 L1727.86,1347.65 L1731.11,1348.12 L1734.37,1348.58 L1737.62,1349.04 L1740.88,1349.49 L1744.13,1349.93 L1747.38,1350.38 L1750.64,1350.81 L1753.89,1351.25 L1757.15,1351.67 L1760.4,1352.1 L1763.65,1352.52 L1766.91,1352.93 L1770.16,1353.34 L1773.42,1353.75 L1776.67,1354.15 L1779.93,1354.55 L1783.18,1354.94 L1786.43,1355.34 L1789.69,1355.72 L1792.94,1356.11 L1796.2,1356.49 L1799.45,1356.86 L1802.7,1357.23 L1805.96,1357.6 L1809.21,1357.97 L1812.47,1358.33 L1815.72,1358.69 L1818.98,1359.04 L1822.23,1359.39 L1825.48,1359.74 L1828.74,1360.09 L1831.99,1360.43 L1835.25,1360.77 L1838.5,1361.1 L1841.75,1361.44 L1845.01,1361.77 L1848.26,1362.09 L1851.52,1362.42 L1854.77,1362.74 L1858.03,1363.05 L1861.28,1363.37 L1864.53,1363.68 L1867.79,1363.99 L1871.04,1364.3 L1874.3,1364.6 L1877.55,1364.9 L1880.8,1365.2 L1884.06,1365.5 L1887.31,1365.79 L1890.57,1366.09 L1893.82,1366.37 L1897.08,1366.66 L1900.33,1366.95 L1903.58,1367.23 L1906.84,1367.51 L1910.09,1367.78 L1913.35,1368.06 L1916.6,1368.33 L1919.85,1368.6 L1923.11,1368.87 L1926.36,1369.14 L1929.62,1369.4 L1932.87,1369.66 L1936.12,1369.92 L1939.38,1370.18 L1942.63,1370.44 L1945.89,1370.69 L1949.14,1370.94 L1952.4,1371.19 L1955.65,1371.44 L1958.9,1371.69 L1962.16,1371.93 L1965.41,1372.17 L1968.67,1372.41 L1971.92,1372.65 L1975.18,1372.89 L1978.43,1373.12 L1981.68,1373.36 L1984.94,1373.59 L1988.19,1373.82 L1991.45,1374.05 L1994.7,1374.27 L1997.95,1374.5 L2001.21,1374.72 L2004.46,1374.94 L2007.72,1375.16 L2010.97,1375.38 L2014.23,1375.6 L2017.48,1375.82 L2020.73,1376.03 L2023.99,1376.24 L2027.24,1376.45 L2030.5,1376.66 L2033.75,1376.87 L2037,1377.08 L2040.26,1377.28 L2043.51,1377.48 L2046.77,1377.69 L2050.02,1377.89 L2053.28,1378.09 L2056.53,1378.29 L2059.78,1378.48 L2063.04,1378.68 L2066.29,1378.87 L2069.55,1379.07 L2072.8,1379.26" fill="none" stroke="#238be6" stroke-width="3.2" stroke-linejoin="round"/>
<path d="M1291.8,1061.73 L1295.05,1067.59 L1298.31,1073.24 L1301.56,1078.69 L1304.82,1083.95 L1308.07,1089.02 L1311.33,1093.92 L1314.58,1098.65 L1317.83,1103.21 L1321.09,1107.63 L1324.34,1111.89 L1327.6,1116.01 L1330.85,1120 L1334.1,1123.86 L1337.36,1127.6 L1340.61,1131.21 L1343.87,1134.71 L1347.12,1138.1 L1350.38,1141.39 L1353.63,1144.57 L1356.88,1147.66 L1360.14,1150.65 L1363.39,1153.56 L1366.65,1156.37 L1369.9,1159.11 L1373.15,1161.76 L1376.41,1164.34 L1379.66,1166.85 L1382.92,1169.28 L1386.17,1171.65 L1389.42,1173.95 L1392.68,1176.18 L1395.93,1178.36 L1399.19,1180.48 L1402.44,1182.54 L1405.7,1184.54 L1408.95,1186.49 L1412.2,1188.39 L1415.46,1190.25 L1418.71,1192.05 L1421.97,1193.81 L1425.22,1195.52 L1428.47,1197.19 L1431.73,1198.82 L1434.98,1200.41 L1438.24,1201.96 L1441.49,1203.48 L1444.75,1204.95 L1448,1206.4 L1451.25,1207.81 L1454.51,1209.18 L1457.76,1210.53 L1461.02,1211.84 L1464.27,1213.12 L1467.53,1214.38 L1470.78,1215.6 L1474.03,1216.8 L1477.29,1217.97 L1480.54,1219.12 L1483.8,1220.25 L1487.05,1221.34 L1490.3,1222.42 L1493.56,1223.47 L1496.81,1224.5 L1500.07,1225.51 L1503.32,1226.5 L1506.58,1227.47 L1509.83,1228.42 L1513.08,1229.35 L1516.34,1230.26 L1519.59,1231.15 L1522.85,1232.03 L1526.1,1232.89 L1529.35,1233.73 L1532.61,1234.56 L1535.86,1235.37 L1539.12,1236.17 L1542.37,1236.95 L1545.62,1237.71 L1548.88,1238.47 L1552.13,1239.2 L1555.39,1239.93 L1558.64,1240.64 L1561.9,1241.34 L1565.15,1242.03 L1568.4,1242.7 L1571.66,1243.37 L1574.91,1244.02 L1578.17,1244.66 L1581.42,1245.29 L1584.68,1245.91 L1587.93,1246.52 L1591.18,1247.12 L1594.44,1247.71 L1597.69,1248.29 L1600.95,1248.86 L1604.2,1249.42 L1607.45,1249.97 L1610.71,1250.51 L1613.96,1251.05 L1617.22,1251.57 L1620.47,1252.09 L1623.73,1252.6 L1626.98,1253.1 L1630.23,1253.6 L1633.49,1254.08 L1636.74,1254.56 L1640,1255.04 L1643.25,1255.5 L1646.5,1255.96 L1649.76,1256.41 L1653.01,1256.86 L1656.27,1257.3 L1659.52,1257.73 L1662.78,1258.15 L1666.03,1258.57 L1669.28,1258.99 L1672.54,1259.4 L1675.79,1259.8 L1679.05,1260.2 L1682.3,1260.59 L1685.55,1260.98 L1688.81,1261.36 L1692.06,1261.73 L1695.32,1262.11 L1698.57,1262.47 L1701.83,1262.83 L1705.08,1263.19 L1708.33,1263.54 L1711.59,1263.89 L1714.84,1264.23 L1718.1,1264.57 L1721.35,1264.91 L1724.6,1265.24 L1727.86,1265.56 L1731.11,1265.88 L1734.37,1266.2 L1737.62,1266.51 L1740.88,1266.82 L1744.13,1267.13 L1747.38,1267.43 L1750.64,1267.73 L1753.89,1268.03 L1757.15,1268.32 L1760.4,1268.61 L1763.65,1268.89 L1766.91,1269.17 L1770.16,1269.45 L1773.42,1269.73 L1776.67,1270 L1779.93,1270.27 L1783.18,1270.53 L1786.43,1270.8 L1789.69,1271.06 L1792.94,1271.31 L1796.2,1271.57 L1799.45,1271.82 L1802.7,1272.07 L1805.96,1272.31 L1809.21,1272.56 L1812.47,1272.8 L1815.72,1273.03 L1818.98,1273.27 L1822.23,1273.5 L1825.48,1273.73 L1828.74,1273.96 L1831.99,1274.18 L1835.25,1274.41 L1838.5,1274.63 L1841.75,1274.85 L1845.01,1275.06 L1848.26,1275.28 L1851.52,1275.49 L1854.77,1275.7 L1858.03,1275.9 L1861.28,1276.11 L1864.53,1276.31 L1867.79,1276.51 L1871.04,1276.71 L1874.3,1276.91 L1877.55,1277.11 L1880.8,1277.3 L1884.06,1277.49 L1887.31,1277.68 L1890.57,1277.87 L1893.82,1278.05 L1897.08,1278.24 L1900.33,1278.42 L1903.58,1278.6 L1906.84,1278.78 L1910.09,1278.96 L1913.35,1279.13 L1916.6,1279.31 L1919.85,1279.48 L1923.11,1279.65 L1926.36,1279.82 L1929.62,1279.99 L1932.87,1280.15 L1936.12,1280.32 L1939.38,1280.48 L1942.63,1280.64 L1945.89,1280.8 L1949.14,1280.96 L1952.4,1281.12 L1955.65,1281.27 L1958.9,1281.43 L1962.16,1281.58 L1965.41,1281.73 L1968.67,1281.89 L1971.92,1282.03 L1975.18,1282.18 L1978.43,1282.33 L1981.68,1282.48 L1984.94,1282.62 L1988.19,1282.76 L1991.45,1282.9 L1994.7,1283.04 L1997.95,1283.18 L2001.21,1283.32 L2004.46,1283.46 L2007.72,1283.6 L2010.97,1283.73 L2014.23,1283.86 L2017.48,1284 L2020.73,1284.13 L2023.99,1284.26 L2027.24,1284.39 L2030.5,1284.52 L2033.75,1284.65 L2037,1284.77 L2040.26,1284.9 L2043.51,1285.02 L2046.77,1285.14 L2050.02,1285.27 L2053.28,1285.39 L2056.53,1285.51 L2059.78,1285.63 L2063.04,1285.75 L2066.29,1285.87 L2069.55,1285.98 L2072.8,1286.1" fill="none" stroke="#1fbf80" stroke-width="3.2" stroke-linejoin="round"/>
<path d="M1291.8,1046.86 L1295.05,1053.32 L1298.31,1059.52 L1301.56,1065.48 L1304.82,1071.21 L1308.07,1076.73 L1311.33,1082.03 L1314.58,1087.14 L1317.83,1092.06 L1321.09,1096.8 L1324.34,1101.37 L1327.6,1105.77 L1330.85,1110.01 L1334.1,1114.11 L1337.36,1118.06 L1340.61,1121.87 L1343.87,1125.55 L1347.12,1129.11 L1350.38,1132.55 L1353.63,1135.87 L1356.88,1139.08 L1360.14,1142.18 L1363.39,1145.19 L1366.65,1148.1 L1369.9,1150.91 L1373.15,1153.64 L1376.41,1156.28 L1379.66,1158.84 L1382.92,1161.32 L1386.17,1163.72 L1389.42,1166.06 L1392.68,1168.32 L1395.93,1170.51 L1399.19,1172.64 L1402.44,1174.71 L1405.7,1176.72 L1408.95,1178.67 L1412.2,1180.57 L1415.46,1182.41 L1418.71,1184.2 L1421.97,1185.95 L1425.22,1187.64 L1428.47,1189.29 L1431.73,1190.9 L1434.98,1192.46 L1438.24,1193.98 L1441.49,1195.46 L1444.75,1196.91 L1448,1198.32 L1451.25,1199.69 L1454.51,1201.02 L1457.76,1202.33 L1461.02,1203.6 L1464.27,1204.84 L1467.53,1206.05 L1470.78,1207.23 L1474.03,1208.38 L1477.29,1209.51 L1480.54,1210.61 L1483.8,1211.69 L1487.05,1212.73 L1490.3,1213.76 L1493.56,1214.76 L1496.81,1215.74 L1500.07,1216.7 L1503.32,1217.64 L1506.58,1218.56 L1509.83,1219.45 L1513.08,1220.33 L1516.34,1221.19 L1519.59,1222.03 L1522.85,1222.86 L1526.1,1223.66 L1529.35,1224.45 L1532.61,1225.23 L1535.86,1225.99 L1539.12,1226.73 L1542.37,1227.46 L1545.62,1228.17 L1548.88,1228.87 L1552.13,1229.56 L1555.39,1230.23 L1558.64,1230.89 L1561.9,1231.54 L1565.15,1232.18 L1568.4,1232.8 L1571.66,1233.41 L1574.91,1234.01 L1578.17,1234.6 L1581.42,1235.18 L1584.68,1235.75 L1587.93,1236.31 L1591.18,1236.86 L1594.44,1237.4 L1597.69,1237.93 L1600.95,1238.45 L1604.2,1238.96 L1607.45,1239.46 L1610.71,1239.96 L1613.96,1240.44 L1617.22,1240.92 L1620.47,1241.39 L1623.73,1241.85 L1626.98,1242.31 L1630.23,1242.76 L1633.49,1243.2 L1636.74,1243.63 L1640,1244.05 L1643.25,1244.47 L1646.5,1244.89 L1649.76,1245.29 L1653.01,1245.69 L1656.27,1246.08 L1659.52,1246.47 L1662.78,1246.85 L1666.03,1247.23 L1669.28,1247.6 L1672.54,1247.96 L1675.79,1248.32 L1679.05,1248.67 L1682.3,1249.02 L1685.55,1249.37 L1688.81,1249.7 L1692.06,1250.04 L1695.32,1250.36 L1698.57,1250.69 L1701.83,1251.01 L1705.08,1251.32 L1708.33,1251.63 L1711.59,1251.94 L1714.84,1252.24 L1718.1,1252.53 L1721.35,1252.83 L1724.6,1253.11 L1727.86,1253.4 L1731.11,1253.68 L1734.37,1253.96 L1737.62,1254.23 L1740.88,1254.5 L1744.13,1254.76 L1747.38,1255.02 L1750.64,1255.28 L1753.89,1255.54 L1757.15,1255.79 L1760.4,1256.04 L1763.65,1256.28 L1766.91,1256.52 L1770.16,1256.76 L1773.42,1257 L1776.67,1257.23 L1779.93,1257.46 L1783.18,1257.69 L1786.43,1257.91 L1789.69,1258.13 L1792.94,1258.35 L1796.2,1258.56 L1799.45,1258.77 L1802.7,1258.98 L1805.96,1259.19 L1809.21,1259.39 L1812.47,1259.6 L1815.72,1259.79 L1818.98,1259.99 L1822.23,1260.19 L1825.48,1260.38 L1828.74,1260.57 L1831.99,1260.75 L1835.25,1260.94 L1838.5,1261.12 L1841.75,1261.3 L1845.01,1261.48 L1848.26,1261.65 L1851.52,1261.83 L1854.77,1262 L1858.03,1262.17 L1861.28,1262.34 L1864.53,1262.5 L1867.79,1262.66 L1871.04,1262.82 L1874.3,1262.98 L1877.55,1263.14 L1880.8,1263.3 L1884.06,1263.45 L1887.31,1263.6 L1890.57,1263.75 L1893.82,1263.9 L1897.08,1264.05 L1900.33,1264.19 L1903.58,1264.33 L1906.84,1264.48 L1910.09,1264.62 L1913.35,1264.75 L1916.6,1264.89 L1919.85,1265.02 L1923.11,1265.16 L1926.36,1265.29 L1929.62,1265.42 L1932.87,1265.55 L1936.12,1265.67 L1939.38,1265.8 L1942.63,1265.92 L1945.89,1266.05 L1949.14,1266.17 L1952.4,1266.29 L1955.65,1266.41 L1958.9,1266.52 L1962.16,1266.64 L1965.41,1266.75 L1968.67,1266.87 L1971.92,1266.98 L1975.18,1267.09 L1978.43,1267.2 L1981.68,1267.3 L1984.94,1267.41 L1988.19,1267.52 L1991.45,1267.62 L1994.7,1267.72 L1997.95,1267.82 L2001.21,1267.92 L2004.46,1268.02 L2007.72,1268.12 L2010.97,1268.22 L2014.23,1268.31 L2017.48,1268.41 L2020.73,1268.5 L2023.99,1268.6 L2027.24,1268.69 L2030.5,1268.78 L2033.75,1268.87 L2037,1268.95 L2040.26,1269.04 L2043.51,1269.13 L2046.77,1269.21 L2050.02,1269.3 L2053.28,1269.38 L2056.53,1269.46 L2059.78,1269.54 L2063.04,1269.62 L2066.29,1269.7 L2069.55,1269.78 L2072.8,1269.86" fill="none" stroke="#d294f0" stroke-width="3.2" stroke-linejoin="round"/>
<path d="M1291.8,1019.44 L1295.05,1024.75 L1298.31,1029.87 L1301.56,1034.83 L1304.82,1039.63 L1308.07,1044.27 L1311.33,1048.77 L1314.58,1053.12 L1317.83,1057.34 L1321.09,1061.43 L1324.34,1065.4 L1327.6,1069.25 L1330.85,1072.98 L1334.1,1076.61 L1337.36,1080.14 L1340.61,1083.57 L1343.87,1086.91 L1347.12,1090.15 L1350.38,1093.31 L1353.63,1096.38 L1356.88,1099.38 L1360.14,1102.29 L1363.39,1105.14 L1366.65,1107.91 L1369.9,1110.62 L1373.15,1113.26 L1376.41,1115.83 L1379.66,1118.35 L1382.92,1120.8 L1386.17,1123.2 L1389.42,1125.55 L1392.68,1127.84 L1395.93,1130.08 L1399.19,1132.28 L1402.44,1134.42 L1405.7,1136.52 L1408.95,1138.58 L1412.2,1140.59 L1415.46,1142.57 L1418.71,1144.5 L1421.97,1146.39 L1425.22,1148.25 L1428.47,1150.07 L1431.73,1151.85 L1434.98,1153.6 L1438.24,1155.32 L1441.49,1157.01 L1444.75,1158.66 L1448,1160.28 L1451.25,1161.88 L1454.51,1163.44 L1457.76,1164.98 L1461.02,1166.49 L1464.27,1167.97 L1467.53,1169.43 L1470.78,1170.87 L1474.03,1172.28 L1477.29,1173.66 L1480.54,1175.02 L1483.8,1176.36 L1487.05,1177.68 L1490.3,1178.98 L1493.56,1180.25 L1496.81,1181.51 L1500.07,1182.75 L1503.32,1183.96 L1506.58,1185.16 L1509.83,1186.34 L1513.08,1187.5 L1516.34,1188.64 L1519.59,1189.77 L1522.85,1190.88 L1526.1,1191.97 L1529.35,1193.05 L1532.61,1194.11 L1535.86,1195.15 L1539.12,1196.18 L1542.37,1197.2 L1545.62,1198.2 L1548.88,1199.18 L1552.13,1200.15 L1555.39,1201.11 L1558.64,1202.06 L1561.9,1202.99 L1565.15,1203.91 L1568.4,1204.81 L1571.66,1205.71 L1574.91,1206.59 L1578.17,1207.46 L1581.42,1208.31 L1584.68,1209.16 L1587.93,1209.99 L1591.18,1210.82 L1594.44,1211.63 L1597.69,1212.43 L1600.95,1213.22 L1604.2,1214 L1607.45,1214.77 L1610.71,1215.53 L1613.96,1216.28 L1617.22,1217.02 L1620.47,1217.76 L1623.73,1218.48 L1626.98,1219.19 L1630.23,1219.89 L1633.49,1220.59 L1636.74,1221.27 L1640,1221.95 L1643.25,1222.62 L1646.5,1223.28 L1649.76,1223.93 L1653.01,1224.57 L1656.27,1225.21 L1659.52,1225.83 L1662.78,1226.45 L1666.03,1227.06 L1669.28,1227.67 L1672.54,1228.26 L1675.79,1228.85 L1679.05,1229.44 L1682.3,1230.01 L1685.55,1230.58 L1688.81,1231.14 L1692.06,1231.69 L1695.32,1232.24 L1698.57,1232.78 L1701.83,1233.31 L1705.08,1233.84 L1708.33,1234.36 L1711.59,1234.87 L1714.84,1235.38 L1718.1,1235.88 L1721.35,1236.38 L1724.6,1236.87 L1727.86,1237.35 L1731.11,1237.83 L1734.37,1238.3 L1737.62,1238.77 L1740.88,1239.23 L1744.13,1239.69 L1747.38,1240.13 L1750.64,1240.58 L1753.89,1241.02 L1757.15,1241.45 L1760.4,1241.88 L1763.65,1242.3 L1766.91,1242.72 L1770.16,1243.13 L1773.42,1243.54 L1776.67,1243.94 L1779.93,1244.34 L1783.18,1244.74 L1786.43,1245.12 L1789.69,1245.51 L1792.94,1245.89 L1796.2,1246.26 L1799.45,1246.63 L1802.7,1247 L1805.96,1247.36 L1809.21,1247.72 L1812.47,1248.07 L1815.72,1248.42 L1818.98,1248.76 L1822.23,1249.1 L1825.48,1249.44 L1828.74,1249.77 L1831.99,1250.1 L1835.25,1250.42 L1838.5,1250.74 L1841.75,1251.05 L1845.01,1251.37 L1848.26,1251.67 L1851.52,1251.98 L1854.77,1252.28 L1858.03,1252.57 L1861.28,1252.87 L1864.53,1253.16 L1867.79,1253.44 L1871.04,1253.72 L1874.3,1254 L1877.55,1254.28 L1880.8,1254.55 L1884.06,1254.82 L1887.31,1255.08 L1890.57,1255.34 L1893.82,1255.6 L1897.08,1255.86 L1900.33,1256.11 L1903.58,1256.36 L1906.84,1256.6 L1910.09,1256.85 L1913.35,1257.09 L1916.6,1257.32 L1919.85,1257.55 L1923.11,1257.78 L1926.36,1258.01 L1929.62,1258.24 L1932.87,1258.46 L1936.12,1258.68 L1939.38,1258.89 L1942.63,1259.1 L1945.89,1259.31 L1949.14,1259.52 L1952.4,1259.72 L1955.65,1259.93 L1958.9,1260.12 L1962.16,1260.32 L1965.41,1260.51 L1968.67,1260.71 L1971.92,1260.89 L1975.18,1261.08 L1978.43,1261.26 L1981.68,1261.44 L1984.94,1261.62 L1988.19,1261.8 L1991.45,1261.97 L1994.7,1262.14 L1997.95,1262.31 L2001.21,1262.48 L2004.46,1262.64 L2007.72,1262.8 L2010.97,1262.96 L2014.23,1263.12 L2017.48,1263.27 L2020.73,1263.42 L2023.99,1263.57 L2027.24,1263.72 L2030.5,1263.87 L2033.75,1264.01 L2037,1264.15 L2040.26,1264.29 L2043.51,1264.43 L2046.77,1264.56 L2050.02,1264.7 L2053.28,1264.83 L2056.53,1264.95 L2059.78,1265.08 L2063.04,1265.21 L2066.29,1265.33 L2069.55,1265.45 L2072.8,1265.57" fill="none" stroke="#e6aa2a" stroke-width="3.2" stroke-linejoin="round"/>
<rect x="1291.8" y="888" width="781" height="628.6" fill="none" stroke="#1c1c1c" stroke-width="4.0"/>
<path d="M1291.8,1516.6V1529.4M1421.97,1516.6V1529.4M1552.13,1516.6V1529.4M1682.3,1516.6V1529.4M1812.47,1516.6V1529.4M1942.63,1516.6V1529.4M2072.8,1516.6V1529.4M1356.88,1516.6V1523.2M1487.05,1516.6V1523.2M1617.22,1516.6V1523.2M1747.38,1516.6V1523.2M1877.55,1516.6V1523.2M2007.72,1516.6V1523.2M1291.8,1516.6H1279M1291.8,1402.31H1279M1291.8,1288.02H1279M1291.8,1173.73H1279M1291.8,1059.44H1279M1291.8,945.15H1279M1291.8,1459.45H1285.2M1291.8,1345.16H1285.2M1291.8,1230.87H1285.2M1291.8,1116.58H1285.2M1291.8,1002.29H1285.2M1291.8,888H1285.2" stroke="#1c1c1c" stroke-width="3.40" fill="none"/>
<text x="1196.54" y="1530.41" font-size="42.5" font-family="'Liberation Serif','Times New Roman',serif" font-weight="bold">0.02</text>
<text x="1196.11" y="1416.12" font-size="42.5" font-family="'Liberation Serif','Times New Roman',serif" font-weight="bold">0.03</text>
<text x="1195.47" y="1301.83" font-size="42.5" font-family="'Liberation Serif','Times New Roman',serif" font-weight="bold">0.04</text>
<text x="1196.11" y="1187.54" font-size="42.5" font-family="'Liberation Serif','Times New Roman',serif" font-weight="bold">0.05</text>
<text x="1195.9" y="1073.25" font-size="42.5" font-family="'Liberation Serif','Times New Roman',serif" font-weight="bold">0.06</text>
<text x="1195.69" y="958.96" font-size="42.5" font-family="'Liberation Serif','Times New Roman',serif" font-weight="bold">0.07</text>
<text x="1260.46" y="1570.06" font-size="42.5" font-family="'Liberation Serif','Times New Roman',serif" font-weight="bold">400</text>
<text x="1390.09" y="1570.06" font-size="42.5" font-family="'Liberation Serif','Times New Roman',serif" font-weight="bold">500</text>
<text x="1520.36" y="1570.06" font-size="42.5" font-family="'Liberation Serif','Times New Roman',serif" font-weight="bold">600</text>
<text x="1650.11" y="1570.06" font-size="42.5" font-family="'Liberation Serif','Times New Roman',serif" font-weight="bold">700</text>
<text x="1780.7" y="1570.06" font-size="42.5" font-family="'Liberation Serif','Times New Roman',serif" font-weight="bold">800</text>
<text x="1910.97" y="1570.06" font-size="42.5" font-family="'Liberation Serif','Times New Roman',serif" font-weight="bold">900</text>
<text x="2029.45" y="1570.06" font-size="42.5" font-family="'Liberation Serif','Times New Roman',serif" font-weight="bold">1000</text>
<text transform="translate(1074.25,920.11) scale(1.0327,1)" x="0" y="0" font-size="74.22" font-family="'Liberation Serif','Times New Roman',serif" font-weight="bold">(d)</text>
<text transform="translate(1180.1,1353.3) rotate(-90) scale(1.0006,1)" x="0" y="0" font-size="53" font-family="'Liberation Serif','Times New Roman',serif" font-weight="bold">Birefringence</text>
<text x="1484.59" y="1646.69" font-size="54" font-family="'Liberation Serif','Times New Roman',serif" font-weight="bold">Wavelength (nm)</text>
<rect x="1849" y="901.7" width="149.9" height="318" fill="#fff" stroke="#d2d2d2" stroke-width="2.6"/>
<path d="M1851,937.6H1919.5" stroke="#8a8a8a" stroke-width="2.8"/>
<text x="1919.88" y="949.69" font-size="41.5" font-family="'Liberation Serif','Times New Roman',serif" font-weight="bold">PI-0</text>
<path d="M1851,989.5H1919.5" stroke="#ff7676" stroke-width="2.8"/>
<text x="1919.88" y="1001.59" font-size="41.5" font-family="'Liberation Serif','Times New Roman',serif" font-weight="bold">PI-1</text>
<path d="M1851,1041.2H1919.5" stroke="#2f93ee" stroke-width="2.8"/>
<text x="1919.88" y="1053.4" font-size="41.5" font-family="'Liberation Serif','Times New Roman',serif" font-weight="bold">PI-2</text>
<path d="M1851,1092.7H1919.5" stroke="#35c98d" stroke-width="2.8"/>
<text x="1919.88" y="1104.69" font-size="41.5" font-family="'Liberation Serif','Times New Roman',serif" font-weight="bold">PI-3</text>
<path d="M1851,1144.3H1919.5" stroke="#d9a0f5" stroke-width="2.8"/>
<text x="1919.88" y="1156.39" font-size="41.5" font-family="'Liberation Serif','Times New Roman',serif" font-weight="bold">PI-4</text>
<path d="M1851,1196H1919.5" stroke="#ecbc55" stroke-width="2.8"/>
<text x="1919.88" y="1207.88" font-size="41.5" font-family="'Liberation Serif','Times New Roman',serif" font-weight="bold">PI-5</text>
</svg></body></html>
